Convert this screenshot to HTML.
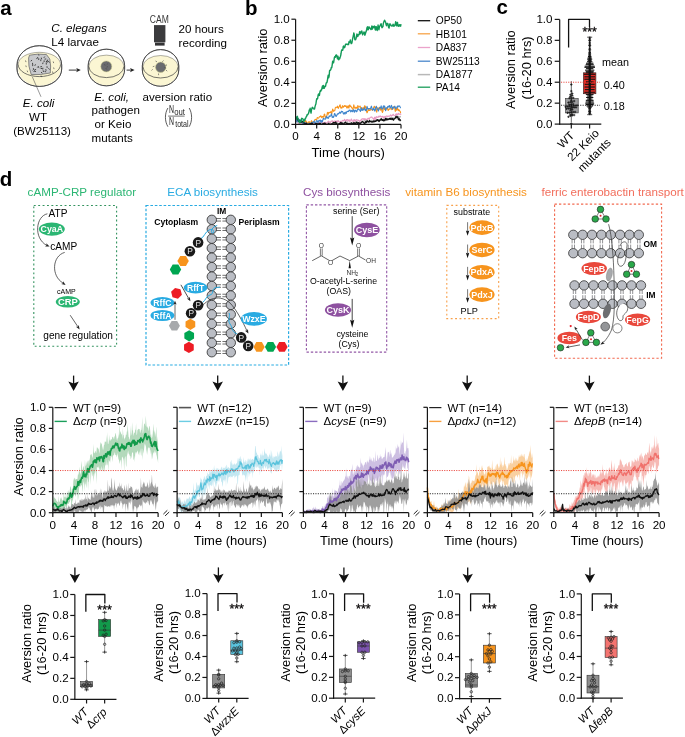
<!DOCTYPE html>
<html><head><meta charset="utf-8"><style>
html,body{margin:0;padding:0;background:#fff;}
svg{display:block;font-family:"Liberation Sans",sans-serif;will-change:transform;}
</style></head><body>
<svg width="685" height="737" viewBox="0 0 685 737">
<rect width="685" height="737" fill="#fff"/>
<text x="0.3" y="14.6" font-size="20.5" font-weight="bold" fill="#000">a</text>
<text x="245" y="14.6" font-size="20.5" font-weight="bold" fill="#000">b</text>
<text x="496.6" y="14.2" font-size="20.5" font-weight="bold" fill="#000">c</text>
<text x="-0.2" y="185.6" font-size="20.5" font-weight="bold" fill="#000">d</text>
<path d="M17,65.2 A22.35,19.5 0 0 1 61.7,65.2 L61.7,68.9 A22.35,17.5 0 0 1 17,68.9 Z" fill="#fff" stroke="#3c3c3c" stroke-width="0.7"/>
<path d="M18.15,64.45 A21.2,12.15 0 0 1 60.55,64.45 L60.55,68.9 A21.2,16.9 0 0 1 18.15,68.9 Z" fill="#fbf6d3" stroke="none" stroke-width="0"/>
<path d="M18.15,64.45 A21.2,12.15 0 0 0 60.55,64.45" fill="none" stroke="#3c3c3c" stroke-width="0.7"/>
<path d="M18.15,64.45 A21.2,12.15 0 0 1 60.55,64.45" fill="none" stroke="#3c3c3c" stroke-width="0.5" opacity="0.8"/>
<path d="M17,65.2 A22.35,19.5 0 0 1 61.7,65.2 L61.7,68.9 A22.35,17.5 0 0 1 17,68.9 Z" fill="none" stroke="#3c3c3c" stroke-width="0.75"/>
<path d="M88.2,65.5 A18.2,16.3 0 0 1 124.6,65.5 L124.6,69.5 A18.2,16.3 0 0 1 88.2,69.5 Z" fill="#fff" stroke="#3c3c3c" stroke-width="0.7"/>
<path d="M88.8,66.35 A17.6,11.25 0 0 1 124,66.35 L124,69.5 A17.6,15.7 0 0 1 88.8,69.5 Z" fill="#fbf6d3" stroke="none" stroke-width="0"/>
<path d="M88.8,66.35 A17.6,11.25 0 0 0 124,66.35" fill="none" stroke="#3c3c3c" stroke-width="0.7"/>
<path d="M88.8,66.35 A17.6,11.25 0 0 1 124,66.35" fill="none" stroke="#3c3c3c" stroke-width="0.5" opacity="0.8"/>
<path d="M88.2,65.5 A18.2,16.3 0 0 1 124.6,65.5 L124.6,69.5 A18.2,16.3 0 0 1 88.2,69.5 Z" fill="none" stroke="#3c3c3c" stroke-width="0.75"/>
<path d="M142.35,65.9 A18.2,16.3 0 0 1 178.75,65.9 L178.75,69.9 A18.2,16.3 0 0 1 142.35,69.9 Z" fill="#fff" stroke="#3c3c3c" stroke-width="0.7"/>
<path d="M142.95,66.75 A17.6,11.25 0 0 1 178.15,66.75 L178.15,69.9 A17.6,15.7 0 0 1 142.95,69.9 Z" fill="#fbf6d3" stroke="none" stroke-width="0"/>
<path d="M142.95,66.75 A17.6,11.25 0 0 0 178.15,66.75" fill="none" stroke="#3c3c3c" stroke-width="0.7"/>
<path d="M142.95,66.75 A17.6,11.25 0 0 1 178.15,66.75" fill="none" stroke="#3c3c3c" stroke-width="0.5" opacity="0.8"/>
<path d="M142.35,65.9 A18.2,16.3 0 0 1 178.75,65.9 L178.75,69.9 A18.2,16.3 0 0 1 142.35,69.9 Z" fill="none" stroke="#3c3c3c" stroke-width="0.75"/>
<path d="M29.5,55.2 Q38,53.2 46.5,54.6 L49.8,59 Q51.2,66 50.3,73 Q40,75.2 31.2,74.6 Q28,66 28.6,58 Z" fill="#c8c9cc" stroke="#4a4a4a" stroke-width="0.6"/>
<line x1="32.08" y1="60.14" x2="30.71" y2="61.14" stroke="#1a1a1a" stroke-width="0.75"/>
<line x1="41.27" y1="57.65" x2="41.62" y2="59.31" stroke="#1a1a1a" stroke-width="0.75"/>
<line x1="39.36" y1="58.8" x2="38.22" y2="60.05" stroke="#1a1a1a" stroke-width="0.75"/>
<line x1="32.6" y1="62.85" x2="32.51" y2="64.54" stroke="#1a1a1a" stroke-width="0.75"/>
<line x1="38.47" y1="66.27" x2="37.31" y2="67.52" stroke="#1a1a1a" stroke-width="0.75"/>
<line x1="48.19" y1="60.97" x2="47.43" y2="62.49" stroke="#1a1a1a" stroke-width="0.75"/>
<line x1="43.38" y1="61.12" x2="45.08" y2="61.13" stroke="#1a1a1a" stroke-width="0.75"/>
<line x1="48.51" y1="61.22" x2="49.45" y2="62.64" stroke="#1a1a1a" stroke-width="0.75"/>
<line x1="47" y1="66.24" x2="47.15" y2="67.93" stroke="#1a1a1a" stroke-width="0.75"/>
<line x1="44.81" y1="56.53" x2="43.78" y2="57.88" stroke="#1a1a1a" stroke-width="0.75"/>
<line x1="37.42" y1="57.59" x2="36.6" y2="59.08" stroke="#1a1a1a" stroke-width="0.75"/>
<line x1="47.73" y1="59.63" x2="47.06" y2="61.19" stroke="#1a1a1a" stroke-width="0.75"/>
<line x1="36.02" y1="68.98" x2="34.92" y2="70.28" stroke="#1a1a1a" stroke-width="0.75"/>
<line x1="34.55" y1="70.52" x2="33.74" y2="72.02" stroke="#1a1a1a" stroke-width="0.75"/>
<line x1="43.13" y1="70.35" x2="43.51" y2="72.01" stroke="#1a1a1a" stroke-width="0.75"/>
<line x1="44.54" y1="71.37" x2="46.15" y2="71.91" stroke="#1a1a1a" stroke-width="0.75"/>
<line x1="46.22" y1="62.89" x2="46.33" y2="64.59" stroke="#1a1a1a" stroke-width="0.75"/>
<line x1="33.21" y1="68.22" x2="34.24" y2="69.57" stroke="#1a1a1a" stroke-width="0.75"/>
<line x1="46.62" y1="60.82" x2="46.29" y2="62.49" stroke="#1a1a1a" stroke-width="0.75"/>
<line x1="37.89" y1="66.73" x2="39.28" y2="67.71" stroke="#1a1a1a" stroke-width="0.75"/>
<line x1="33.84" y1="69.07" x2="32.62" y2="70.26" stroke="#1a1a1a" stroke-width="0.75"/>
<line x1="40.99" y1="72.12" x2="42.35" y2="73.14" stroke="#1a1a1a" stroke-width="0.75"/>
<line x1="46.24" y1="58.96" x2="44.55" y2="59.15" stroke="#1a1a1a" stroke-width="0.75"/>
<line x1="42.04" y1="66.62" x2="40.35" y2="66.78" stroke="#1a1a1a" stroke-width="0.75"/>
<line x1="45.06" y1="69.82" x2="46.74" y2="70.11" stroke="#1a1a1a" stroke-width="0.75"/>
<line x1="37.33" y1="57.49" x2="38.73" y2="58.46" stroke="#1a1a1a" stroke-width="0.75"/>
<line x1="34.46" y1="71.03" x2="36.02" y2="71.69" stroke="#1a1a1a" stroke-width="0.75"/>
<line x1="35.99" y1="64.62" x2="34.48" y2="65.4" stroke="#1a1a1a" stroke-width="0.75"/>
<line x1="48.36" y1="68.39" x2="49.69" y2="69.45" stroke="#1a1a1a" stroke-width="0.75"/>
<line x1="40.58" y1="68.35" x2="42.26" y2="68.63" stroke="#1a1a1a" stroke-width="0.75"/>
<line x1="43.08" y1="62.44" x2="42.61" y2="64.08" stroke="#1a1a1a" stroke-width="0.75"/>
<line x1="42.89" y1="67.71" x2="42.76" y2="69.41" stroke="#1a1a1a" stroke-width="0.75"/>
<line x1="40.76" y1="59.47" x2="40.79" y2="61.17" stroke="#1a1a1a" stroke-width="0.75"/>
<line x1="32.82" y1="64.41" x2="32.63" y2="66.1" stroke="#1a1a1a" stroke-width="0.75"/>
<line x1="25.5" y1="60.5" x2="26" y2="62.1" stroke="#333" stroke-width="0.6"/>
<line x1="25.8" y1="65.5" x2="26.3" y2="67.1" stroke="#333" stroke-width="0.6"/>
<line x1="53.2" y1="61.5" x2="53.7" y2="63.1" stroke="#333" stroke-width="0.6"/>
<line x1="53.6" y1="67.5" x2="54.1" y2="69.1" stroke="#333" stroke-width="0.6"/>
<line x1="27.2" y1="70.6" x2="27.7" y2="72.2" stroke="#333" stroke-width="0.6"/>
<line x1="52.5" y1="71.5" x2="53" y2="73.1" stroke="#333" stroke-width="0.6"/>
<line x1="38.5" y1="54.2" x2="39" y2="55.8" stroke="#333" stroke-width="0.6"/>
<line x1="41" y1="75.5" x2="41.5" y2="77.1" stroke="#333" stroke-width="0.6"/>
<line x1="32.3" y1="76.8" x2="41" y2="96.8" stroke="#444" stroke-width="0.55"/>
<circle cx="106.3" cy="66.4" r="5.5" fill="#6a6b6e" stroke="#c9c98a" stroke-width="0.5"/>
<line x1="104.5" y1="64" x2="105.15" y2="65.68" stroke="#4a4a4c" stroke-width="0.6"/>
<line x1="107.5" y1="66" x2="106.92" y2="67.7" stroke="#4a4a4c" stroke-width="0.6"/>
<line x1="105.5" y1="68.5" x2="107.16" y2="69.2" stroke="#4a4a4c" stroke-width="0.6"/>
<line x1="108" y1="63.5" x2="106.67" y2="64.72" stroke="#4a4a4c" stroke-width="0.6"/>
<circle cx="160.7" cy="67.2" r="5.2" fill="#6a6b6e" stroke="#c9c98a" stroke-width="0.5"/>
<line x1="155.5" y1="61" x2="156.99" y2="61.82" stroke="#333" stroke-width="0.55"/>
<line x1="163.5" y1="60.5" x2="162.37" y2="61.77" stroke="#333" stroke-width="0.55"/>
<line x1="166.5" y1="64.5" x2="165.95" y2="66.11" stroke="#333" stroke-width="0.55"/>
<line x1="151.5" y1="70.5" x2="152.68" y2="69.28" stroke="#333" stroke-width="0.55"/>
<line x1="158.5" y1="73.5" x2="158.62" y2="75.2" stroke="#333" stroke-width="0.55"/>
<line x1="166" y1="70" x2="167.18" y2="71.22" stroke="#333" stroke-width="0.55"/>
<line x1="152.8" y1="66.7" x2="154.42" y2="66.2" stroke="#333" stroke-width="0.55"/>
<line x1="164.8" y1="67.2" x2="165.72" y2="68.63" stroke="#333" stroke-width="0.55"/>
<line x1="68.8" y1="70.1" x2="77.5" y2="70.1" stroke="#222" stroke-width="0.9"/>
<polygon points="80.8,70.1 76.2,72.2 77.35,70.1 76.2,68" fill="#222" stroke="none" stroke-width="0"/>
<line x1="126.6" y1="70.1" x2="131.5" y2="70.1" stroke="#222" stroke-width="0.9"/>
<polygon points="134.6,70.1 130,72.2 131.15,70.1 130,68" fill="#222" stroke="none" stroke-width="0"/>
<rect x="154" y="25.1" width="11.4" height="17.2" fill="#3b3b3d" stroke="none" stroke-width="1"/>
<rect x="155" y="42.6" width="9.6" height="3" fill="#333335" stroke="none" stroke-width="1"/>
<text x="159.3" y="22.6" font-size="10" text-anchor="middle" fill="#3a3a3a" textLength="19" lengthAdjust="spacingAndGlyphs">CAM</text>
<text x="51.3" y="32.2" font-size="11.6" font-style="italic">C. elegans</text>
<text x="51.3" y="46" font-size="11.6">L4 larvae</text>
<text x="178.6" y="32.8" font-size="11.6">20 hours</text>
<text x="178.6" y="46.6" font-size="11.6">recording</text>
<text x="22.8" y="107" font-size="11.6" font-style="italic">E. coli</text>
<text x="29" y="121" font-size="11.6">WT</text>
<text x="13.2" y="134.8" font-size="11.6">(BW25113)</text>
<text x="94.2" y="101" font-size="11.6" font-style="italic">E. coli,</text>
<text x="91.6" y="114.4" font-size="11.6">pathogen</text>
<text x="94.6" y="128" font-size="11.6">or Keio</text>
<text x="91.6" y="141.8" font-size="11.6">mutants</text>
<text x="142.5" y="100.6" font-size="11.6">aversion ratio</text>
<path d="M167.9,108.0 C164.6,113.5 164.6,121.2 167.9,126.7" fill="none" stroke="#262626" stroke-width="0.75"/>
<text x="169" y="113.4" font-size="10.2" fill="#262626" textLength="5.0" lengthAdjust="spacingAndGlyphs">N</text>
<text x="174.2" y="114.6" font-size="9.6" fill="#262626" textLength="10.8" lengthAdjust="spacingAndGlyphs">out</text>
<line x1="168.1" y1="116.1" x2="184.6" y2="116.1" stroke="#262626" stroke-width="0.65"/>
<text x="169" y="125.1" font-size="10.2" fill="#262626" textLength="5.0" lengthAdjust="spacingAndGlyphs">N</text>
<text x="175.2" y="127.2" font-size="9.6" fill="#262626" textLength="13.4" lengthAdjust="spacingAndGlyphs">total</text>
<path d="M189.2,108.0 C192.4,113.5 192.4,121.2 189.2,126.7" fill="none" stroke="#262626" stroke-width="0.75"/>
<polyline points="295.6,118.07 296.04,117.77 296.48,117.55 296.92,118.8 297.36,119.88 297.81,120.24 298.25,120.18 298.69,120.31 299.13,120.57 299.57,121.78 300.01,121.74 300.45,121.26 300.89,122.02 301.33,122.17 301.77,122.81 302.22,122.66 302.66,122.21 303.1,122.66 303.54,123.27 303.98,122.97 304.42,123.45 304.86,124.4 305.3,124.16 305.74,123.89 306.18,124.4 306.63,124.4 307.07,124.4 307.51,124.4 307.95,124.4 308.39,124.4 308.83,123.43 309.27,123.56 309.71,124.34 310.15,124.05 310.59,123.35 311.04,123.67 311.48,123.76 311.92,123.11 312.36,123.47 312.8,124.36 313.24,124.1 313.68,123.59 314.12,123.23 314.56,123.96 315,124.4 315.45,124.4 315.89,124.4 316.33,124.4 316.77,123.56 317.21,123.98 317.65,123.56 318.09,122.82 318.53,123.18 318.97,123.38 319.41,123.22 319.86,124.05 320.3,124.22 320.74,123.29 321.18,124.4 321.62,124.4 322.06,123.83 322.5,123.62 322.94,123.71 323.38,124.09 323.82,123.72 324.27,124.13 324.71,124.01 325.15,123.64 325.59,123.69 326.03,123.89 326.47,123.6 326.91,123.06 327.35,123.67 327.79,123.64 328.23,122.94 328.68,122.38 329.12,123.72 329.56,124.15 330,123.16 330.44,123.62 330.88,124.31 331.32,123.65 331.76,123.76 332.2,124.08 332.64,122.84 333.09,123.87 333.53,124.4 333.97,124.4 334.41,124.2 334.85,122.84 335.29,121.98 335.73,123.54 336.17,124.4 336.61,123.58 337.05,122.53 337.5,122.66 337.94,123.76 338.38,123.81 338.82,123.45 339.26,123.68 339.7,124.01 340.14,123.72 340.58,123.21 341.02,123.43 341.46,123.67 341.91,124.23 342.35,124.35 342.79,123.14 343.23,122.99 343.67,124.24 344.11,123.5 344.55,122.55 344.99,122.17 345.43,122.38 345.87,123.6 346.32,124.31 346.76,123.45 347.2,121.51 347.64,122.53 348.08,124.06 348.52,123.35 348.96,123.39 349.4,123.77 349.84,123.49 350.28,123.23 350.73,122.49 351.17,122.53 351.61,122.57 352.05,122.73 352.49,122.97 352.93,123.75 353.37,124.4 353.81,123.11 354.25,122.66 354.69,122.71 355.14,122.13 355.58,121.73 356.02,121.56 356.46,121.66 356.9,122.06 357.34,122.83 357.78,123.09 358.22,122.94 358.66,123.09 359.1,123.07 359.55,122.53 359.99,122.11 360.43,122.18 360.87,123.18 361.31,123.01 361.75,121.93 362.19,121.33 362.63,121.12 363.07,121.9 363.51,122.48 363.96,121.17 364.4,120.42 364.84,120.46 365.28,119.76 365.72,120.98 366.16,121.77 366.6,121.12 367.04,120.99 367.48,120.91 367.92,121.03 368.37,121.16 368.81,121.94 369.25,122.06 369.69,121.64 370.13,121.45 370.57,121.26 371.01,120.97 371.45,120.3 371.89,120.39 372.33,120.58 372.78,120.62 373.22,120.94 373.66,121 374.1,120.97 374.54,120.65 374.98,120.35 375.42,120.2 375.86,120.79 376.3,120.59 376.74,120.27 377.19,120.99 377.63,120.66 378.07,120.52 378.51,120.24 378.95,120.19 379.39,120.78 379.83,120.86 380.27,119.66 380.71,119.18 381.15,120.31 381.6,120.28 382.04,120.41 382.48,119.5 382.92,119.43 383.36,120 383.8,118.95 384.24,119.82 384.68,119.89 385.12,118.66 385.56,118.52 386.01,118.82 386.45,118.53 386.89,118.53 387.33,118.77 387.77,118.85 388.21,118.65 388.65,118.99 389.09,118.86 389.53,118.59 389.97,119.44 390.42,118.97 390.86,117.55 391.3,117.17 391.74,118.14 392.18,118.18 392.62,118.07 393.06,118.37 393.5,118.02 393.94,118.99 394.38,118.85 394.83,118.14 395.27,118.48 395.71,118.61 396.15,118.91 396.59,118.57 397.03,117.36 397.47,116.02 397.91,116.34 398.35,116.53 398.79,116.55 399.24,117.9 399.68,117.62 400.12,116.4 400.56,116.59 401,116.57" fill="none" stroke="#b9b9b9" stroke-width="1.3" stroke-linejoin="round"/>
<polyline points="295.6,121.25 296.04,120.86 296.48,120.63 296.92,120.98 297.36,120.68 297.81,121.9 298.25,123.29 298.69,123.53 299.13,123.42 299.57,122.35 300.01,122.48 300.45,122.92 300.89,124.12 301.33,124.39 301.77,123.94 302.22,123.15 302.66,122.27 303.1,122.8 303.54,123.4 303.98,123.67 304.42,123.37 304.86,123.98 305.3,124.4 305.74,124.4 306.18,124.4 306.63,124.4 307.07,124.4 307.51,124.4 307.95,124.27 308.39,124.4 308.83,124.4 309.27,124.11 309.71,124.4 310.15,124.4 310.59,124.4 311.04,124.32 311.48,124.11 311.92,124.24 312.36,124.27 312.8,122.97 313.24,122.77 313.68,124.04 314.12,123.72 314.56,123.45 315,123.62 315.45,123.19 315.89,123.7 316.33,124.4 316.77,124.4 317.21,123.58 317.65,123.54 318.09,123.54 318.53,122.74 318.97,123.21 319.41,123.02 319.86,121.78 320.3,121.8 320.74,121.99 321.18,121.92 321.62,121.27 322.06,121.7 322.5,122.85 322.94,122.57 323.38,123 323.82,124.1 324.27,124.02 324.71,122.92 325.15,122.13 325.59,123.1 326.03,124.31 326.47,123.59 326.91,122.61 327.35,122.41 327.79,121.9 328.23,121.17 328.68,121.36 329.12,121.65 329.56,122.32 330,123.25 330.44,122.48 330.88,121.44 331.32,121.14 331.76,121.13 332.2,121.05 332.64,120.89 333.09,122.22 333.53,123.01 333.97,121.77 334.41,121.01 334.85,122.03 335.29,121.67 335.73,121.05 336.17,121.77 336.61,121.34 337.05,120.76 337.5,121.64 337.94,121.47 338.38,120.62 338.82,121.54 339.26,121.7 339.7,122.44 340.14,122.61 340.58,121.3 341.02,121.3 341.46,121.55 341.91,121.21 342.35,120.98 342.79,120.32 343.23,120.32 343.67,120.99 344.11,120.65 344.55,119.36 344.99,119.8 345.43,120.62 345.87,121.25 346.32,120.77 346.76,119.53 347.2,119.51 347.64,119.87 348.08,121.12 348.52,120.59 348.96,119.6 349.4,120.54 349.84,121.73 350.28,121 350.73,120.28 351.17,119.1 351.61,119.33 352.05,121.01 352.49,120.73 352.93,121.33 353.37,121.74 353.81,119.93 354.25,119.51 354.69,120.72 355.14,121.32 355.58,120.66 356.02,119.61 356.46,119.77 356.9,120.32 357.34,120.28 357.78,119.85 358.22,120.37 358.66,120.23 359.1,120.95 359.55,121.9 359.99,120.85 360.43,120.13 360.87,120.52 361.31,120.2 361.75,118.92 362.19,118.78 362.63,119.15 363.07,118.86 363.51,118.69 363.96,119.67 364.4,119.92 364.84,118.53 365.28,118.95 365.72,119.54 366.16,119.05 366.6,119.49 367.04,119.75 367.48,119.13 367.92,118.33 368.37,118.14 368.81,119.02 369.25,119.26 369.69,118.23 370.13,117.51 370.57,117.28 371.01,117.29 371.45,117.01 371.89,116.96 372.33,117.94 372.78,118.3 373.22,118.19 373.66,119.46 374.1,119.93 374.54,117.46 374.98,117.1 375.42,119.39 375.86,119.05 376.3,116.96 376.74,116.62 377.19,117.17 377.63,117.24 378.07,117.45 378.51,116.57 378.95,116.04 379.39,116.72 379.83,116.61 380.27,115.94 380.71,116.49 381.15,116.89 381.6,116.59 382.04,117.05 382.48,116.52 382.92,116.21 383.36,117.12 383.8,117.89 384.24,118.19 384.68,116.42 385.12,116.31 385.56,116.86 386.01,116.39 386.45,116.31 386.89,115.74 387.33,116.39 387.77,116.83 388.21,116.31 388.65,116.05 389.09,116.07 389.53,116.26 389.97,115.86 390.42,114.94 390.86,114.9 391.3,115.92 391.74,115.91 392.18,115.39 392.62,115.27 393.06,114.22 393.5,114.5 393.94,115.41 394.38,115.69 394.83,115.75 395.27,115.49 395.71,114.38 396.15,113.82 396.59,114.91 397.03,113.94 397.47,114.26 397.91,114.75 398.35,113.39 398.79,113.46 399.24,114.06 399.68,114.36 400.12,114.31 400.56,113.73 401,114.71" fill="none" stroke="#e899c2" stroke-width="1.1" stroke-linejoin="round"/>
<polyline points="295.6,117.63 296.04,120.44 296.48,121.42 296.92,119.08 297.36,119.05 297.81,119.05 298.25,118.9 298.69,119.45 299.13,121.65 299.57,121.46 300.01,120.94 300.45,121.98 300.89,122.8 301.33,122 301.77,121.3 302.22,122.39 302.66,123.36 303.1,124.4 303.54,122.93 303.98,121.72 304.42,122.09 304.86,121.64 305.3,121.23 305.74,120.39 306.18,121.81 306.63,121.77 307.07,122.72 307.51,122.82 307.95,123.17 308.39,123.84 308.83,121.65 309.27,121.66 309.71,122.75 310.15,123.52 310.59,123.41 311.04,121.79 311.48,120.66 311.92,121.5 312.36,123.03 312.8,122.01 313.24,121.94 313.68,122.7 314.12,121.86 314.56,120.57 315,119.53 315.45,119.52 315.89,119.25 316.33,119.95 316.77,119.5 317.21,117.53 317.65,117.79 318.09,118.22 318.53,118.09 318.97,117.55 319.41,116.68 319.86,116.6 320.3,116.65 320.74,115.81 321.18,116.18 321.62,117.6 322.06,117.58 322.5,116.59 322.94,116.4 323.38,117.23 323.82,115.9 324.27,114.2 324.71,114.11 325.15,117.07 325.59,118.06 326.03,116.45 326.47,116.38 326.91,115.56 327.35,112.78 327.79,112.42 328.23,114.26 328.68,113.15 329.12,112.21 329.56,112.41 330,112.75 330.44,112.58 330.88,111.38 331.32,112.68 331.76,114.09 332.2,111.34 332.64,109.03 333.09,110.07 333.53,111.33 333.97,110.79 334.41,110.65 334.85,110.5 335.29,107.87 335.73,107.2 336.17,107.32 336.61,107.34 337.05,107.72 337.5,106.11 337.94,107.24 338.38,108.39 338.82,107.14 339.26,106.61 339.7,105.19 340.14,104.84 340.58,107.35 341.02,108.13 341.46,107.62 341.91,108.15 342.35,105.73 342.79,105.83 343.23,107.3 343.67,107 344.11,106.47 344.55,105.58 344.99,106.17 345.43,106.52 345.87,105.67 346.32,106.37 346.76,107.9 347.2,108.04 347.64,106.4 348.08,105.8 348.52,107.83 348.96,108.01 349.4,105.17 349.84,104.99 350.28,106.42 350.73,106.03 351.17,106.81 351.61,107.84 352.05,108.19 352.49,107.98 352.93,109.61 353.37,107.25 353.81,104.74 354.25,106.86 354.69,107.85 355.14,108.57 355.58,107.6 356.02,107.08 356.46,107.45 356.9,108.41 357.34,108.48 357.78,105.66 358.22,106.19 358.66,107.16 359.1,106.93 359.55,106.77 359.99,106 360.43,106.95 360.87,108.38 361.31,108.29 361.75,107.88 362.19,108.71 362.63,108.46 363.07,107.68 363.51,108.88 363.96,109.42 364.4,106.36 364.84,105.68 365.28,108.1 365.72,106.79 366.16,107.33 366.6,111.54 367.04,112.83 367.48,112.12 367.92,110.42 368.37,108.45 368.81,110.54 369.25,110.52 369.69,109.75 370.13,110.44 370.57,109.02 371.01,108.85 371.45,109.21 371.89,109.4 372.33,110.32 372.78,110.21 373.22,108.44 373.66,107.88 374.1,106.51 374.54,106.36 374.98,107.9 375.42,107.4 375.86,107.78 376.3,110.19 376.74,112.22 377.19,110.08 377.63,107.74 378.07,108.07 378.51,108.79 378.95,109.18 379.39,107.33 379.83,107.32 380.27,109.68 380.71,110.19 381.15,107.99 381.6,108.4 382.04,111.54 382.48,112.41 382.92,111.25 383.36,108.56 383.8,107.25 384.24,108.4 384.68,109.41 385.12,108.74 385.56,107.93 386.01,108.46 386.45,108.69 386.89,109.01 387.33,107.48 387.77,108.96 388.21,110.51 388.65,109.55 389.09,109.22 389.53,108.74 389.97,109.18 390.42,108.7 390.86,108.79 391.3,108.34 391.74,109.59 392.18,109.55 392.62,108.51 393.06,108.91 393.5,107.38 393.94,106.69 394.38,106.27 394.83,108.98 395.27,111.34 395.71,108.62 396.15,109.01 396.59,110.22 397.03,108.14 397.47,107.53 397.91,110 398.35,110.61 398.79,109.55 399.24,110.13 399.68,111.01 400.12,111.21 400.56,112.63 401,112.91" fill="none" stroke="#f7941d" stroke-width="1.1" stroke-linejoin="round"/>
<polyline points="295.6,116.44 296.04,117.72 296.48,120.09 296.92,122.18 297.36,121.58 297.81,118.48 298.25,118.59 298.69,119.65 299.13,119.25 299.57,120.88 300.01,119.93 300.45,120.37 300.89,122.73 301.33,119.83 301.77,120.42 302.22,122.83 302.66,123.35 303.1,123.34 303.54,124.4 303.98,124.4 304.42,122.82 304.86,122.27 305.3,124.09 305.74,124.13 306.18,123.72 306.63,123.82 307.07,123.59 307.51,124.4 307.95,124.4 308.39,124.02 308.83,123.77 309.27,123.12 309.71,124.4 310.15,124.4 310.59,124.4 311.04,123.42 311.48,122.5 311.92,122.55 312.36,123.4 312.8,122.67 313.24,121.89 313.68,122.03 314.12,120.97 314.56,122.99 315,123.36 315.45,122.8 315.89,122.65 316.33,120.89 316.77,120.57 317.21,120.8 317.65,122.17 318.09,122.68 318.53,121.16 318.97,120.2 319.41,120.81 319.86,121.04 320.3,119.93 320.74,121.49 321.18,122.52 321.62,120.63 322.06,120.53 322.5,121.73 322.94,119.75 323.38,118.25 323.82,118.99 324.27,118.93 324.71,118.86 325.15,119.19 325.59,119.05 326.03,118.09 326.47,116.39 326.91,116.94 327.35,117.94 327.79,117.54 328.23,118.37 328.68,117.79 329.12,115.8 329.56,116.55 330,116.39 330.44,115.98 330.88,115.53 331.32,113.82 331.76,114.95 332.2,117.5 332.64,117.3 333.09,116.65 333.53,117.34 333.97,116.24 334.41,113.84 334.85,113.57 335.29,114.78 335.73,116.14 336.17,116.34 336.61,115.82 337.05,114.73 337.5,113.86 337.94,114.21 338.38,113.64 338.82,113.63 339.26,112.68 339.7,111.97 340.14,112.96 340.58,113.18 341.02,112.38 341.46,111.28 341.91,111.58 342.35,111.45 342.79,112 343.23,113.37 343.67,114.07 344.11,113.1 344.55,112.65 344.99,114.17 345.43,112.51 345.87,112.02 346.32,113.32 346.76,111.99 347.2,111.44 347.64,111.39 348.08,111.5 348.52,111.58 348.96,110.24 349.4,110.71 349.84,110.02 350.28,110.34 350.73,111.97 351.17,111.49 351.61,110.37 352.05,110.6 352.49,111.75 352.93,111.21 353.37,109.69 353.81,110.17 354.25,112.21 354.69,111.86 355.14,110.14 355.58,110.38 356.02,110.7 356.46,111.73 356.9,111.71 357.34,109.93 357.78,109.31 358.22,109.03 358.66,108.79 359.1,109.83 359.55,109.89 359.99,110.4 360.43,111.43 360.87,109.04 361.31,107.76 361.75,110.23 362.19,110.41 362.63,109.16 363.07,110.28 363.51,109.69 363.96,108.88 364.4,107.82 364.84,109.11 365.28,110.62 365.72,109.47 366.16,110.63 366.6,109.46 367.04,106.36 367.48,107.85 367.92,108.97 368.37,108.63 368.81,108.68 369.25,108.98 369.69,108.48 370.13,108.88 370.57,108.42 371.01,107.11 371.45,106.19 371.89,107.89 372.33,110.02 372.78,109.69 373.22,109.72 373.66,108.24 374.1,108.89 374.54,110.47 374.98,111.15 375.42,109.73 375.86,107.15 376.3,106.33 376.74,107.37 377.19,109.18 377.63,109.5 378.07,109.95 378.51,110.97 378.95,108.77 379.39,107.65 379.83,108.28 380.27,108.24 380.71,107.35 381.15,105.87 381.6,107.62 382.04,109.13 382.48,109.01 382.92,107.55 383.36,105.88 383.8,107.22 384.24,106.29 384.68,105.99 385.12,108.95 385.56,110.67 386.01,109.73 386.45,107.7 386.89,108.04 387.33,107.98 387.77,106.43 388.21,106.76 388.65,107.03 389.09,105.53 389.53,105.79 389.97,107.67 390.42,107.7 390.86,106.74 391.3,105.29 391.74,106.12 392.18,109.26 392.62,108.63 393.06,107.04 393.5,107.64 393.94,107.44 394.38,106.82 394.83,106.27 395.27,107.25 395.71,108.88 396.15,108.18 396.59,108.02 397.03,106.92 397.47,105.99 397.91,107.09 398.35,106.29 398.79,105.84 399.24,106.29 399.68,106.03 400.12,107.01 400.56,107.81 401,107.68" fill="none" stroke="#3f86cc" stroke-width="1.1" stroke-linejoin="round"/>
<polyline points="295.6,116.67 296.04,117.85 296.48,117.71 296.92,118.25 297.36,118.92 297.81,119.02 298.25,120.69 298.69,121.32 299.13,121.17 299.57,120.82 300.01,120.34 300.45,121.76 300.89,122.16 301.33,121.96 301.77,122.06 302.22,121.65 302.66,121.71 303.1,121.74 303.54,121.85 303.98,122.89 304.42,124.07 304.86,124.4 305.3,124.22 305.74,123.31 306.18,122.86 306.63,123.5 307.07,124.18 307.51,124.29 307.95,124.4 308.39,124.4 308.83,124.4 309.27,124.02 309.71,124.4 310.15,123.9 310.59,123.72 311.04,124.4 311.48,124.04 311.92,123.08 312.36,123.58 312.8,124.28 313.24,124.4 313.68,124.4 314.12,124.4 314.56,124.32 315,124.4 315.45,123.8 315.89,123.34 316.33,123.76 316.77,123.49 317.21,124.4 317.65,124.4 318.09,123.68 318.53,124.4 318.97,124.4 319.41,123.49 319.86,123.36 320.3,123.36 320.74,124.4 321.18,124.4 321.62,124.4 322.06,124.4 322.5,124.21 322.94,123.69 323.38,123.37 323.82,124.29 324.27,124.21 324.71,123.03 325.15,123.31 325.59,124.4 326.03,124.4 326.47,124.4 326.91,124.4 327.35,124.4 327.79,124.4 328.23,124.4 328.68,123.46 329.12,123.86 329.56,124.4 330,124.4 330.44,124.29 330.88,124.4 331.32,123.91 331.76,123.93 332.2,124.4 332.64,124.36 333.09,122.85 333.53,122.45 333.97,122.91 334.41,122.68 334.85,123.21 335.29,123.16 335.73,121.98 336.17,123.17 336.61,123.97 337.05,124.4 337.5,124.4 337.94,124.2 338.38,124.25 338.82,124.4 339.26,123.63 339.7,123.65 340.14,123.4 340.58,122.52 341.02,122.89 341.46,123.32 341.91,122.69 342.35,123.37 342.79,124.4 343.23,124.4 343.67,124.4 344.11,123.12 344.55,123.11 344.99,122.6 345.43,122.07 345.87,122.67 346.32,123.41 346.76,124.21 347.2,124.13 347.64,123.46 348.08,123.54 348.52,123.9 348.96,124.03 349.4,123.52 349.84,124.13 350.28,124.4 350.73,123.71 351.17,123.2 351.61,122.87 352.05,123.29 352.49,123.88 352.93,124.3 353.37,123.44 353.81,122.57 354.25,123 354.69,123.6 355.14,124.21 355.58,123.28 356.02,122.72 356.46,123.03 356.9,122.14 357.34,123.07 357.78,124.27 358.22,123.34 358.66,122.64 359.1,123.26 359.55,123.53 359.99,123.25 360.43,123.42 360.87,122.88 361.31,122.44 361.75,121.99 362.19,121.72 362.63,121.5 363.07,122.11 363.51,122.56 363.96,122.78 364.4,123.7 364.84,123.62 365.28,122.42 365.72,121.59 366.16,122.65 366.6,122.05 367.04,120.73 367.48,121.38 367.92,121.89 368.37,121.74 368.81,122.14 369.25,120.94 369.69,120.52 370.13,121.68 370.57,121.56 371.01,121.74 371.45,121.96 371.89,121.43 372.33,121.54 372.78,122.14 373.22,121.89 373.66,120.95 374.1,120.99 374.54,121.8 374.98,121.11 375.42,121.12 375.86,121.38 376.3,120.36 376.74,119.96 377.19,120.32 377.63,119.73 378.07,119.89 378.51,120.86 378.95,121.45 379.39,121.09 379.83,119.9 380.27,120.19 380.71,119.54 381.15,118.69 381.6,119.11 382.04,120.13 382.48,120.39 382.92,119.59 383.36,120.66 383.8,120.81 384.24,119.9 384.68,120.68 385.12,120.28 385.56,118.43 386.01,118.26 386.45,119.6 386.89,120.04 387.33,119.05 387.77,119.28 388.21,119.6 388.65,119.15 389.09,119.18 389.53,118.36 389.97,119.13 390.42,119.32 390.86,118.32 391.3,118.76 391.74,119.53 392.18,119.18 392.62,118.42 393.06,119.81 393.5,120.12 393.94,119.13 394.38,118.8 394.83,118.36 395.27,118.11 395.71,116.92 396.15,116.27 396.59,117.35 397.03,117.48 397.47,116.71 397.91,117.43 398.35,119.38 398.79,119.72 399.24,118.7 399.68,119.64 400.12,120.62 400.56,119.99 401,119.71" fill="none" stroke="#111111" stroke-width="1.3" stroke-linejoin="round"/>
<polyline points="295.6,119.83 296.04,119.22 296.48,117.44 296.92,117.1 297.36,116.31 297.81,118.09 298.25,119.69 298.69,119.8 299.13,122.21 299.57,122.73 300.01,121.03 300.45,121.4 300.89,121.89 301.33,119.32 301.77,118.22 302.22,118.66 302.66,118.71 303.1,119.38 303.54,121.75 303.98,120.19 304.42,119.56 304.86,120.26 305.3,118.42 305.74,118.1 306.18,116.76 306.63,116.39 307.07,114.72 307.51,114.91 307.95,114.12 308.39,113.67 308.83,112.3 309.27,110 309.71,110.77 310.15,108.31 310.59,111.15 311.04,113.16 311.48,109.86 311.92,108.33 312.36,107.3 312.8,107.53 313.24,108.4 313.68,108.86 314.12,109.04 314.56,108.97 315,106.67 315.45,105.1 315.89,104 316.33,100.83 316.77,98.67 317.21,98.97 317.65,98.47 318.09,95.23 318.53,93.88 318.97,95.5 319.41,95.42 319.86,92.15 320.3,90.7 320.74,91.23 321.18,89.6 321.62,89.9 322.06,87.62 322.5,85.85 322.94,88.35 323.38,85.49 323.82,85.87 324.27,88.31 324.71,86.63 325.15,86.64 325.59,86.23 326.03,83.73 326.47,82.43 326.91,82.46 327.35,80.8 327.79,77.72 328.23,75.14 328.68,77.87 329.12,76.19 329.56,70.94 330,70.15 330.44,70.29 330.88,69.39 331.32,67.44 331.76,67.54 332.2,64.87 332.64,61.22 333.09,61.68 333.53,62.83 333.97,60.26 334.41,57.42 334.85,56.76 335.29,57.28 335.73,55.48 336.17,54.91 336.61,55.18 337.05,57.11 337.5,58.79 337.94,56.11 338.38,59.16 338.82,59.76 339.26,58.01 339.7,58.65 340.14,57.36 340.58,56.05 341.02,53.75 341.46,50.8 341.91,49.83 342.35,50.29 342.79,50.12 343.23,46.49 343.67,46.02 344.11,47.7 344.55,47.67 344.99,46.72 345.43,44.7 345.87,44.08 346.32,44.31 346.76,44.1 347.2,44.53 347.64,44.12 348.08,44.47 348.52,44.53 348.96,41.82 349.4,42.58 349.84,42.13 350.28,40.03 350.73,41.81 351.17,43.62 351.61,43.57 352.05,42.26 352.49,39.44 352.93,37.4 353.37,35.81 353.81,32.93 354.25,34.39 354.69,38.93 355.14,39.89 355.58,39.66 356.02,38.51 356.46,36.55 356.9,34.04 357.34,34.95 357.78,36.5 358.22,34.82 358.66,34.47 359.1,34.7 359.55,32 359.99,31.46 360.43,33.79 360.87,32.66 361.31,32.36 361.75,31.03 362.19,32.6 362.63,34.81 363.07,33.91 363.51,33.69 363.96,31.97 364.4,32.29 364.84,35.23 365.28,34.04 365.72,32.58 366.16,31.55 366.6,29.67 367.04,27.55 367.48,26.78 367.92,29.79 368.37,29.6 368.81,27 369.25,26.93 369.69,28.06 370.13,28.42 370.57,28.82 371.01,29.53 371.45,27.6 371.89,26.02 372.33,29.05 372.78,28.22 373.22,26.48 373.66,27.43 374.1,27.23 374.54,26.06 374.98,28.76 375.42,30.08 375.86,26.75 376.3,26.79 376.74,29.27 377.19,30.5 377.63,28.24 378.07,25.02 378.51,27.43 378.95,29.69 379.39,26.97 379.83,25.91 380.27,25.48 380.71,24.22 381.15,23.77 381.6,26.65 382.04,27.72 382.48,27.1 382.92,26.59 383.36,23.37 383.8,21.98 384.24,20.86 384.68,20.26 385.12,21.51 385.56,22 386.01,24.19 386.45,25.67 386.89,24.31 387.33,23.39 387.77,23.51 388.21,25.62 388.65,27.69 389.09,28.05 389.53,24.79 389.97,23.73 390.42,25.05 390.86,24.88 391.3,25.91 391.74,25.99 392.18,26.11 392.62,25.62 393.06,24.11 393.5,25.56 393.94,26.32 394.38,25.03 394.83,25.46 395.27,24.22 395.71,21.73 396.15,24.14 396.59,25.91 397.03,23.18 397.47,22.46 397.91,25.68 398.35,26.18 398.79,24.85 399.24,26.03 399.68,24.78 400.12,25.55 400.56,26.24 401,24.14" fill="none" stroke="#129a58" stroke-width="1.4" stroke-linejoin="round"/>
<line x1="295.6" y1="19.2" x2="295.6" y2="125" stroke="#161616" stroke-width="1.2"/>
<line x1="291.4" y1="124.4" x2="295.6" y2="124.4" stroke="#161616" stroke-width="1.2"/>
<text x="289.8" y="128.23" font-size="11.6" text-anchor="end">0.0</text>
<line x1="291.4" y1="103.36" x2="295.6" y2="103.36" stroke="#161616" stroke-width="1.2"/>
<text x="289.8" y="107.19" font-size="11.6" text-anchor="end">0.2</text>
<line x1="291.4" y1="82.32" x2="295.6" y2="82.32" stroke="#161616" stroke-width="1.2"/>
<text x="289.8" y="86.15" font-size="11.6" text-anchor="end">0.4</text>
<line x1="291.4" y1="61.28" x2="295.6" y2="61.28" stroke="#161616" stroke-width="1.2"/>
<text x="289.8" y="65.11" font-size="11.6" text-anchor="end">0.6</text>
<line x1="291.4" y1="40.24" x2="295.6" y2="40.24" stroke="#161616" stroke-width="1.2"/>
<text x="289.8" y="44.07" font-size="11.6" text-anchor="end">0.8</text>
<line x1="291.4" y1="19.2" x2="295.6" y2="19.2" stroke="#161616" stroke-width="1.2"/>
<text x="289.8" y="23.03" font-size="11.6" text-anchor="end">1.0</text>
<line x1="295" y1="124.4" x2="401" y2="124.4" stroke="#161616" stroke-width="1.2"/>
<line x1="295.6" y1="124.4" x2="295.6" y2="128.6" stroke="#161616" stroke-width="1.2"/>
<text x="295.6" y="140.4" font-size="11.6" text-anchor="middle">0</text>
<line x1="316.68" y1="124.4" x2="316.68" y2="128.6" stroke="#161616" stroke-width="1.2"/>
<text x="316.68" y="140.4" font-size="11.6" text-anchor="middle">4</text>
<line x1="337.76" y1="124.4" x2="337.76" y2="128.6" stroke="#161616" stroke-width="1.2"/>
<text x="337.76" y="140.4" font-size="11.6" text-anchor="middle">8</text>
<line x1="358.84" y1="124.4" x2="358.84" y2="128.6" stroke="#161616" stroke-width="1.2"/>
<text x="358.84" y="140.4" font-size="11.6" text-anchor="middle">12</text>
<line x1="379.92" y1="124.4" x2="379.92" y2="128.6" stroke="#161616" stroke-width="1.2"/>
<text x="379.92" y="140.4" font-size="11.6" text-anchor="middle">16</text>
<line x1="401" y1="124.4" x2="401" y2="128.6" stroke="#161616" stroke-width="1.2"/>
<text x="401" y="140.4" font-size="11.6" text-anchor="middle">20</text>
<text x="348.2" y="157.2" font-size="13" text-anchor="middle">Time (hours)</text>
<text x="267.4" y="67.8" font-size="12.9" text-anchor="middle" transform="rotate(-90 267.4 67.8)">Aversion ratio</text>
<line x1="417.8" y1="20.7" x2="430.2" y2="20.7" stroke="#111" stroke-width="1.3"/>
<text x="435.8" y="24.4" font-size="10.2">OP50</text>
<line x1="417.8" y1="33.8" x2="430.2" y2="33.8" stroke="#f7a348" stroke-width="1.3"/>
<text x="435.8" y="37.5" font-size="10.2">HB101</text>
<line x1="417.8" y1="47.5" x2="430.2" y2="47.5" stroke="#eba3cb" stroke-width="1.3"/>
<text x="435.8" y="51.2" font-size="10.2">DA837</text>
<line x1="417.8" y1="61.2" x2="430.2" y2="61.2" stroke="#4a87cc" stroke-width="1.3"/>
<text x="435.8" y="64.9" font-size="10.2">BW25113</text>
<line x1="417.8" y1="74.6" x2="430.2" y2="74.6" stroke="#b8b8b8" stroke-width="1.5"/>
<text x="435.8" y="78.3" font-size="10.2">DA1877</text>
<line x1="417.8" y1="87.2" x2="430.2" y2="87.2" stroke="#1a9e5a" stroke-width="1.3"/>
<text x="435.8" y="90.9" font-size="10.2">PA14</text>
<rect x="565.5" y="98.45" width="12.7" height="14.45" fill="#9d9d9f" stroke="#333" stroke-width="0.6"/>
<line x1="571.3" y1="81.17" x2="571.3" y2="122.01" stroke="#222" stroke-width="0.7"/>
<path d="M570.1,123.49 h2.4 M571.3,122.29 v2.4" fill="none" stroke="#111" stroke-width="0.75"/>
<path d="M567.25,116.81 h2.4 M568.45,115.61 v2.4" fill="none" stroke="#111" stroke-width="0.75"/>
<path d="M569.15,115.83 h2.4 M570.35,114.63 v2.4" fill="none" stroke="#111" stroke-width="0.75"/>
<path d="M571.05,115.39 h2.4 M572.25,114.19 v2.4" fill="none" stroke="#111" stroke-width="0.75"/>
<path d="M572.95,115.05 h2.4 M574.15,113.85 v2.4" fill="none" stroke="#111" stroke-width="0.75"/>
<path d="M569.15,114.77 h2.4 M570.35,113.57 v2.4" fill="none" stroke="#111" stroke-width="0.75"/>
<path d="M571.05,114.38 h2.4 M572.25,113.18 v2.4" fill="none" stroke="#111" stroke-width="0.75"/>
<path d="M566.3,112.84 h2.4 M567.5,111.64 v2.4" fill="none" stroke="#111" stroke-width="0.75"/>
<path d="M568.2,112.66 h2.4 M569.4,111.46 v2.4" fill="none" stroke="#111" stroke-width="0.75"/>
<path d="M570.1,112.25 h2.4 M571.3,111.05 v2.4" fill="none" stroke="#111" stroke-width="0.75"/>
<path d="M572,111.96 h2.4 M573.2,110.76 v2.4" fill="none" stroke="#111" stroke-width="0.75"/>
<path d="M573.9,111.95 h2.4 M575.1,110.75 v2.4" fill="none" stroke="#111" stroke-width="0.75"/>
<path d="M569.15,110.14 h2.4 M570.35,108.94 v2.4" fill="none" stroke="#111" stroke-width="0.75"/>
<path d="M571.05,109.59 h2.4 M572.25,108.39 v2.4" fill="none" stroke="#111" stroke-width="0.75"/>
<path d="M565.35,108.77 h2.4 M566.55,107.57 v2.4" fill="none" stroke="#111" stroke-width="0.75"/>
<path d="M567.25,108.49 h2.4 M568.45,107.29 v2.4" fill="none" stroke="#111" stroke-width="0.75"/>
<path d="M569.15,108.32 h2.4 M570.35,107.12 v2.4" fill="none" stroke="#111" stroke-width="0.75"/>
<path d="M571.05,107.61 h2.4 M572.25,106.41 v2.4" fill="none" stroke="#111" stroke-width="0.75"/>
<path d="M572.95,107.47 h2.4 M574.15,106.27 v2.4" fill="none" stroke="#111" stroke-width="0.75"/>
<path d="M574.85,107.44 h2.4 M576.05,106.24 v2.4" fill="none" stroke="#111" stroke-width="0.75"/>
<path d="M564.4,106.82 h2.4 M565.6,105.62 v2.4" fill="none" stroke="#111" stroke-width="0.75"/>
<path d="M566.3,106.5 h2.4 M567.5,105.3 v2.4" fill="none" stroke="#111" stroke-width="0.75"/>
<path d="M568.2,106.4 h2.4 M569.4,105.2 v2.4" fill="none" stroke="#111" stroke-width="0.75"/>
<path d="M570.1,106.22 h2.4 M571.3,105.02 v2.4" fill="none" stroke="#111" stroke-width="0.75"/>
<path d="M572,105.93 h2.4 M573.2,104.73 v2.4" fill="none" stroke="#111" stroke-width="0.75"/>
<path d="M573.9,105.64 h2.4 M575.1,104.44 v2.4" fill="none" stroke="#111" stroke-width="0.75"/>
<path d="M575.8,105.4 h2.4 M577,104.2 v2.4" fill="none" stroke="#111" stroke-width="0.75"/>
<path d="M568.2,104.7 h2.4 M569.4,103.5 v2.4" fill="none" stroke="#111" stroke-width="0.75"/>
<path d="M570.1,104.56 h2.4 M571.3,103.36 v2.4" fill="none" stroke="#111" stroke-width="0.75"/>
<path d="M572,104.14 h2.4 M573.2,102.94 v2.4" fill="none" stroke="#111" stroke-width="0.75"/>
<path d="M567.25,102.58 h2.4 M568.45,101.38 v2.4" fill="none" stroke="#111" stroke-width="0.75"/>
<path d="M569.15,102.09 h2.4 M570.35,100.89 v2.4" fill="none" stroke="#111" stroke-width="0.75"/>
<path d="M571.05,101.99 h2.4 M572.25,100.79 v2.4" fill="none" stroke="#111" stroke-width="0.75"/>
<path d="M572.95,101.05 h2.4 M574.15,99.85 v2.4" fill="none" stroke="#111" stroke-width="0.75"/>
<path d="M570.1,100.28 h2.4 M571.3,99.08 v2.4" fill="none" stroke="#111" stroke-width="0.75"/>
<path d="M568.2,98.11 h2.4 M569.4,96.91 v2.4" fill="none" stroke="#111" stroke-width="0.75"/>
<path d="M570.1,97.93 h2.4 M571.3,96.73 v2.4" fill="none" stroke="#111" stroke-width="0.75"/>
<path d="M572,97.82 h2.4 M573.2,96.62 v2.4" fill="none" stroke="#111" stroke-width="0.75"/>
<path d="M569.15,96.56 h2.4 M570.35,95.36 v2.4" fill="none" stroke="#111" stroke-width="0.75"/>
<path d="M571.05,95.46 h2.4 M572.25,94.26 v2.4" fill="none" stroke="#111" stroke-width="0.75"/>
<path d="M569.15,94.7 h2.4 M570.35,93.5 v2.4" fill="none" stroke="#111" stroke-width="0.75"/>
<path d="M571.05,93.55 h2.4 M572.25,92.35 v2.4" fill="none" stroke="#111" stroke-width="0.75"/>
<path d="M570.1,91.11 h2.4 M571.3,89.91 v2.4" fill="none" stroke="#111" stroke-width="0.75"/>
<path d="M570.1,84.56 h2.4 M571.3,83.36 v2.4" fill="none" stroke="#111" stroke-width="0.75"/>
<rect x="583.4" y="72.8" width="12.5" height="20.94" fill="#e52b26" stroke="#222" stroke-width="0.6"/>
<line x1="589.7" y1="37.2" x2="589.7" y2="114.68" stroke="#222" stroke-width="0.8"/>
<line x1="587.2" y1="37.2" x2="592.2" y2="37.2" stroke="#222" stroke-width="0.8"/>
<line x1="587.2" y1="114.68" x2="592.2" y2="114.68" stroke="#222" stroke-width="0.8"/>
<line x1="588.87" y1="37.2" x2="590.53" y2="37.2" stroke="#111" stroke-width="1.1"/>
<line x1="588.75" y1="38.5" x2="590.65" y2="38.5" stroke="#111" stroke-width="1.1"/>
<line x1="588.81" y1="39.73" x2="590.59" y2="39.73" stroke="#111" stroke-width="1.1"/>
<line x1="588.78" y1="40.84" x2="590.62" y2="40.84" stroke="#111" stroke-width="1.1"/>
<line x1="588.73" y1="42.42" x2="590.67" y2="42.42" stroke="#111" stroke-width="1.1"/>
<line x1="588.77" y1="43.56" x2="590.63" y2="43.56" stroke="#111" stroke-width="1.1"/>
<line x1="588.6" y1="44.82" x2="590.8" y2="44.82" stroke="#111" stroke-width="1.1"/>
<line x1="589" y1="45.93" x2="590.4" y2="45.93" stroke="#111" stroke-width="1.1"/>
<line x1="588.83" y1="47.08" x2="590.57" y2="47.08" stroke="#111" stroke-width="1.1"/>
<line x1="588.7" y1="48.62" x2="590.7" y2="48.62" stroke="#111" stroke-width="1.1"/>
<line x1="588.94" y1="50.05" x2="590.46" y2="50.05" stroke="#111" stroke-width="1.1"/>
<line x1="588.72" y1="51.24" x2="590.68" y2="51.24" stroke="#111" stroke-width="1.1"/>
<line x1="588.38" y1="52.65" x2="591.02" y2="52.65" stroke="#111" stroke-width="1.1"/>
<line x1="588.54" y1="54.04" x2="590.86" y2="54.04" stroke="#111" stroke-width="1.1"/>
<line x1="588.33" y1="55.23" x2="591.07" y2="55.23" stroke="#111" stroke-width="1.1"/>
<line x1="587.96" y1="56.46" x2="591.44" y2="56.46" stroke="#111" stroke-width="1.1"/>
<line x1="587.56" y1="58" x2="591.84" y2="58" stroke="#111" stroke-width="1.1"/>
<line x1="587.19" y1="59.16" x2="592.21" y2="59.16" stroke="#111" stroke-width="1.1"/>
<line x1="587.65" y1="60.27" x2="591.75" y2="60.27" stroke="#111" stroke-width="1.1"/>
<line x1="587.03" y1="61.72" x2="592.37" y2="61.72" stroke="#111" stroke-width="1.1"/>
<line x1="585.98" y1="63.23" x2="593.42" y2="63.23" stroke="#111" stroke-width="1.1"/>
<line x1="585.68" y1="64.66" x2="593.72" y2="64.66" stroke="#111" stroke-width="1.1"/>
<line x1="584.68" y1="66.21" x2="594.72" y2="66.21" stroke="#111" stroke-width="1.1"/>
<line x1="584.39" y1="67.33" x2="595.01" y2="67.33" stroke="#111" stroke-width="1.1"/>
<line x1="586.04" y1="68.64" x2="593.36" y2="68.64" stroke="#111" stroke-width="1.1"/>
<line x1="585.05" y1="70.18" x2="594.35" y2="70.18" stroke="#111" stroke-width="1.1"/>
<line x1="585.69" y1="71.66" x2="593.71" y2="71.66" stroke="#111" stroke-width="1.1"/>
<line x1="586.07" y1="72.77" x2="593.33" y2="72.77" stroke="#111" stroke-width="1.1"/>
<line x1="583.94" y1="74.27" x2="595.46" y2="74.27" stroke="#111" stroke-width="1.1"/>
<line x1="584.42" y1="76.83" x2="594.98" y2="76.83" stroke="#111" stroke-width="1.1"/>
<line x1="584.39" y1="79.23" x2="595.01" y2="79.23" stroke="#111" stroke-width="1.1"/>
<line x1="585.92" y1="81.85" x2="593.48" y2="81.85" stroke="#111" stroke-width="1.1"/>
<line x1="584.78" y1="84.31" x2="594.62" y2="84.31" stroke="#111" stroke-width="1.1"/>
<line x1="584.55" y1="87.03" x2="594.85" y2="87.03" stroke="#111" stroke-width="1.1"/>
<line x1="584.82" y1="89.65" x2="594.58" y2="89.65" stroke="#111" stroke-width="1.1"/>
<line x1="584.47" y1="92.28" x2="594.93" y2="92.28" stroke="#111" stroke-width="1.1"/>
<line x1="585.84" y1="94.59" x2="593.56" y2="94.59" stroke="#111" stroke-width="1.1"/>
<line x1="586.97" y1="95.98" x2="592.43" y2="95.98" stroke="#111" stroke-width="1.1"/>
<line x1="586.08" y1="97.47" x2="593.32" y2="97.47" stroke="#111" stroke-width="1.1"/>
<line x1="586.94" y1="99.04" x2="592.46" y2="99.04" stroke="#111" stroke-width="1.1"/>
<line x1="585.82" y1="100.35" x2="593.58" y2="100.35" stroke="#111" stroke-width="1.1"/>
<line x1="585.71" y1="101.93" x2="593.69" y2="101.93" stroke="#111" stroke-width="1.1"/>
<line x1="585.26" y1="103.2" x2="594.14" y2="103.2" stroke="#111" stroke-width="1.1"/>
<line x1="585.71" y1="104.53" x2="593.69" y2="104.53" stroke="#111" stroke-width="1.1"/>
<line x1="586.44" y1="105.97" x2="592.96" y2="105.97" stroke="#111" stroke-width="1.1"/>
<line x1="587.38" y1="107.07" x2="592.02" y2="107.07" stroke="#111" stroke-width="1.1"/>
<line x1="588.28" y1="108.63" x2="591.12" y2="108.63" stroke="#111" stroke-width="1.1"/>
<line x1="588.47" y1="109.85" x2="590.93" y2="109.85" stroke="#111" stroke-width="1.1"/>
<line x1="588.38" y1="110.96" x2="591.02" y2="110.96" stroke="#111" stroke-width="1.1"/>
<line x1="588.52" y1="112.31" x2="590.88" y2="112.31" stroke="#111" stroke-width="1.1"/>
<line x1="588.91" y1="113.8" x2="590.49" y2="113.8" stroke="#111" stroke-width="1.1"/>
<rect x="588.6" y="57.09" width="2.2" height="51.3" fill="#111" stroke="none" stroke-width="1"/>
<path d="M588.2,40.34 h3 M589.7,38.84 v3" fill="none" stroke="#111" stroke-width="0.8"/>
<path d="M588.2,45.58 h3 M589.7,44.08 v3" fill="none" stroke="#111" stroke-width="0.8"/>
<path d="M588.2,49.76 h3 M589.7,48.26 v3" fill="none" stroke="#111" stroke-width="0.8"/>
<path d="M588.2,53.95 h3 M589.7,52.45 v3" fill="none" stroke="#111" stroke-width="0.8"/>
<path d="M588.2,111.54 h3 M589.7,110.04 v3" fill="none" stroke="#111" stroke-width="0.8"/>
<path d="M588.2,113.63 h3 M589.7,112.13 v3" fill="none" stroke="#111" stroke-width="0.8"/>
<line x1="561" y1="82.22" x2="600" y2="82.22" stroke="#e8332a" stroke-width="0.9" stroke-dasharray="1.1 1.3"/>
<line x1="561" y1="105.25" x2="600" y2="105.25" stroke="#111" stroke-width="0.9" stroke-dasharray="1.1 1.3"/>
<line x1="559.7" y1="19.4" x2="559.7" y2="124.7" stroke="#161616" stroke-width="1.2"/>
<line x1="554.7" y1="124.1" x2="559.7" y2="124.1" stroke="#161616" stroke-width="1.2"/>
<text x="552.5" y="127.93" font-size="11.6" text-anchor="end">0.0</text>
<line x1="554.7" y1="103.16" x2="559.7" y2="103.16" stroke="#161616" stroke-width="1.2"/>
<text x="552.5" y="106.99" font-size="11.6" text-anchor="end">0.2</text>
<line x1="554.7" y1="82.22" x2="559.7" y2="82.22" stroke="#161616" stroke-width="1.2"/>
<text x="552.5" y="86.05" font-size="11.6" text-anchor="end">0.4</text>
<line x1="554.7" y1="61.28" x2="559.7" y2="61.28" stroke="#161616" stroke-width="1.2"/>
<text x="552.5" y="65.11" font-size="11.6" text-anchor="end">0.6</text>
<line x1="554.7" y1="40.34" x2="559.7" y2="40.34" stroke="#161616" stroke-width="1.2"/>
<text x="552.5" y="44.17" font-size="11.6" text-anchor="end">0.8</text>
<line x1="554.7" y1="19.4" x2="559.7" y2="19.4" stroke="#161616" stroke-width="1.2"/>
<text x="552.5" y="23.23" font-size="11.6" text-anchor="end">1.0</text>
<line x1="559.1" y1="124.1" x2="601.3" y2="124.1" stroke="#161616" stroke-width="1.2"/>
<line x1="571.3" y1="124.1" x2="571.3" y2="128.5" stroke="#161616" stroke-width="1.2"/>
<line x1="589.6" y1="124.1" x2="589.6" y2="128.5" stroke="#161616" stroke-width="1.2"/>
<polyline points="568.6,47.6 568.6,19.4 589.5,19.4 589.5,26.9" fill="none" stroke="#111" stroke-width="1.3" stroke-linejoin="round"/>
<text x="589.7" y="36.4" font-size="12.2" text-anchor="middle" stroke="#231f20" stroke-width="0.35">***</text>
<text x="602" y="66.4" font-size="10.8">mean</text>
<text x="603.8" y="89.2" font-size="10.8">0.40</text>
<text x="603.8" y="109.6" font-size="10.8">0.18</text>
<text x="514.9" y="69.6" font-size="12.9" text-anchor="middle" transform="rotate(-90 514.9 69.6)">Aversion ratio</text>
<text x="531.4" y="67.9" font-size="12.9" text-anchor="middle" transform="rotate(-90 531.4 67.9)">(16-20 hrs)</text>
<text x="575" y="136.3" font-size="11.6" text-anchor="end" transform="rotate(-45 575 136.3)">WT</text>
<text x="599.8" y="134" font-size="11.6" text-anchor="end" transform="rotate(-45 599.8 134)">22 Keio</text>
<text x="611.6" y="143.4" font-size="11.6" text-anchor="end" transform="rotate(-45 611.6 143.4)">mutants</text>
<text x="27.6" y="196.1" font-size="11.65" fill="#2bb673">cAMP-CRP regulator</text>
<text x="167.3" y="196.1" font-size="11.65" fill="#29abe2">ECA biosynthesis</text>
<text x="303" y="196.1" font-size="11.65" fill="#8e51a0">Cys biosynthesis</text>
<text x="405.3" y="196.1" font-size="11.65" fill="#f7941d">vitamin B6 biosynthesis</text>
<text x="541.5" y="196.1" font-size="11.65" fill="#f26d5b">ferric enterobactin transport</text>
<rect x="33.8" y="205.5" width="82.8" height="140.8" fill="none" stroke="#33935f" stroke-width="1.1" stroke-dasharray="1.9 2.5"/>
<rect x="146" y="205.5" width="142.6" height="159.5" fill="none" stroke="#29abe2" stroke-width="1.2" stroke-dasharray="2.6 1.8"/>
<rect x="306.4" y="204.9" width="80.3" height="147.2" fill="none" stroke="#9358a6" stroke-width="1.1" stroke-dasharray="2.4 1.9"/>
<rect x="446.8" y="205.4" width="51.9" height="113.2" fill="none" stroke="#f8a04a" stroke-width="1.1" stroke-dasharray="1.9 2.5"/>
<rect x="554.6" y="204.1" width="107" height="154.1" fill="none" stroke="#f26a50" stroke-width="1.1" stroke-dasharray="2.3 2.1"/>
<text x="48.6" y="217" font-size="10.1">ATP</text>
<ellipse cx="51.8" cy="229.1" rx="13" ry="6.6" fill="#2bb673" stroke="none" stroke-width="1"/>
<text x="51.8" y="232.1" font-size="8.8" font-weight="bold" text-anchor="middle" fill="#fff">CyaA</text>
<text x="50.3" y="249.6" font-size="10.1">cAMP</text>
<path d="M47.4,213.8 C36,216 33,238 47,245.6" fill="none" stroke="#222" stroke-width="0.7"/>
<polygon points="49.6,246.4 45.07,246.56 46.64,245.32 46.23,243.37" fill="#222" stroke="none" stroke-width="0"/>
<path d="M64.7,252.4 C52,256 51,276 63,283" fill="none" stroke="#222" stroke-width="0.7"/>
<polygon points="65.6,285 61.18,283.98 63.02,283.19 63.13,281.2" fill="#222" stroke="none" stroke-width="0"/>
<text x="57" y="294.4" font-size="7">cAMP</text>
<ellipse cx="67.8" cy="301.8" rx="12" ry="5.8" fill="#2bb673" stroke="none" stroke-width="1"/>
<text x="67.8" y="305.1" font-size="9.4" font-weight="bold" text-anchor="middle" fill="#fff">CRP</text>
<line x1="70.2" y1="315.2" x2="77.8" y2="326.6" stroke="#222" stroke-width="0.7"/>
<polygon points="79.6,329.4 75.89,326.8 77.88,326.76 78.74,324.95" fill="#222" stroke="none" stroke-width="0"/>
<text x="43.3" y="338.8" font-size="10.1">gene regulation</text>
<line x1="215.5" y1="218.55" x2="221" y2="218.55" stroke="#555" stroke-width="0.85"/>
<line x1="222.4" y1="218.55" x2="228" y2="218.55" stroke="#555" stroke-width="0.85"/>
<line x1="215.5" y1="221.05" x2="221" y2="221.05" stroke="#555" stroke-width="0.85"/>
<line x1="222.4" y1="221.05" x2="228" y2="221.05" stroke="#555" stroke-width="0.85"/>
<line x1="215.5" y1="228.01" x2="221" y2="228.01" stroke="#555" stroke-width="0.85"/>
<line x1="222.4" y1="228.01" x2="228" y2="228.01" stroke="#555" stroke-width="0.85"/>
<line x1="215.5" y1="230.51" x2="221" y2="230.51" stroke="#555" stroke-width="0.85"/>
<line x1="222.4" y1="230.51" x2="228" y2="230.51" stroke="#555" stroke-width="0.85"/>
<line x1="215.5" y1="237.47" x2="221" y2="237.47" stroke="#555" stroke-width="0.85"/>
<line x1="222.4" y1="237.47" x2="228" y2="237.47" stroke="#555" stroke-width="0.85"/>
<line x1="215.5" y1="239.97" x2="221" y2="239.97" stroke="#555" stroke-width="0.85"/>
<line x1="222.4" y1="239.97" x2="228" y2="239.97" stroke="#555" stroke-width="0.85"/>
<line x1="215.5" y1="246.93" x2="221" y2="246.93" stroke="#555" stroke-width="0.85"/>
<line x1="222.4" y1="246.93" x2="228" y2="246.93" stroke="#555" stroke-width="0.85"/>
<line x1="215.5" y1="249.43" x2="221" y2="249.43" stroke="#555" stroke-width="0.85"/>
<line x1="222.4" y1="249.43" x2="228" y2="249.43" stroke="#555" stroke-width="0.85"/>
<line x1="215.5" y1="256.39" x2="221" y2="256.39" stroke="#555" stroke-width="0.85"/>
<line x1="222.4" y1="256.39" x2="228" y2="256.39" stroke="#555" stroke-width="0.85"/>
<line x1="215.5" y1="258.89" x2="221" y2="258.89" stroke="#555" stroke-width="0.85"/>
<line x1="222.4" y1="258.89" x2="228" y2="258.89" stroke="#555" stroke-width="0.85"/>
<line x1="215.5" y1="265.85" x2="221" y2="265.85" stroke="#555" stroke-width="0.85"/>
<line x1="222.4" y1="265.85" x2="228" y2="265.85" stroke="#555" stroke-width="0.85"/>
<line x1="215.5" y1="268.35" x2="221" y2="268.35" stroke="#555" stroke-width="0.85"/>
<line x1="222.4" y1="268.35" x2="228" y2="268.35" stroke="#555" stroke-width="0.85"/>
<line x1="215.5" y1="275.31" x2="221" y2="275.31" stroke="#555" stroke-width="0.85"/>
<line x1="222.4" y1="275.31" x2="228" y2="275.31" stroke="#555" stroke-width="0.85"/>
<line x1="215.5" y1="277.81" x2="221" y2="277.81" stroke="#555" stroke-width="0.85"/>
<line x1="222.4" y1="277.81" x2="228" y2="277.81" stroke="#555" stroke-width="0.85"/>
<line x1="215.5" y1="284.77" x2="221" y2="284.77" stroke="#555" stroke-width="0.85"/>
<line x1="222.4" y1="284.77" x2="228" y2="284.77" stroke="#555" stroke-width="0.85"/>
<line x1="215.5" y1="287.27" x2="221" y2="287.27" stroke="#555" stroke-width="0.85"/>
<line x1="222.4" y1="287.27" x2="228" y2="287.27" stroke="#555" stroke-width="0.85"/>
<line x1="215.5" y1="294.23" x2="221" y2="294.23" stroke="#555" stroke-width="0.85"/>
<line x1="222.4" y1="294.23" x2="228" y2="294.23" stroke="#555" stroke-width="0.85"/>
<line x1="215.5" y1="296.73" x2="221" y2="296.73" stroke="#555" stroke-width="0.85"/>
<line x1="222.4" y1="296.73" x2="228" y2="296.73" stroke="#555" stroke-width="0.85"/>
<line x1="215.5" y1="303.69" x2="221" y2="303.69" stroke="#555" stroke-width="0.85"/>
<line x1="222.4" y1="303.69" x2="228" y2="303.69" stroke="#555" stroke-width="0.85"/>
<line x1="215.5" y1="306.19" x2="221" y2="306.19" stroke="#555" stroke-width="0.85"/>
<line x1="222.4" y1="306.19" x2="228" y2="306.19" stroke="#555" stroke-width="0.85"/>
<line x1="215.5" y1="313.15" x2="221" y2="313.15" stroke="#555" stroke-width="0.85"/>
<line x1="222.4" y1="313.15" x2="228" y2="313.15" stroke="#555" stroke-width="0.85"/>
<line x1="215.5" y1="315.65" x2="221" y2="315.65" stroke="#555" stroke-width="0.85"/>
<line x1="222.4" y1="315.65" x2="228" y2="315.65" stroke="#555" stroke-width="0.85"/>
<line x1="215.5" y1="322.61" x2="221" y2="322.61" stroke="#555" stroke-width="0.85"/>
<line x1="222.4" y1="322.61" x2="228" y2="322.61" stroke="#555" stroke-width="0.85"/>
<line x1="215.5" y1="325.11" x2="221" y2="325.11" stroke="#555" stroke-width="0.85"/>
<line x1="222.4" y1="325.11" x2="228" y2="325.11" stroke="#555" stroke-width="0.85"/>
<line x1="215.5" y1="332.07" x2="221" y2="332.07" stroke="#555" stroke-width="0.85"/>
<line x1="222.4" y1="332.07" x2="228" y2="332.07" stroke="#555" stroke-width="0.85"/>
<line x1="215.5" y1="334.57" x2="221" y2="334.57" stroke="#555" stroke-width="0.85"/>
<line x1="222.4" y1="334.57" x2="228" y2="334.57" stroke="#555" stroke-width="0.85"/>
<line x1="215.5" y1="341.53" x2="221" y2="341.53" stroke="#555" stroke-width="0.85"/>
<line x1="222.4" y1="341.53" x2="228" y2="341.53" stroke="#555" stroke-width="0.85"/>
<line x1="215.5" y1="344.03" x2="221" y2="344.03" stroke="#555" stroke-width="0.85"/>
<line x1="222.4" y1="344.03" x2="228" y2="344.03" stroke="#555" stroke-width="0.85"/>
<line x1="215.5" y1="350.99" x2="221" y2="350.99" stroke="#555" stroke-width="0.85"/>
<line x1="222.4" y1="350.99" x2="228" y2="350.99" stroke="#555" stroke-width="0.85"/>
<line x1="215.5" y1="353.49" x2="221" y2="353.49" stroke="#555" stroke-width="0.85"/>
<line x1="222.4" y1="353.49" x2="228" y2="353.49" stroke="#555" stroke-width="0.85"/>
<circle cx="211.8" cy="219.8" r="4.7" fill="#babdc4" stroke="#2a2a2a" stroke-width="0.8"/>
<circle cx="230.8" cy="219.8" r="4.7" fill="#babdc4" stroke="#2a2a2a" stroke-width="0.8"/>
<circle cx="211.8" cy="229.26" r="4.7" fill="#babdc4" stroke="#2a2a2a" stroke-width="0.8"/>
<circle cx="230.8" cy="229.26" r="4.7" fill="#babdc4" stroke="#2a2a2a" stroke-width="0.8"/>
<circle cx="211.8" cy="238.72" r="4.7" fill="#babdc4" stroke="#2a2a2a" stroke-width="0.8"/>
<circle cx="230.8" cy="238.72" r="4.7" fill="#babdc4" stroke="#2a2a2a" stroke-width="0.8"/>
<circle cx="211.8" cy="248.18" r="4.7" fill="#babdc4" stroke="#2a2a2a" stroke-width="0.8"/>
<circle cx="230.8" cy="248.18" r="4.7" fill="#babdc4" stroke="#2a2a2a" stroke-width="0.8"/>
<circle cx="211.8" cy="257.64" r="4.7" fill="#babdc4" stroke="#2a2a2a" stroke-width="0.8"/>
<circle cx="230.8" cy="257.64" r="4.7" fill="#babdc4" stroke="#2a2a2a" stroke-width="0.8"/>
<circle cx="211.8" cy="267.1" r="4.7" fill="#babdc4" stroke="#2a2a2a" stroke-width="0.8"/>
<circle cx="230.8" cy="267.1" r="4.7" fill="#babdc4" stroke="#2a2a2a" stroke-width="0.8"/>
<circle cx="211.8" cy="276.56" r="4.7" fill="#babdc4" stroke="#2a2a2a" stroke-width="0.8"/>
<circle cx="230.8" cy="276.56" r="4.7" fill="#babdc4" stroke="#2a2a2a" stroke-width="0.8"/>
<circle cx="211.8" cy="286.02" r="4.7" fill="#babdc4" stroke="#2a2a2a" stroke-width="0.8"/>
<circle cx="230.8" cy="286.02" r="4.7" fill="#babdc4" stroke="#2a2a2a" stroke-width="0.8"/>
<circle cx="211.8" cy="295.48" r="4.7" fill="#babdc4" stroke="#2a2a2a" stroke-width="0.8"/>
<circle cx="230.8" cy="295.48" r="4.7" fill="#babdc4" stroke="#2a2a2a" stroke-width="0.8"/>
<circle cx="211.8" cy="304.94" r="4.7" fill="#babdc4" stroke="#2a2a2a" stroke-width="0.8"/>
<circle cx="230.8" cy="304.94" r="4.7" fill="#babdc4" stroke="#2a2a2a" stroke-width="0.8"/>
<circle cx="211.8" cy="314.4" r="4.7" fill="#babdc4" stroke="#2a2a2a" stroke-width="0.8"/>
<circle cx="230.8" cy="314.4" r="4.7" fill="#babdc4" stroke="#2a2a2a" stroke-width="0.8"/>
<circle cx="211.8" cy="323.86" r="4.7" fill="#babdc4" stroke="#2a2a2a" stroke-width="0.8"/>
<circle cx="230.8" cy="323.86" r="4.7" fill="#babdc4" stroke="#2a2a2a" stroke-width="0.8"/>
<circle cx="211.8" cy="333.32" r="4.7" fill="#babdc4" stroke="#2a2a2a" stroke-width="0.8"/>
<circle cx="230.8" cy="333.32" r="4.7" fill="#babdc4" stroke="#2a2a2a" stroke-width="0.8"/>
<circle cx="211.8" cy="342.78" r="4.7" fill="#babdc4" stroke="#2a2a2a" stroke-width="0.8"/>
<circle cx="230.8" cy="342.78" r="4.7" fill="#babdc4" stroke="#2a2a2a" stroke-width="0.8"/>
<circle cx="211.8" cy="352.24" r="4.7" fill="#babdc4" stroke="#2a2a2a" stroke-width="0.8"/>
<circle cx="230.8" cy="352.24" r="4.7" fill="#babdc4" stroke="#2a2a2a" stroke-width="0.8"/>
<text x="221.6" y="214.3" font-size="8.4" font-weight="bold" text-anchor="middle">IM</text>
<text x="154.2" y="224.6" font-size="8.6" font-weight="bold">Cytoplasm</text>
<text x="238.6" y="224.9" font-size="8.6" font-weight="bold">Periplasm</text>
<path d="M200.6,238.8 C204,237.5 205,232 209,230 C213,228 215,232 213,233 C210,233.5 211,227 217.2,225.5" fill="none" stroke="#29abe2" stroke-width="1"/>
<circle cx="198.1" cy="242.4" r="5.3" fill="#1a1a1a" stroke="none" stroke-width="1"/>
<text x="198.3" y="245.5" font-size="8.4" text-anchor="middle" fill="#e6e6e6">P</text>
<circle cx="189.9" cy="251.2" r="5.3" fill="#1a1a1a" stroke="none" stroke-width="1"/>
<text x="190.1" y="254.3" font-size="8.4" text-anchor="middle" fill="#e6e6e6">P</text>
<polygon points="188.8,261 185.95,265.94 180.25,265.94 177.4,261 180.25,256.06 185.95,256.06" fill="#f7941d" stroke="none" stroke-width="0"/>
<polygon points="181.2,269.5 178.35,274.44 172.65,274.44 169.8,269.5 172.65,264.56 178.35,264.56" fill="#00a651" stroke="none" stroke-width="0"/>
<ellipse cx="195.6" cy="287.6" rx="11.8" ry="5.8" fill="#29abe2" stroke="none" stroke-width="1"/>
<text x="195.6" y="290.6" font-size="8.6" font-weight="bold" text-anchor="middle" fill="#fff">RffT</text>
<ellipse cx="162.4" cy="302.7" rx="11.9" ry="5.6" fill="#29abe2" stroke="none" stroke-width="1"/>
<text x="162.4" y="305.7" font-size="8.6" font-weight="bold" text-anchor="middle" fill="#fff">RffC</text>
<ellipse cx="162.4" cy="315.5" rx="11.9" ry="5.6" fill="#29abe2" stroke="none" stroke-width="1"/>
<text x="162.4" y="318.5" font-size="8.6" font-weight="bold" text-anchor="middle" fill="#fff">RffA</text>
<polygon points="181.91,294.75 177.95,298.71 172.54,297.26 171.09,291.85 175.05,287.89 180.46,289.34" fill="#ed1c24" stroke="none" stroke-width="0"/>
<polygon points="179.9,325.7 177.15,330.46 171.65,330.46 168.9,325.7 171.65,320.94 177.15,320.94" fill="#a7a9ac" stroke="none" stroke-width="0"/>
<line x1="175" y1="319.8" x2="175" y2="303.5" stroke="#444" stroke-width="0.8"/>
<polygon points="175,300.8 176.6,304.6 175,303.65 173.4,304.6" fill="#222" stroke="none" stroke-width="0"/>
<line x1="180.9" y1="284.8" x2="188.6" y2="298.3" stroke="#222" stroke-width="0.8"/>
<polygon points="190.4,301.2 186.83,298.41 188.83,298.47 189.77,296.71" fill="#222" stroke="none" stroke-width="0"/>
<path d="M202.6,302.5 C206,300 206,296 210,295 C214,294 212,290 214,288.5 C216,286.5 217,288 220,287" fill="none" stroke="#29abe2" stroke-width="1"/>
<circle cx="198.1" cy="305.3" r="5.3" fill="#1a1a1a" stroke="none" stroke-width="1"/>
<text x="198.3" y="308.4" font-size="8.4" text-anchor="middle" fill="#e6e6e6">P</text>
<circle cx="191.1" cy="313.3" r="5.3" fill="#1a1a1a" stroke="none" stroke-width="1"/>
<text x="191.3" y="316.4" font-size="8.4" text-anchor="middle" fill="#e6e6e6">P</text>
<polygon points="195.25,327.1 190.4,329.9 185.55,327.1 185.55,321.5 190.4,318.7 195.25,321.5" fill="#f7941d" stroke="none" stroke-width="0"/>
<polygon points="194.05,338.6 189.2,341.4 184.35,338.6 184.35,333 189.2,330.2 194.05,333" fill="#00a651" stroke="none" stroke-width="0"/>
<polygon points="193.75,350.2 188.9,353 184.05,350.2 184.05,344.6 188.9,341.8 193.75,344.6" fill="#ed1c24" stroke="none" stroke-width="0"/>
<path d="M203,305 C212,296 222,296 230,303 C236,309 243,322 247,331" fill="none" stroke="#222" stroke-width="0.7"/>
<polygon points="248.4,333.6 244.93,330.69 246.92,330.82 247.93,329.09" fill="#222" stroke="none" stroke-width="0"/>
<path d="M200.5,309 L203,303" fill="none" stroke="#222" stroke-width="0.6"/>
<path d="M229,313 C231,316 227,320 230,324 C233,328 231,331 237,334" fill="none" stroke="#29abe2" stroke-width="1"/>
<ellipse cx="253.9" cy="318.9" rx="13" ry="6.9" fill="#29abe2" stroke="none" stroke-width="1"/>
<text x="253.9" y="321.9" font-size="8.8" font-weight="bold" text-anchor="middle" fill="#fff">WzxE</text>
<circle cx="241.2" cy="337.4" r="5.3" fill="#1a1a1a" stroke="none" stroke-width="1"/>
<text x="241.4" y="340.5" font-size="8.4" text-anchor="middle" fill="#e6e6e6">P</text>
<circle cx="248.2" cy="345.9" r="5.3" fill="#1a1a1a" stroke="none" stroke-width="1"/>
<text x="248.4" y="349" font-size="8.4" text-anchor="middle" fill="#e6e6e6">P</text>
<polygon points="264.7,346.9 261.9,351.75 256.3,351.75 253.5,346.9 256.3,342.05 261.9,342.05" fill="#f7941d" stroke="none" stroke-width="0"/>
<polygon points="276.1,346.9 273.3,351.75 267.7,351.75 264.9,346.9 267.7,342.05 273.3,342.05" fill="#00a651" stroke="none" stroke-width="0"/>
<polygon points="287.6,346.9 284.8,351.75 279.2,351.75 276.4,346.9 279.2,342.05 284.8,342.05" fill="#ed1c24" stroke="none" stroke-width="0"/>
<text x="333" y="214" font-size="8.9">serine (Ser)</text>
<line x1="352.2" y1="216.2" x2="352.2" y2="239" stroke="#222" stroke-width="0.85"/>
<polygon points="352.2,245.6 350.1,237.6 352.2,238.8 354.3,237.6" fill="#111" stroke="none" stroke-width="0"/>
<ellipse cx="366.9" cy="230" rx="12.8" ry="7.3" fill="#8e51a0" stroke="none" stroke-width="1"/>
<text x="366.9" y="233" font-size="9" font-weight="bold" text-anchor="middle" fill="#fff">CysE</text>
<polyline points="312.2,260.7 321.3,255.8 329.6,260.6" fill="none" stroke="#222" stroke-width="0.7" stroke-linejoin="round"/>
<line x1="320.4" y1="255.8" x2="320.4" y2="248.4" stroke="#222" stroke-width="0.6"/>
<line x1="322.2" y1="255.8" x2="322.2" y2="248.4" stroke="#222" stroke-width="0.6"/>
<text x="321.3" y="247.6" font-size="6.6" text-anchor="middle" fill="#333">O</text>
<text x="330.6" y="264.6" font-size="6.6" text-anchor="middle" fill="#333">O</text>
<polyline points="332,260.6 340,256 349.7,260.6 358.5,256 365.5,260" fill="none" stroke="#222" stroke-width="0.7" stroke-linejoin="round"/>
<line x1="357.6" y1="256" x2="357.6" y2="248.4" stroke="#222" stroke-width="0.6"/>
<line x1="359.4" y1="256" x2="359.4" y2="248.4" stroke="#222" stroke-width="0.6"/>
<text x="358.5" y="247.6" font-size="6.6" text-anchor="middle" fill="#333">O</text>
<text x="371" y="263" font-size="6.6" text-anchor="middle" fill="#333">OH</text>
<polygon points="349.7,260.6 348.6,268.3 350.9,268.3" fill="#111" stroke="none" stroke-width="0"/>
<text x="346.6" y="274.9" font-size="6.6" fill="#333">NH</text>
<text x="355.6" y="276.2" font-size="5" fill="#333">2</text>
<text x="310" y="284.4" font-size="8.75">O-acetyl-L-serine</text>
<text x="326.6" y="294.3" font-size="8.75">(OAS)</text>
<line x1="352.2" y1="298.9" x2="352.2" y2="321" stroke="#222" stroke-width="0.85"/>
<polygon points="352.2,327.8 350.1,319.8 352.2,321 354.3,319.8" fill="#111" stroke="none" stroke-width="0"/>
<ellipse cx="338" cy="310" rx="13.1" ry="6.8" fill="#8e51a0" stroke="none" stroke-width="1"/>
<text x="338" y="313" font-size="9" font-weight="bold" text-anchor="middle" fill="#fff">CysK</text>
<text x="336.4" y="336.5" font-size="8.75">cysteine</text>
<text x="338.6" y="347.4" font-size="8.75">(Cys)</text>
<text x="453.6" y="214.6" font-size="8.9">substrate</text>
<line x1="467.6" y1="222.2" x2="467.6" y2="231.2" stroke="#555" stroke-width="0.8"/>
<polygon points="467.6,235.8 465.9,230.4 467.6,231.21 469.3,230.4" fill="#111" stroke="none" stroke-width="0"/>
<ellipse cx="482" cy="227.6" rx="12.6" ry="7.3" fill="#f7941d" stroke="none" stroke-width="1"/>
<text x="482" y="230.6" font-size="9" font-weight="bold" text-anchor="middle" fill="#fff">PdxB</text>
<line x1="467.6" y1="244.53" x2="467.6" y2="253.53" stroke="#555" stroke-width="0.8"/>
<polygon points="467.6,258.13 465.9,252.73 467.6,253.54 469.3,252.73" fill="#111" stroke="none" stroke-width="0"/>
<ellipse cx="482" cy="249.93" rx="12.6" ry="7.3" fill="#f7941d" stroke="none" stroke-width="1"/>
<text x="482" y="252.93" font-size="9" font-weight="bold" text-anchor="middle" fill="#fff">SerC</text>
<line x1="467.6" y1="266.86" x2="467.6" y2="275.86" stroke="#555" stroke-width="0.8"/>
<polygon points="467.6,280.46 465.9,275.06 467.6,275.87 469.3,275.06" fill="#111" stroke="none" stroke-width="0"/>
<ellipse cx="482" cy="272.26" rx="12.6" ry="7.3" fill="#f7941d" stroke="none" stroke-width="1"/>
<text x="482" y="275.26" font-size="9" font-weight="bold" text-anchor="middle" fill="#fff">PdxA</text>
<line x1="467.6" y1="289.19" x2="467.6" y2="298.19" stroke="#555" stroke-width="0.8"/>
<polygon points="467.6,302.79 465.9,297.39 467.6,298.2 469.3,297.39" fill="#111" stroke="none" stroke-width="0"/>
<ellipse cx="482" cy="294.59" rx="12.6" ry="7.3" fill="#f7941d" stroke="none" stroke-width="1"/>
<text x="482" y="297.59" font-size="9" font-weight="bold" text-anchor="middle" fill="#fff">PdxJ</text>
<text x="460.6" y="313.8" font-size="9.2">PLP</text>
<polygon points="600.5,209.4 595.2,219 606,219" fill="#fff" stroke="#333" stroke-width="0.6"/>
<circle cx="600.5" cy="209.4" r="3.3" fill="#2aa84a" stroke="#222" stroke-width="0.6"/>
<circle cx="595.2" cy="219" r="3.3" fill="#2aa84a" stroke="#222" stroke-width="0.6"/>
<circle cx="606" cy="219" r="3.3" fill="#2aa84a" stroke="#222" stroke-width="0.6"/>
<circle cx="600.57" cy="215.8" r="1" fill="#e8202a" stroke="none" stroke-width="1"/>
<line x1="572.1" y1="239.5" x2="572.1" y2="243.4" stroke="#6d6e71" stroke-width="0.75"/>
<line x1="572.1" y1="244.6" x2="572.1" y2="248.5" stroke="#6d6e71" stroke-width="0.75"/>
<line x1="574.5" y1="239.5" x2="574.5" y2="243.4" stroke="#6d6e71" stroke-width="0.75"/>
<line x1="574.5" y1="244.6" x2="574.5" y2="248.5" stroke="#6d6e71" stroke-width="0.75"/>
<line x1="581.46" y1="239.5" x2="581.46" y2="243.4" stroke="#6d6e71" stroke-width="0.75"/>
<line x1="581.46" y1="244.6" x2="581.46" y2="248.5" stroke="#6d6e71" stroke-width="0.75"/>
<line x1="583.86" y1="239.5" x2="583.86" y2="243.4" stroke="#6d6e71" stroke-width="0.75"/>
<line x1="583.86" y1="244.6" x2="583.86" y2="248.5" stroke="#6d6e71" stroke-width="0.75"/>
<line x1="590.82" y1="239.5" x2="590.82" y2="243.4" stroke="#6d6e71" stroke-width="0.75"/>
<line x1="590.82" y1="244.6" x2="590.82" y2="248.5" stroke="#6d6e71" stroke-width="0.75"/>
<line x1="593.22" y1="239.5" x2="593.22" y2="243.4" stroke="#6d6e71" stroke-width="0.75"/>
<line x1="593.22" y1="244.6" x2="593.22" y2="248.5" stroke="#6d6e71" stroke-width="0.75"/>
<line x1="600.18" y1="239.5" x2="600.18" y2="243.4" stroke="#6d6e71" stroke-width="0.75"/>
<line x1="600.18" y1="244.6" x2="600.18" y2="248.5" stroke="#6d6e71" stroke-width="0.75"/>
<line x1="602.58" y1="239.5" x2="602.58" y2="243.4" stroke="#6d6e71" stroke-width="0.75"/>
<line x1="602.58" y1="244.6" x2="602.58" y2="248.5" stroke="#6d6e71" stroke-width="0.75"/>
<line x1="609.54" y1="239.5" x2="609.54" y2="243.4" stroke="#6d6e71" stroke-width="0.75"/>
<line x1="609.54" y1="244.6" x2="609.54" y2="248.5" stroke="#6d6e71" stroke-width="0.75"/>
<line x1="611.94" y1="239.5" x2="611.94" y2="243.4" stroke="#6d6e71" stroke-width="0.75"/>
<line x1="611.94" y1="244.6" x2="611.94" y2="248.5" stroke="#6d6e71" stroke-width="0.75"/>
<line x1="618.9" y1="239.5" x2="618.9" y2="243.4" stroke="#6d6e71" stroke-width="0.75"/>
<line x1="618.9" y1="244.6" x2="618.9" y2="248.5" stroke="#6d6e71" stroke-width="0.75"/>
<line x1="621.3" y1="239.5" x2="621.3" y2="243.4" stroke="#6d6e71" stroke-width="0.75"/>
<line x1="621.3" y1="244.6" x2="621.3" y2="248.5" stroke="#6d6e71" stroke-width="0.75"/>
<line x1="628.26" y1="239.5" x2="628.26" y2="243.4" stroke="#6d6e71" stroke-width="0.75"/>
<line x1="628.26" y1="244.6" x2="628.26" y2="248.5" stroke="#6d6e71" stroke-width="0.75"/>
<line x1="630.66" y1="239.5" x2="630.66" y2="243.4" stroke="#6d6e71" stroke-width="0.75"/>
<line x1="630.66" y1="244.6" x2="630.66" y2="248.5" stroke="#6d6e71" stroke-width="0.75"/>
<line x1="637.62" y1="239.5" x2="637.62" y2="243.4" stroke="#6d6e71" stroke-width="0.75"/>
<line x1="637.62" y1="244.6" x2="637.62" y2="248.5" stroke="#6d6e71" stroke-width="0.75"/>
<line x1="640.02" y1="239.5" x2="640.02" y2="243.4" stroke="#6d6e71" stroke-width="0.75"/>
<line x1="640.02" y1="244.6" x2="640.02" y2="248.5" stroke="#6d6e71" stroke-width="0.75"/>
<circle cx="573.3" cy="234.8" r="4.7" fill="#babdc4" stroke="#2a2a2a" stroke-width="0.75"/>
<circle cx="573.3" cy="253.2" r="4.7" fill="#babdc4" stroke="#2a2a2a" stroke-width="0.75"/>
<circle cx="582.66" cy="234.8" r="4.7" fill="#babdc4" stroke="#2a2a2a" stroke-width="0.75"/>
<circle cx="582.66" cy="253.2" r="4.7" fill="#babdc4" stroke="#2a2a2a" stroke-width="0.75"/>
<circle cx="592.02" cy="234.8" r="4.7" fill="#babdc4" stroke="#2a2a2a" stroke-width="0.75"/>
<circle cx="592.02" cy="253.2" r="4.7" fill="#babdc4" stroke="#2a2a2a" stroke-width="0.75"/>
<circle cx="601.38" cy="234.8" r="4.7" fill="#babdc4" stroke="#2a2a2a" stroke-width="0.75"/>
<circle cx="601.38" cy="253.2" r="4.7" fill="#babdc4" stroke="#2a2a2a" stroke-width="0.75"/>
<circle cx="610.74" cy="234.8" r="4.7" fill="#babdc4" stroke="#2a2a2a" stroke-width="0.75"/>
<circle cx="610.74" cy="253.2" r="4.7" fill="#babdc4" stroke="#2a2a2a" stroke-width="0.75"/>
<circle cx="620.1" cy="234.8" r="4.7" fill="#babdc4" stroke="#2a2a2a" stroke-width="0.75"/>
<circle cx="620.1" cy="253.2" r="4.7" fill="#babdc4" stroke="#2a2a2a" stroke-width="0.75"/>
<circle cx="629.46" cy="234.8" r="4.7" fill="#babdc4" stroke="#2a2a2a" stroke-width="0.75"/>
<circle cx="629.46" cy="253.2" r="4.7" fill="#babdc4" stroke="#2a2a2a" stroke-width="0.75"/>
<circle cx="638.82" cy="234.8" r="4.7" fill="#babdc4" stroke="#2a2a2a" stroke-width="0.75"/>
<circle cx="638.82" cy="253.2" r="4.7" fill="#babdc4" stroke="#2a2a2a" stroke-width="0.75"/>
<text x="643.6" y="247.4" font-size="8.4" font-weight="bold">OM</text>
<ellipse cx="609.4" cy="274.5" rx="2.8" ry="6.6" fill="#a7a9ac" stroke="#777" stroke-width="0.4" transform="rotate(12 609.4 274.5)"/>
<line x1="573.3" y1="290.1" x2="573.3" y2="294" stroke="#6d6e71" stroke-width="0.75"/>
<line x1="573.3" y1="295.2" x2="573.3" y2="299.1" stroke="#6d6e71" stroke-width="0.75"/>
<line x1="575.7" y1="290.1" x2="575.7" y2="294" stroke="#6d6e71" stroke-width="0.75"/>
<line x1="575.7" y1="295.2" x2="575.7" y2="299.1" stroke="#6d6e71" stroke-width="0.75"/>
<line x1="582.8" y1="290.1" x2="582.8" y2="294" stroke="#6d6e71" stroke-width="0.75"/>
<line x1="582.8" y1="295.2" x2="582.8" y2="299.1" stroke="#6d6e71" stroke-width="0.75"/>
<line x1="585.2" y1="290.1" x2="585.2" y2="294" stroke="#6d6e71" stroke-width="0.75"/>
<line x1="585.2" y1="295.2" x2="585.2" y2="299.1" stroke="#6d6e71" stroke-width="0.75"/>
<line x1="592.3" y1="290.1" x2="592.3" y2="294" stroke="#6d6e71" stroke-width="0.75"/>
<line x1="592.3" y1="295.2" x2="592.3" y2="299.1" stroke="#6d6e71" stroke-width="0.75"/>
<line x1="594.7" y1="290.1" x2="594.7" y2="294" stroke="#6d6e71" stroke-width="0.75"/>
<line x1="594.7" y1="295.2" x2="594.7" y2="299.1" stroke="#6d6e71" stroke-width="0.75"/>
<line x1="601.8" y1="290.1" x2="601.8" y2="294" stroke="#6d6e71" stroke-width="0.75"/>
<line x1="601.8" y1="295.2" x2="601.8" y2="299.1" stroke="#6d6e71" stroke-width="0.75"/>
<line x1="604.2" y1="290.1" x2="604.2" y2="294" stroke="#6d6e71" stroke-width="0.75"/>
<line x1="604.2" y1="295.2" x2="604.2" y2="299.1" stroke="#6d6e71" stroke-width="0.75"/>
<line x1="611.3" y1="290.1" x2="611.3" y2="294" stroke="#6d6e71" stroke-width="0.75"/>
<line x1="611.3" y1="295.2" x2="611.3" y2="299.1" stroke="#6d6e71" stroke-width="0.75"/>
<line x1="613.7" y1="290.1" x2="613.7" y2="294" stroke="#6d6e71" stroke-width="0.75"/>
<line x1="613.7" y1="295.2" x2="613.7" y2="299.1" stroke="#6d6e71" stroke-width="0.75"/>
<line x1="620.8" y1="290.1" x2="620.8" y2="294" stroke="#6d6e71" stroke-width="0.75"/>
<line x1="620.8" y1="295.2" x2="620.8" y2="299.1" stroke="#6d6e71" stroke-width="0.75"/>
<line x1="623.2" y1="290.1" x2="623.2" y2="294" stroke="#6d6e71" stroke-width="0.75"/>
<line x1="623.2" y1="295.2" x2="623.2" y2="299.1" stroke="#6d6e71" stroke-width="0.75"/>
<line x1="630.3" y1="290.1" x2="630.3" y2="294" stroke="#6d6e71" stroke-width="0.75"/>
<line x1="630.3" y1="295.2" x2="630.3" y2="299.1" stroke="#6d6e71" stroke-width="0.75"/>
<line x1="632.7" y1="290.1" x2="632.7" y2="294" stroke="#6d6e71" stroke-width="0.75"/>
<line x1="632.7" y1="295.2" x2="632.7" y2="299.1" stroke="#6d6e71" stroke-width="0.75"/>
<line x1="639.8" y1="290.1" x2="639.8" y2="294" stroke="#6d6e71" stroke-width="0.75"/>
<line x1="639.8" y1="295.2" x2="639.8" y2="299.1" stroke="#6d6e71" stroke-width="0.75"/>
<line x1="642.2" y1="290.1" x2="642.2" y2="294" stroke="#6d6e71" stroke-width="0.75"/>
<line x1="642.2" y1="295.2" x2="642.2" y2="299.1" stroke="#6d6e71" stroke-width="0.75"/>
<circle cx="574.5" cy="285.4" r="4.7" fill="#babdc4" stroke="#2a2a2a" stroke-width="0.75"/>
<circle cx="574.5" cy="303.8" r="4.7" fill="#babdc4" stroke="#2a2a2a" stroke-width="0.75"/>
<circle cx="584" cy="285.4" r="4.7" fill="#babdc4" stroke="#2a2a2a" stroke-width="0.75"/>
<circle cx="584" cy="303.8" r="4.7" fill="#babdc4" stroke="#2a2a2a" stroke-width="0.75"/>
<circle cx="593.5" cy="285.4" r="4.7" fill="#babdc4" stroke="#2a2a2a" stroke-width="0.75"/>
<circle cx="593.5" cy="303.8" r="4.7" fill="#babdc4" stroke="#2a2a2a" stroke-width="0.75"/>
<circle cx="603" cy="285.4" r="4.7" fill="#babdc4" stroke="#2a2a2a" stroke-width="0.75"/>
<circle cx="603" cy="303.8" r="4.7" fill="#babdc4" stroke="#2a2a2a" stroke-width="0.75"/>
<circle cx="612.5" cy="285.4" r="4.7" fill="#babdc4" stroke="#2a2a2a" stroke-width="0.75"/>
<circle cx="612.5" cy="303.8" r="4.7" fill="#babdc4" stroke="#2a2a2a" stroke-width="0.75"/>
<circle cx="622" cy="285.4" r="4.7" fill="#babdc4" stroke="#2a2a2a" stroke-width="0.75"/>
<circle cx="622" cy="303.8" r="4.7" fill="#babdc4" stroke="#2a2a2a" stroke-width="0.75"/>
<circle cx="631.5" cy="285.4" r="4.7" fill="#babdc4" stroke="#2a2a2a" stroke-width="0.75"/>
<circle cx="631.5" cy="303.8" r="4.7" fill="#babdc4" stroke="#2a2a2a" stroke-width="0.75"/>
<circle cx="641" cy="285.4" r="4.7" fill="#babdc4" stroke="#2a2a2a" stroke-width="0.75"/>
<circle cx="641" cy="303.8" r="4.7" fill="#babdc4" stroke="#2a2a2a" stroke-width="0.75"/>
<text x="646.2" y="297.7" font-size="8.4" font-weight="bold">IM</text>
<path d="M620.5,252 C616,258 617,268 622,266 C627,263 626,252 627,246 C628,241 622,240 620,246" fill="none" stroke="#333" stroke-width="0.7"/>
<path d="M608.6,224.2 C612,236 613.5,258 614.0,278 C614.5,300 615,318 611.5,330 C608,338 604,342 601.5,344" fill="none" stroke="#333" stroke-width="0.7"/>
<polygon points="600.3,344.6 603.26,340.93 603.16,342.95 604.96,343.87" fill="#222" stroke="none" stroke-width="0"/>
<ellipse cx="594.2" cy="268.5" rx="12.7" ry="6.6" fill="#e9483c" stroke="none" stroke-width="1"/>
<text x="594.2" y="271.5" font-size="8.8" font-weight="bold" text-anchor="middle" fill="#fff">FepB</text>
<polygon points="631.5,264.6 626.7,274.2 636.4,274.2" fill="#fff" stroke="#333" stroke-width="0.6"/>
<circle cx="631.5" cy="264.6" r="3.3" fill="#2aa84a" stroke="#222" stroke-width="0.6"/>
<circle cx="626.7" cy="274.2" r="3.3" fill="#2aa84a" stroke="#222" stroke-width="0.6"/>
<circle cx="636.4" cy="274.2" r="3.3" fill="#2aa84a" stroke="#222" stroke-width="0.6"/>
<circle cx="631.53" cy="271" r="1" fill="#e8202a" stroke="none" stroke-width="1"/>
<ellipse cx="607" cy="311" rx="3.6" ry="7.6" fill="#6d6e71" stroke="none" stroke-width="1" transform="rotate(18 607 311)"/>
<path d="M619.5,305.5 C616.5,309 615.5,315 618.5,319.5 C620.5,322 623.5,320 623,317 C622.5,314.5 626.5,313.5 627.5,310 C628.5,306.5 626,303.5 623.5,303.5" fill="#fff" stroke="#333" stroke-width="0.7"/>
<ellipse cx="588.4" cy="317" rx="12.5" ry="6.2" fill="#e9483c" stroke="none" stroke-width="1"/>
<text x="588.4" y="320" font-size="8.8" font-weight="bold" text-anchor="middle" fill="#fff">FepD</text>
<ellipse cx="637.6" cy="319.8" rx="12.6" ry="6.4" fill="#e9483c" stroke="none" stroke-width="1"/>
<text x="637.6" y="322.8" font-size="8.8" font-weight="bold" text-anchor="middle" fill="#fff">FepG</text>
<circle cx="605.2" cy="326.6" r="4.4" fill="#939598" stroke="#333" stroke-width="0.6"/>
<circle cx="617.4" cy="328.3" r="4.6" fill="#fff" stroke="#333" stroke-width="0.6"/>
<ellipse cx="569.3" cy="338" rx="11.9" ry="6.2" fill="#e9483c" stroke="none" stroke-width="1"/>
<text x="569.3" y="341" font-size="8.8" font-weight="bold" text-anchor="middle" fill="#fff">Fes</text>
<polygon points="590.8,332.8 585.9,342.4 596.4,342.4" fill="#fff" stroke="#333" stroke-width="0.6"/>
<circle cx="590.8" cy="332.8" r="3.3" fill="#2aa84a" stroke="#222" stroke-width="0.6"/>
<circle cx="585.9" cy="342.4" r="3.3" fill="#2aa84a" stroke="#222" stroke-width="0.6"/>
<circle cx="596.4" cy="342.4" r="3.3" fill="#2aa84a" stroke="#222" stroke-width="0.6"/>
<circle cx="591.03" cy="339.2" r="1" fill="#e8202a" stroke="none" stroke-width="1"/>
<circle cx="560.5" cy="347.7" r="3.3" fill="#2aa84a" stroke="#222" stroke-width="0.6"/>
<line x1="580" y1="344.9" x2="568.5" y2="347" stroke="#222" stroke-width="0.7"/>
<polygon points="565.6,347.4 569.08,345.26 568.41,346.91 569.6,348.22" fill="#222" stroke="none" stroke-width="0"/>
<line x1="582.4" y1="339.8" x2="576" y2="329.2" stroke="#222" stroke-width="0.7"/>
<polygon points="574.4,326.6 577.69,329.03 575.91,329.02 575.14,330.62" fill="#222" stroke="none" stroke-width="0"/>
<circle cx="570.7" cy="326.1" r="1.1" fill="#e8202a" stroke="none" stroke-width="1"/>
<polygon points="52.8,501.73 53.24,500.2 53.68,495.8 54.12,496.95 54.56,498.26 55,497.92 55.44,499.23 55.88,498.72 56.32,500.67 56.77,500.91 57.21,502.01 57.65,501.39 58.09,502.81 58.53,495.57 58.97,501.54 59.41,502.16 59.85,500.81 60.29,498.95 60.73,497.98 61.17,497.32 61.61,498.75 62.05,499.86 62.49,500.02 62.93,501.1 63.37,499.07 63.81,492.04 64.26,496.55 64.7,497.46 65.14,496.81 65.58,497.63 66.02,492.01 66.46,498.35 66.9,496.94 67.34,495.68 67.78,490.48 68.22,493.64 68.66,489.47 69.1,492.89 69.54,492.19 69.98,488.99 70.42,486.15 70.86,486.81 71.3,490.43 71.75,492.92 72.19,491.8 72.63,488.7 73.07,485.95 73.51,478.29 73.95,480.79 74.39,477.42 74.83,478.57 75.27,478.81 75.71,480.42 76.15,478.91 76.59,478.93 77.03,479.21 77.47,478.8 77.91,474.61 78.35,474.86 78.79,472.77 79.24,466.41 79.68,472.09 80.12,472.76 80.56,475 81,471.7 81.44,460.84 81.88,464.8 82.32,471.02 82.76,470.29 83.2,466.38 83.64,466.21 84.08,470.05 84.52,471.38 84.96,459.3 85.4,466.66 85.84,465.45 86.28,461.35 86.73,465.75 87.17,463.43 87.61,461.41 88.05,460.33 88.49,460.93 88.93,465 89.37,460.61 89.81,459.27 90.25,454.99 90.69,454.71 91.13,453.67 91.57,454.39 92.01,456.05 92.45,458.32 92.89,455.48 93.33,443.67 93.77,452.59 94.22,452.94 94.66,453.5 95.1,450.78 95.54,451.27 95.98,453.12 96.42,452.54 96.86,447.13 97.3,447.4 97.74,448.1 98.18,449.6 98.62,447.91 99.06,451.43 99.5,453.75 99.94,446.49 100.38,443.47 100.82,442 101.26,443.9 101.71,443.29 102.15,446.16 102.59,447.99 103.03,450.61 103.47,448.52 103.91,445.24 104.35,444.77 104.79,441.48 105.23,441.22 105.67,442.02 106.11,442.21 106.55,434.68 106.99,445.86 107.43,431.85 107.87,443.45 108.31,444.27 108.75,441.63 109.19,434.79 109.64,441.19 110.08,438.95 110.52,440.79 110.96,440.58 111.4,438.88 111.84,439.36 112.28,437.11 112.72,436.72 113.16,436.89 113.6,438.41 114.04,439.57 114.48,436.25 114.92,436.45 115.36,432.82 115.8,433.67 116.24,436.28 116.68,438.96 117.13,440.89 117.57,438.32 118.01,438.57 118.45,436.47 118.89,434.05 119.33,422.21 119.77,435.75 120.21,430.99 120.65,431.93 121.09,433.4 121.53,434.28 121.97,434.82 122.41,439.18 122.85,427.98 123.29,434.9 123.73,435.31 124.17,440 124.62,438.27 125.06,437.98 125.5,436.92 125.94,434.17 126.38,435.15 126.82,431.61 127.26,431.51 127.7,423.52 128.14,430.88 128.58,436.72 129.02,437.42 129.46,439.84 129.9,439.07 130.34,425.57 130.78,435.97 131.22,435.08 131.66,432.38 132.11,421.89 132.55,430.37 132.99,430.42 133.43,436.25 133.87,433.99 134.31,432.17 134.75,433.2 135.19,429.27 135.63,430.19 136.07,423 136.51,434.34 136.95,435.18 137.39,430.29 137.83,429.66 138.27,428.41 138.71,429.49 139.15,428.96 139.6,428.88 140.04,433.33 140.48,432.22 140.92,429.77 141.36,430.17 141.8,427.07 142.24,416.73 142.68,433.35 143.12,433.17 143.56,429.5 144,424.65 144.44,423.3 144.88,423.88 145.32,426.57 145.76,415.44 146.2,421.86 146.64,426.96 147.09,426.25 147.53,427.37 147.97,428.29 148.41,431.4 148.85,428.13 149.29,426.33 149.73,425.89 150.17,430.22 150.61,435.92 151.05,433.67 151.49,437.8 151.93,438.2 152.37,436.44 152.81,432.96 153.25,423.58 153.69,429.86 154.13,432.84 154.58,429.64 155.02,437.13 155.46,434.86 155.9,432.19 156.34,426.25 156.78,438.75 157.22,442.86 157.66,436.3 158.1,443.77 158.1,463.07 157.66,459.99 157.22,459.07 156.78,455.97 156.34,454.46 155.9,450.3 155.46,452.64 155.02,452.48 154.58,449.72 154.13,453.76 153.69,452.02 153.25,453.27 152.81,454.74 152.37,457.8 151.93,459.45 151.49,454.59 151.05,451.36 150.61,449.19 150.17,454.7 149.73,447.34 149.29,447.93 148.85,448.44 148.41,446.98 147.97,447.96 147.53,451.52 147.09,454.93 146.64,451.57 146.2,449.26 145.76,443.61 145.32,446.9 144.88,443.28 144.44,445.18 144,449.56 143.56,451.75 143.12,453.49 142.68,460.09 142.24,448.77 141.8,448.38 141.36,455.67 140.92,454.94 140.48,447.95 140.04,453.3 139.6,450.88 139.15,455.47 138.71,454.2 138.27,453.35 137.83,450.57 137.39,450.92 136.95,452.55 136.51,452.06 136.07,453.95 135.63,451.39 135.19,454.74 134.75,462.22 134.31,455.59 133.87,459.98 133.43,459.39 132.99,451.92 132.55,453.16 132.11,451.99 131.66,456.14 131.22,458.04 130.78,459.61 130.34,455.88 129.9,456.15 129.46,454.65 129.02,454.09 128.58,453.59 128.14,450.6 127.7,452.64 127.26,454.77 126.82,456.6 126.38,467.2 125.94,465.24 125.5,456.24 125.06,456.64 124.62,459.28 124.17,471.78 123.73,461.27 123.29,458.64 122.85,457.64 122.41,457.07 121.97,456.39 121.53,469.67 121.09,459.42 120.65,459.98 120.21,461.07 119.77,464.03 119.33,461.77 118.89,460.1 118.45,459.05 118.01,456.18 117.57,452.86 117.13,455.56 116.68,457.47 116.24,454.89 115.8,454.91 115.36,455.21 114.92,452.09 114.48,453.34 114.04,455 113.6,455.81 113.16,454.63 112.72,457.31 112.28,462.2 111.84,457.13 111.4,456.52 110.96,455.37 110.52,458.83 110.08,462.7 109.64,460.36 109.19,461.63 108.75,459.6 108.31,471.9 107.87,461.53 107.43,465.07 106.99,465.4 106.55,464.2 106.11,459.06 105.67,466.02 105.23,464.5 104.79,468.65 104.35,472.6 103.91,464.39 103.47,470.19 103.03,471.48 102.59,470.67 102.15,468.21 101.71,466 101.26,469.92 100.82,470.22 100.38,469.96 99.94,467.18 99.5,471.74 99.06,468.51 98.62,466.09 98.18,468.09 97.74,466.72 97.3,467.64 96.86,467.05 96.42,484.57 95.98,473.88 95.54,471.28 95.1,468.82 94.66,477.01 94.22,472.74 93.77,474.76 93.33,481.97 92.89,475.97 92.45,475.57 92.01,471.49 91.57,471.6 91.13,475.52 90.69,485.22 90.25,471.22 89.81,470.61 89.37,474.57 88.93,481.91 88.49,481.49 88.05,490.71 87.61,477.73 87.17,479 86.73,482.47 86.28,488.13 85.84,484.68 85.4,483.72 84.96,481.12 84.52,491.32 84.08,483.44 83.64,481.06 83.2,483.72 82.76,488 82.32,492.74 81.88,485.68 81.44,485.37 81,484.65 80.56,487.43 80.12,485.37 79.68,486.42 79.24,487.07 78.79,492.1 78.35,497.53 77.91,501.37 77.47,492.63 77.03,493.06 76.59,491.69 76.15,494.66 75.71,496.72 75.27,495.57 74.83,493.88 74.39,492.99 73.95,495.7 73.51,496.62 73.07,499.05 72.63,500.61 72.19,501.73 71.75,509.72 71.3,507.87 70.86,498.67 70.42,498.99 69.98,501.49 69.54,502.24 69.1,502.58 68.66,503.76 68.22,503.94 67.78,504.04 67.34,503.69 66.9,508.42 66.46,505.82 66.02,507.47 65.58,505.6 65.14,507.65 64.7,508.63 64.26,510.21 63.81,507.53 63.37,509.61 62.93,510.41 62.49,509.12 62.05,510.72 61.61,510.17 61.17,512.7 60.73,510.98 60.29,510.7 59.85,511.49 59.41,511.55 58.97,512.09 58.53,510.29 58.09,512.48 57.65,511.98 57.21,512.61 56.77,512.29 56.32,509.82 55.88,508.04 55.44,507.8 55,508.41 54.56,508.15 54.12,508.78 53.68,510.57 53.24,512.7 52.8,511.82" fill="#b3d9bb" stroke="none" stroke-width="0"/>
<polygon points="52.8,506.9 53.24,506.87 53.68,507.25 54.12,507.5 54.56,507.37 55,508.94 55.44,508.1 55.88,508.83 56.32,508 56.77,508.19 57.21,507.62 57.65,507.99 58.09,506.7 58.53,507.59 58.97,508.29 59.41,508.36 59.85,507.72 60.29,507.72 60.73,508.1 61.17,508.05 61.61,509 62.05,508.91 62.49,508.26 62.93,508.39 63.37,507.43 63.81,506.79 64.26,507.16 64.7,507.31 65.14,507.8 65.58,508.16 66.02,509.26 66.46,505.57 66.9,508.42 67.34,508.68 67.78,507.35 68.22,507.05 68.66,505.02 69.1,506.59 69.54,506.45 69.98,507.4 70.42,507.89 70.86,506.27 71.3,505.68 71.75,503.67 72.19,504.26 72.63,504.09 73.07,504.67 73.51,505.19 73.95,503.43 74.39,503.14 74.83,502.72 75.27,504.24 75.71,499.04 76.15,504 76.59,503.93 77.03,503.42 77.47,503.41 77.91,502.3 78.35,503.35 78.79,502 79.24,503.68 79.68,499.9 80.12,499.59 80.56,500.1 81,501.36 81.44,500.47 81.88,498.49 82.32,499.28 82.76,501.31 83.2,499.01 83.64,500.45 84.08,499.07 84.52,498.28 84.96,500.59 85.4,493.75 85.84,499.88 86.28,498.67 86.73,499.31 87.17,493.95 87.61,501.59 88.05,499.33 88.49,497.23 88.93,498.73 89.37,498.95 89.81,499.46 90.25,499.98 90.69,499.02 91.13,495.06 91.57,491.01 92.01,497.63 92.45,496.3 92.89,493.21 93.33,496.85 93.77,498.11 94.22,497.54 94.66,490.34 95.1,488.73 95.54,494.44 95.98,495.56 96.42,495.62 96.86,489.11 97.3,495.93 97.74,494.09 98.18,494.6 98.62,493.82 99.06,493.27 99.5,495.17 99.94,490.88 100.38,495.19 100.82,488.09 101.26,494.63 101.71,488.58 102.15,498.1 102.59,496.6 103.03,491.49 103.47,491.71 103.91,492.97 104.35,492.34 104.79,489.82 105.23,493.34 105.67,490.58 106.11,491.18 106.55,491.66 106.99,491.95 107.43,489.38 107.87,479.29 108.31,490.71 108.75,490.88 109.19,488.53 109.64,485.37 110.08,486.98 110.52,487.72 110.96,489.62 111.4,477.55 111.84,479.59 112.28,487.81 112.72,490.32 113.16,490.9 113.6,489.66 114.04,486.81 114.48,478.94 114.92,486.58 115.36,488.73 115.8,489.85 116.24,490.09 116.68,491.09 117.13,488.59 117.57,488.16 118.01,485.54 118.45,486.82 118.89,486.44 119.33,488.35 119.77,482.06 120.21,486.58 120.65,485.72 121.09,488.84 121.53,482.98 121.97,488.58 122.41,488.24 122.85,488.29 123.29,490.3 123.73,490.28 124.17,489.03 124.62,484.78 125.06,487.99 125.5,492.04 125.94,490.48 126.38,483.68 126.82,489.97 127.26,491.03 127.7,490.59 128.14,482.51 128.58,491.29 129.02,489.04 129.46,487.95 129.9,487.89 130.34,487.79 130.78,485.79 131.22,487.35 131.66,486.43 132.11,487.57 132.55,489.66 132.99,491.89 133.43,493.95 133.87,493.54 134.31,492.46 134.75,490.94 135.19,491.09 135.63,489.03 136.07,490.19 136.51,487.95 136.95,492.96 137.39,489.36 137.83,490.33 138.27,488.43 138.71,491.87 139.15,494.59 139.6,493.34 140.04,490.94 140.48,487.6 140.92,477.58 141.36,487.83 141.8,486.57 142.24,488.29 142.68,484.63 143.12,483.67 143.56,481.18 144,483.98 144.44,481.98 144.88,485.89 145.32,486.97 145.76,486.08 146.2,487.18 146.64,485.78 147.09,485.48 147.53,482 147.97,484.1 148.41,487.45 148.85,488.01 149.29,478.92 149.73,487.61 150.17,486.17 150.61,483.87 151.05,482.85 151.49,481.71 151.93,474.29 152.37,483.45 152.81,484.72 153.25,486.93 153.69,486.3 154.13,484.93 154.58,487.52 155.02,488.24 155.46,482.45 155.9,486.14 156.34,488.67 156.78,486.47 157.22,487.21 157.66,486.48 158.1,486.43 158.1,500.89 157.66,501.28 157.22,502.38 156.78,502.13 156.34,504.99 155.9,510.47 155.46,508.28 155.02,503.7 154.58,500.56 154.13,497.81 153.69,506.93 153.25,503.88 152.81,504.6 152.37,503.73 151.93,502.24 151.49,501.22 151.05,499.83 150.61,500.56 150.17,501.69 149.73,505.2 149.29,505.27 148.85,503.68 148.41,501.13 147.97,500.78 147.53,500.3 147.09,503.35 146.64,502.46 146.2,501.63 145.76,502.65 145.32,503.89 144.88,503.28 144.44,502.25 144,502.5 143.56,502 143.12,500.51 142.68,499.93 142.24,511.23 141.8,504.03 141.36,506.17 140.92,504.38 140.48,506.62 140.04,505.96 139.6,504.47 139.15,504.65 138.71,507.27 138.27,506.92 137.83,508.74 137.39,506.79 136.95,512.7 136.51,508.66 136.07,507.59 135.63,505.78 135.19,507.46 134.75,505.71 134.31,506.01 133.87,512.7 133.43,510.02 132.99,508.03 132.55,512.7 132.11,499.98 131.66,498.57 131.22,502.69 130.78,500.47 130.34,504.88 129.9,502.39 129.46,502.96 129.02,500.98 128.58,503.39 128.14,510.91 127.7,505.97 127.26,511.52 126.82,504.6 126.38,504.35 125.94,503.46 125.5,512.7 125.06,503.45 124.62,504.53 124.17,503.04 123.73,504.61 123.29,504.75 122.85,509.41 122.41,504.14 121.97,503.33 121.53,502.65 121.09,500.62 120.65,501.02 120.21,503.06 119.77,505.01 119.33,506.34 118.89,503.8 118.45,503.23 118.01,502.15 117.57,504.15 117.13,503.84 116.68,508.34 116.24,503.11 115.8,502.78 115.36,504.03 114.92,505.41 114.48,505.16 114.04,510 113.6,505.02 113.16,506.03 112.72,504.43 112.28,505.82 111.84,506.39 111.4,504.64 110.96,505.15 110.52,505.42 110.08,507.23 109.64,506.97 109.19,505.72 108.75,506.27 108.31,506.22 107.87,506.48 107.43,506.46 106.99,507.19 106.55,506.27 106.11,505.61 105.67,506.55 105.23,505.83 104.79,505.41 104.35,504.81 103.91,512.7 103.47,512.7 103.03,512.7 102.59,507.37 102.15,507.15 101.71,506.62 101.26,507.51 100.82,509.39 100.38,505.89 99.94,504.92 99.5,507.45 99.06,506.99 98.62,509.01 98.18,509.12 97.74,509.26 97.3,509.45 96.86,509.51 96.42,508.13 95.98,508.73 95.54,509.32 95.1,508.22 94.66,509.65 94.22,511.14 93.77,508.46 93.33,507.37 92.89,506.91 92.45,507.95 92.01,509.92 91.57,512.38 91.13,512.28 90.69,510.57 90.25,509.87 89.81,509.38 89.37,507.59 88.93,508.33 88.49,506.56 88.05,508.74 87.61,509.48 87.17,509.21 86.73,509.47 86.28,510.03 85.84,509.7 85.4,510.8 84.96,512.7 84.52,510.32 84.08,510.25 83.64,511.53 83.2,512.7 82.76,512.7 82.32,511.62 81.88,511.96 81.44,510.66 81,512.7 80.56,510.43 80.12,510.81 79.68,509.66 79.24,510.98 78.79,512.7 78.35,511.49 77.91,512.07 77.47,512.28 77.03,511.64 76.59,512.7 76.15,511.94 75.71,512.45 75.27,511.27 74.83,512.7 74.39,509.7 73.95,511.19 73.51,512.7 73.07,512.7 72.63,512.7 72.19,512.7 71.75,512.7 71.3,512.7 70.86,512.7 70.42,512.7 69.98,512.7 69.54,512.7 69.1,512.7 68.66,512.7 68.22,512.7 67.78,512.7 67.34,512.7 66.9,512.7 66.46,512.7 66.02,512.7 65.58,512.7 65.14,512.7 64.7,512.7 64.26,511.81 63.81,511.17 63.37,511.45 62.93,512.56 62.49,512.7 62.05,512.7 61.61,512.7 61.17,512.7 60.73,512.7 60.29,512.7 59.85,512.7 59.41,512.7 58.97,512.7 58.53,512.49 58.09,512.07 57.65,511.7 57.21,510.37 56.77,511.51 56.32,512.01 55.88,512.7 55.44,512.54 55,512.7 54.56,512.38 54.12,512.43 53.68,511.95 53.24,511.68 52.8,511.84" fill="#8e8e8e" stroke="none" stroke-width="0" opacity="0.85"/>
<polyline points="52.8,506.53 53.24,504.83 53.68,503.91 54.12,503.25 54.56,503.51 55,503.58 55.44,504.09 55.88,504.42 56.32,505.88 56.77,506.66 57.21,506.86 57.65,506.77 58.09,508.54 58.53,506.45 58.97,506.88 59.41,506.65 59.85,506.38 60.29,505.33 60.73,505.78 61.17,504.51 61.61,505.42 62.05,504.96 62.49,504.71 62.93,505.33 63.37,504.11 63.81,501.24 64.26,502.15 64.7,502.68 65.14,502.43 65.58,503.35 66.02,503.55 66.46,502.03 66.9,502.07 67.34,498.95 67.78,499.19 68.22,498.2 68.66,499.06 69.1,497.74 69.54,498.01 69.98,494.95 70.42,492.99 70.86,493.59 71.3,496 71.75,497.22 72.19,496.07 72.63,494.32 73.07,492.5 73.51,489 73.95,489.29 74.39,486.63 74.83,487.46 75.27,488.43 75.71,489.27 76.15,487.8 76.59,486.57 77.03,486.63 77.47,485.55 77.91,481.64 78.35,485.19 78.79,485.04 79.24,481.43 79.68,481.79 80.12,480.22 80.56,482.53 81,479.98 81.44,478.4 81.88,477.34 82.32,478.28 82.76,477.01 83.2,473.85 83.64,471.9 84.08,475.03 84.52,476.53 84.96,474.6 85.4,476.24 85.84,476.95 86.28,473.27 86.73,474.64 87.17,471.33 87.61,468.49 88.05,469.12 88.49,469.34 88.93,472.15 89.37,468.72 89.81,468.04 90.25,466.07 90.69,466.07 91.13,465.36 91.57,464.69 92.01,465.03 92.45,467.22 92.89,465.36 93.33,461.35 93.77,462.59 94.22,460.28 94.66,461.12 95.1,459.87 95.54,462.46 95.98,462.53 96.42,462.63 96.86,457.74 97.3,458.74 97.74,459.28 98.18,458.88 98.62,457.4 99.06,457.91 99.5,460.99 99.94,456.76 100.38,456.97 100.82,457.92 101.26,457.63 101.71,456.51 102.15,457.63 102.59,458.32 103.03,461.57 103.47,461.63 103.91,455.65 104.35,458.27 104.79,456.51 105.23,455.65 105.67,453.8 106.11,453.92 106.55,456.9 106.99,455.19 107.43,452.6 107.87,451.84 108.31,454.08 108.75,452.11 109.19,452.19 109.64,451.36 110.08,455.21 110.52,451.27 110.96,450.42 111.4,448.48 111.84,448.35 112.28,448.35 112.72,446.22 113.16,446.08 113.6,446.83 114.04,447.81 114.48,445.5 114.92,445.62 115.36,443.99 115.8,442.97 116.24,444.23 116.68,445.01 117.13,445.5 117.57,443.68 118.01,445.85 118.45,448.23 118.89,448.23 119.33,450.56 119.77,450.93 120.21,447.41 120.65,446.98 121.09,448.03 121.53,447.08 121.97,444.17 122.41,447.57 122.85,447.81 123.29,446.25 123.73,445.82 124.17,449.52 124.62,446.67 125.06,447.93 125.5,448.38 125.94,448.13 126.38,446.61 126.82,443.91 127.26,444.34 127.7,443.77 128.14,442.83 128.58,444.26 129.02,442.57 129.46,443.14 129.9,444.4 130.34,443.33 130.78,446.27 131.22,446.15 131.66,443.61 132.11,441.64 132.55,441.88 132.99,440.36 133.43,443.02 133.87,441.73 134.31,440.42 134.75,445.26 135.19,441.7 135.63,444.07 136.07,444.11 136.51,442.91 136.95,444.02 137.39,442.24 137.83,440.44 138.27,440.8 138.71,441.16 139.15,441.72 139.6,439.55 140.04,442.62 140.48,440.63 140.92,437.83 141.36,440.14 141.8,440.33 142.24,439.44 142.68,441.87 143.12,440.04 143.56,439.92 144,438.02 144.44,436.41 144.88,434.03 145.32,435.76 145.76,433.57 146.2,436.58 146.64,438.84 147.09,439.57 147.53,438.81 147.97,436.74 148.41,437.07 148.85,436.11 149.29,437.42 149.73,437.59 150.17,440.22 150.61,443.17 151.05,442.09 151.49,445.79 151.93,446.29 152.37,446.36 152.81,445.23 153.25,444.71 153.69,443.13 154.13,444.1 154.58,441.47 155.02,446.2 155.46,443.73 155.9,441.72 156.34,445.68 156.78,448.35 157.22,449.6 157.66,450.11 158.1,450.98" fill="none" stroke="#139a4a" stroke-width="1.6" stroke-linejoin="round"/>
<polyline points="52.8,509.3 53.24,509.32 53.68,509.81 54.12,510.18 54.56,509.86 55,510.77 55.44,509.76 55.88,510.68 56.32,509.97 56.77,509.93 57.21,508.97 57.65,509.62 58.09,509.92 58.53,509.68 58.97,510.38 59.41,511.04 59.85,510.82 60.29,510.98 60.73,510.86 61.17,510.51 61.61,511.41 62.05,511.36 62.49,511.07 62.93,510.03 63.37,509.41 63.81,509.71 64.26,509.89 64.7,510.36 65.14,510.53 65.58,510.86 66.02,511.95 66.46,511.17 66.9,511.23 67.34,511.35 67.78,510.46 68.22,510.41 68.66,510.35 69.1,510.42 69.54,509.93 69.98,510.45 70.42,510.28 70.86,509.78 71.3,509.96 71.75,509.57 72.19,509.8 72.63,508.65 73.07,508.95 73.51,508.93 73.95,507.55 74.39,507.12 74.83,507.49 75.27,508.33 75.71,508.48 76.15,507.84 76.59,507.94 77.03,506.9 77.47,507.2 77.91,506.89 78.35,506.55 78.79,506.96 79.24,507.18 79.68,506.52 80.12,506.97 80.56,506.51 81,506.25 81.44,506.32 81.88,507.03 82.32,506.37 82.76,506.28 83.2,507.36 83.64,505.66 84.08,505.94 84.52,505.89 84.96,505.96 85.4,504.85 85.84,505.33 86.28,506.17 86.73,505.54 87.17,504.49 87.61,505.81 88.05,504.56 88.49,503.1 88.93,504.15 89.37,503.63 89.81,504.38 90.25,504.46 90.69,503.98 91.13,504.33 91.57,504.45 92.01,503.51 92.45,503.41 92.89,503.03 93.33,503.51 93.77,503.24 94.22,504.8 94.66,503.39 95.1,502.95 95.54,503.47 95.98,503.4 96.42,501.95 96.86,503.36 97.3,502.33 97.74,501.97 98.18,502.23 98.62,501.61 99.06,500.85 99.5,501.72 99.94,500.21 100.38,501.08 100.82,500.2 101.26,500.95 101.71,500.49 102.15,501.37 102.59,500.29 103.03,501.09 103.47,499.15 103.91,499.63 104.35,498.9 104.79,499.39 105.23,500.68 105.67,499.56 106.11,498.6 106.55,498.2 106.99,498.81 107.43,497.67 107.87,496.68 108.31,496.9 108.75,498.48 109.19,497.47 109.64,497.48 110.08,497.12 110.52,497.67 110.96,497.72 111.4,495.65 111.84,497.24 112.28,496.48 112.72,497.43 113.16,497.69 113.6,497.03 114.04,495.84 114.48,495.29 114.92,495.53 115.36,496.03 115.8,495.95 116.24,496.7 116.68,496.56 117.13,495.52 117.57,495.3 118.01,493.63 118.45,494.06 118.89,493.47 119.33,495.97 119.77,494.67 120.21,495.34 120.65,495.09 121.09,496.18 121.53,496.59 121.97,496.61 122.41,497.62 122.85,497.79 123.29,497.25 123.73,496.26 124.17,495.82 124.62,496.72 125.06,495.34 125.5,497.96 125.94,496.22 126.38,498.36 126.82,497.29 127.26,498.52 127.7,497.62 128.14,496.69 128.58,497.44 129.02,495.69 129.46,496.93 129.9,496.96 130.34,497.6 130.78,494.66 131.22,496.75 131.66,495.29 132.11,495.51 132.55,497.32 132.99,497.62 133.43,499.11 133.87,497.98 134.31,497.29 134.75,497.2 135.19,498.53 135.63,497.13 136.07,497.71 136.51,497.93 136.95,499.3 137.39,496.35 137.83,498.29 138.27,497.22 138.71,498.62 139.15,497.7 139.6,497.43 140.04,497.8 140.48,496.88 140.92,495.25 141.36,497.1 141.8,496.46 142.24,496.22 142.68,493.34 143.12,493.72 143.56,493.7 144,495.54 144.44,494.41 144.88,495.59 145.32,496.19 145.76,495.89 146.2,495.09 146.64,495.44 147.09,495.51 147.53,494.27 147.97,495.5 148.41,496.42 148.85,495.81 149.29,495.97 149.73,496.16 150.17,494.37 150.61,493.9 151.05,493.47 151.49,493.49 151.93,493.05 152.37,492.74 152.81,493.31 153.25,494.68 153.69,495.59 154.13,493.05 154.58,494.72 155.02,494.48 155.46,494.3 155.9,494.08 156.34,496.18 156.78,493.88 157.22,495.06 157.66,494.45 158.1,495.15" fill="none" stroke="#111" stroke-width="1.25" stroke-linejoin="round"/>
<line x1="52.8" y1="470.54" x2="158.1" y2="470.54" stroke="#e8332a" stroke-width="0.9" stroke-dasharray="1.1 1.3"/>
<line x1="52.8" y1="493.73" x2="158.1" y2="493.73" stroke="#111" stroke-width="0.9" stroke-dasharray="1.1 1.3"/>
<line x1="52.8" y1="407.3" x2="52.8" y2="513.3" stroke="#161616" stroke-width="1.2"/>
<line x1="48.8" y1="512.7" x2="52.8" y2="512.7" stroke="#161616" stroke-width="1.2"/>
<text x="46" y="516.53" font-size="11.6" text-anchor="end">0.0</text>
<line x1="48.8" y1="491.62" x2="52.8" y2="491.62" stroke="#161616" stroke-width="1.2"/>
<text x="46" y="495.45" font-size="11.6" text-anchor="end">0.2</text>
<line x1="48.8" y1="470.54" x2="52.8" y2="470.54" stroke="#161616" stroke-width="1.2"/>
<text x="46" y="474.37" font-size="11.6" text-anchor="end">0.4</text>
<line x1="48.8" y1="449.46" x2="52.8" y2="449.46" stroke="#161616" stroke-width="1.2"/>
<text x="46" y="453.29" font-size="11.6" text-anchor="end">0.6</text>
<line x1="48.8" y1="428.38" x2="52.8" y2="428.38" stroke="#161616" stroke-width="1.2"/>
<text x="46" y="432.21" font-size="11.6" text-anchor="end">0.8</text>
<line x1="48.8" y1="407.3" x2="52.8" y2="407.3" stroke="#161616" stroke-width="1.2"/>
<text x="46" y="411.13" font-size="11.6" text-anchor="end">1.0</text>
<line x1="52.2" y1="512.7" x2="158.1" y2="512.7" stroke="#161616" stroke-width="1.2"/>
<line x1="52.8" y1="512.7" x2="52.8" y2="516.9" stroke="#161616" stroke-width="1.2"/>
<text x="52.8" y="528.5" font-size="11.6" text-anchor="middle">0</text>
<line x1="73.86" y1="512.7" x2="73.86" y2="516.9" stroke="#161616" stroke-width="1.2"/>
<text x="73.86" y="528.5" font-size="11.6" text-anchor="middle">4</text>
<line x1="94.92" y1="512.7" x2="94.92" y2="516.9" stroke="#161616" stroke-width="1.2"/>
<text x="94.92" y="528.5" font-size="11.6" text-anchor="middle">8</text>
<line x1="115.98" y1="512.7" x2="115.98" y2="516.9" stroke="#161616" stroke-width="1.2"/>
<text x="115.98" y="528.5" font-size="11.6" text-anchor="middle">12</text>
<line x1="137.04" y1="512.7" x2="137.04" y2="516.9" stroke="#161616" stroke-width="1.2"/>
<text x="137.04" y="528.5" font-size="11.6" text-anchor="middle">16</text>
<line x1="158.1" y1="512.7" x2="158.1" y2="516.9" stroke="#161616" stroke-width="1.2"/>
<text x="158.1" y="528.5" font-size="11.6" text-anchor="middle">20</text>
<text x="106.05" y="545.4" font-size="13" text-anchor="middle">Time (hours)</text>
<line x1="54.6" y1="407.6" x2="66.8" y2="407.6" stroke="#222" stroke-width="1.2"/>
<line x1="54.6" y1="421.4" x2="66.8" y2="421.4" stroke="#1a9e5a" stroke-width="1.4"/>
<text x="73" y="411.6" font-size="11.5">WT (n=9)</text>
<text x="73" y="425.4" font-size="11.5">&#916;<tspan font-style="italic">crp</tspan> (n=9)</text>
<line x1="163.4" y1="514.1" x2="167.3" y2="510.3" stroke="#222" stroke-width="1"/>
<line x1="165.1" y1="515.9" x2="169.2" y2="512" stroke="#222" stroke-width="1"/>
<polygon points="177.1,493.22 177.54,497.74 177.98,499.47 178.42,499.2 178.86,496.37 179.3,498.37 179.74,497.3 180.18,497.38 180.62,502.58 181.07,502.82 181.51,502.83 181.95,500.78 182.39,501.66 182.83,502.54 183.27,503.52 183.71,502.93 184.15,498.88 184.59,502.09 185.03,500.21 185.47,503.07 185.91,501.11 186.35,499.71 186.79,498.3 187.23,499.08 187.67,498.85 188.11,497.89 188.56,499.57 189,498.01 189.44,496.55 189.88,496.55 190.32,498.99 190.76,499.03 191.2,497.24 191.64,497.8 192.08,495.86 192.52,492.55 192.96,491.91 193.4,482.56 193.84,488.65 194.28,490.76 194.72,493.45 195.16,488.9 195.6,491.09 196.05,487.99 196.49,481.75 196.93,483.46 197.37,487.27 197.81,484.48 198.25,485.69 198.69,484.53 199.13,487.88 199.57,484.77 200.01,482.92 200.45,478.93 200.89,477.16 201.33,480.25 201.77,478.49 202.21,482.34 202.65,482.9 203.09,478.77 203.54,479.79 203.98,476.8 204.42,476.05 204.86,478.18 205.3,480.28 205.74,478.19 206.18,475.52 206.62,475.84 207.06,476.71 207.5,472.34 207.94,473.2 208.38,474.91 208.82,473.9 209.26,474.28 209.7,469.48 210.14,470.04 210.58,473.59 211.03,470.41 211.47,472.52 211.91,470.89 212.35,470.7 212.79,468.13 213.23,472.44 213.67,469.16 214.11,464.98 214.55,470.79 214.99,467.68 215.43,472.83 215.87,471.26 216.31,469.46 216.75,467.4 217.19,470.18 217.63,468.07 218.07,468.09 218.52,471.01 218.96,468.46 219.4,471.62 219.84,468.58 220.28,470.47 220.72,468.49 221.16,468.14 221.6,466.75 222.04,466.81 222.48,468.88 222.92,469.44 223.36,467.71 223.8,467.73 224.24,467.44 224.68,468.44 225.12,467.46 225.56,465.64 226.01,469.55 226.45,465.53 226.89,464.57 227.33,468.34 227.77,467.74 228.21,467.41 228.65,466.99 229.09,468.02 229.53,468.7 229.97,467.95 230.41,462.08 230.85,461.41 231.29,459.44 231.73,463.86 232.17,462.99 232.61,465.64 233.05,463.81 233.49,464.38 233.94,464.92 234.38,462.84 234.82,464.41 235.26,464.31 235.7,465.01 236.14,463.32 236.58,463.54 237.02,463.29 237.46,457.52 237.9,462.19 238.34,460.15 238.78,458.04 239.22,459.1 239.66,458.59 240.1,455.87 240.54,457.28 240.98,460.08 241.43,458.16 241.87,461.47 242.31,464.1 242.75,463.78 243.19,461.77 243.63,456.85 244.07,461.72 244.51,462.74 244.95,460.16 245.39,460.09 245.83,462.53 246.27,460.36 246.71,464.08 247.15,462.23 247.59,460.02 248.03,458.25 248.47,458.99 248.92,461.11 249.36,459.71 249.8,458.49 250.24,461.21 250.68,457.7 251.12,459.79 251.56,460.25 252,458.44 252.44,459.14 252.88,458.92 253.32,459.71 253.76,460.56 254.2,456.23 254.64,456.76 255.08,445.95 255.52,446 255.96,449.81 256.41,452.92 256.85,452.59 257.29,454.81 257.73,455.04 258.17,455.06 258.61,457.17 259.05,457.79 259.49,458.01 259.93,458.99 260.37,452.78 260.81,455.21 261.25,454.27 261.69,457.35 262.13,449.9 262.57,455.91 263.01,454.84 263.45,455.95 263.9,454.02 264.34,448.06 264.78,451.52 265.22,452.67 265.66,453.84 266.1,454.04 266.54,453.35 266.98,454.98 267.42,455.27 267.86,457.2 268.3,456.31 268.74,457.88 269.18,453.01 269.62,455.22 270.06,455.13 270.5,457.19 270.94,449.15 271.39,457.04 271.83,449.95 272.27,455.8 272.71,458.06 273.15,458.97 273.59,455.7 274.03,457.63 274.47,456.43 274.91,456.69 275.35,455.29 275.79,457.18 276.23,456.02 276.67,456.04 277.11,458.24 277.55,451.06 277.99,452.92 278.43,454.89 278.88,457.12 279.32,454.51 279.76,452.1 280.2,450.41 280.64,451.3 281.08,452.87 281.52,445.44 281.96,456.56 282.4,452.76 282.4,464.59 281.96,471.61 281.52,463.61 281.08,463.93 280.64,465.51 280.2,465.56 279.76,467.92 279.32,470.76 278.88,470.83 278.43,469.35 277.99,468.28 277.55,469.84 277.11,472.14 276.67,470.38 276.23,471.4 275.79,471.25 275.35,470.11 274.91,468.87 274.47,470.54 274.03,469.29 273.59,468.03 273.15,467.73 272.71,468.34 272.27,467.24 271.83,470.65 271.39,473.67 270.94,473.1 270.5,471.76 270.06,468.36 269.62,468.67 269.18,466.83 268.74,469.87 268.3,467.73 267.86,468.37 267.42,469.53 266.98,469.33 266.54,465.86 266.1,466.39 265.66,468.86 265.22,467.95 264.78,465.19 264.34,466.36 263.9,467.28 263.45,470.31 263.01,467.69 262.57,467.8 262.13,469.26 261.69,472.11 261.25,472.11 260.81,470.44 260.37,467.74 259.93,475.62 259.49,468.39 259.05,468.07 258.61,468.06 258.17,466.12 257.73,466.22 257.29,467.33 256.85,467.72 256.41,467.47 255.96,464.24 255.52,466.61 255.08,467.79 254.64,471.62 254.2,469.05 253.76,470.95 253.32,473.36 252.88,470.78 252.44,478.66 252,471.05 251.56,472.18 251.12,472.64 250.68,470.85 250.24,474.36 249.8,472.96 249.36,474.55 248.92,477.56 248.47,472.76 248.03,472.2 247.59,472.18 247.15,482.25 246.71,477.95 246.27,473.68 245.83,477.7 245.39,482.15 244.95,475.28 244.51,475.24 244.07,475.4 243.63,474.01 243.19,475.6 242.75,474.39 242.31,476.18 241.87,472.51 241.43,469.71 240.98,470.89 240.54,469.58 240.1,468.81 239.66,474.51 239.22,475.17 238.78,475.26 238.34,475.78 237.9,484.97 237.46,483.84 237.02,476.54 236.58,476.01 236.14,475.23 235.7,477.6 235.26,476.6 234.82,474.77 234.38,479 233.94,475.61 233.49,475.66 233.05,475.96 232.61,477.79 232.17,476.26 231.73,476.63 231.29,476.89 230.85,478.04 230.41,475.74 229.97,476.87 229.53,476.89 229.09,476.61 228.65,477.24 228.21,478.66 227.77,484.48 227.33,481.69 226.89,474.48 226.45,476.47 226.01,487.43 225.56,478.14 225.12,480.86 224.68,481.71 224.24,478.96 223.8,480.67 223.36,479.58 222.92,485.29 222.48,486.91 222.04,482.52 221.6,481.94 221.16,481.29 220.72,477.47 220.28,478.54 219.84,478.23 219.4,482.14 218.96,479.05 218.52,482.02 218.07,480.69 217.63,480.53 217.19,482.77 216.75,487.32 216.31,482.91 215.87,483.43 215.43,488.73 214.99,483.53 214.55,480.5 214.11,482.26 213.67,480.08 213.23,489.75 212.79,480.63 212.35,485.37 211.91,485.86 211.47,486.5 211.03,483.96 210.58,485.78 210.14,484.75 209.7,485.27 209.26,489.83 208.82,486.78 208.38,485.47 207.94,483.92 207.5,483.34 207.06,491.05 206.62,488.24 206.18,487.38 205.74,489.98 205.3,495.8 204.86,493.25 204.42,496.23 203.98,489.87 203.54,491.2 203.09,499.34 202.65,493.97 202.21,494.58 201.77,496.78 201.33,492.72 200.89,490.08 200.45,493.41 200.01,495.42 199.57,497.52 199.13,497.02 198.69,494.96 198.25,493.99 197.81,494.18 197.37,497.35 196.93,496.3 196.49,503.18 196.05,500.95 195.6,500.48 195.16,502.93 194.72,503.23 194.28,508.2 193.84,501.01 193.4,502.55 192.96,504.35 192.52,504.18 192.08,504.49 191.64,506.68 191.2,508.24 190.76,512.41 190.32,510.27 189.88,506.72 189.44,508.24 189,507.22 188.56,508.6 188.11,506.42 187.67,508.43 187.23,510.8 186.79,511.43 186.35,511.01 185.91,512.7 185.47,512.37 185.03,510.49 184.59,512.7 184.15,511.63 183.71,511.1 183.27,510.65 182.83,510.68 182.39,511.78 181.95,512.7 181.51,512.7 181.07,512.7 180.62,511.43 180.18,509.23 179.74,510.69 179.3,508.98 178.86,505.96 178.42,507.2 177.98,506.62 177.54,505.19 177.1,504.44" fill="#c3e7f1" stroke="none" stroke-width="0"/>
<polygon points="177.1,499.51 177.54,501.5 177.98,500.94 178.42,499.01 178.86,497.32 179.3,502.22 179.74,504.18 180.18,499 180.62,503.44 181.07,504.64 181.51,505.96 181.95,505.7 182.39,505.44 182.83,505.24 183.27,504.34 183.71,504.11 184.15,504.5 184.59,503.73 185.03,505.75 185.47,503.29 185.91,505.4 186.35,506.23 186.79,505.27 187.23,505.38 187.67,507.35 188.11,508.1 188.56,507.59 189,507.78 189.44,502.58 189.88,504.63 190.32,505.38 190.76,505.78 191.2,508.15 191.64,503.71 192.08,505.83 192.52,505.03 192.96,503.45 193.4,503.91 193.84,502.54 194.28,501.61 194.72,502.31 195.16,502.87 195.6,503.55 196.05,501.79 196.49,502.2 196.93,503.2 197.37,500.92 197.81,498.96 198.25,499.63 198.69,499.53 199.13,501.46 199.57,500.47 200.01,497.28 200.45,498.45 200.89,499.43 201.33,498.8 201.77,496.63 202.21,493.06 202.65,499.82 203.09,500.4 203.54,499.62 203.98,499.01 204.42,499.52 204.86,499.49 205.3,499.35 205.74,498.62 206.18,496.47 206.62,493.88 207.06,495.56 207.5,487.49 207.94,494.51 208.38,493.19 208.82,494.43 209.26,496.12 209.7,494.7 210.14,496.48 210.58,497.62 211.03,496.81 211.47,496.4 211.91,494.97 212.35,496.34 212.79,495.22 213.23,495.4 213.67,493.16 214.11,485.79 214.55,490.78 214.99,491.37 215.43,489.62 215.87,488.36 216.31,490.64 216.75,490.62 217.19,489.41 217.63,490.42 218.07,490.51 218.52,483.7 218.96,490.87 219.4,489.38 219.84,489.34 220.28,489.94 220.72,491.83 221.16,492.28 221.6,491.34 222.04,490.02 222.48,491.35 222.92,493.49 223.36,490.41 223.8,489.17 224.24,490.04 224.68,490.61 225.12,491.32 225.56,492.48 226.01,491.28 226.45,492.73 226.89,491.2 227.33,491.8 227.77,492.81 228.21,489.84 228.65,492.37 229.09,490.77 229.53,490.94 229.97,490.14 230.41,492.12 230.85,490.48 231.29,488.72 231.73,490.03 232.17,490.9 232.61,490.78 233.05,490.85 233.49,490.08 233.94,490.5 234.38,489.99 234.82,489.82 235.26,490.22 235.7,490.92 236.14,482.62 236.58,490.61 237.02,491.82 237.46,492.34 237.9,492.17 238.34,486.08 238.78,490.49 239.22,491.36 239.66,491.09 240.1,486.55 240.54,492.57 240.98,488.88 241.43,491.07 241.87,491.07 242.31,492.3 242.75,491.71 243.19,490.83 243.63,480.92 244.07,488.56 244.51,489.91 244.95,491.8 245.39,491.68 245.83,491.61 246.27,489 246.71,488.17 247.15,491.14 247.59,492.06 248.03,491.54 248.47,488.72 248.92,486.73 249.36,480.4 249.8,488.34 250.24,484.14 250.68,486.1 251.12,485.02 251.56,487.81 252,488.77 252.44,486.6 252.88,488.72 253.32,491.07 253.76,488.97 254.2,489.17 254.64,489.16 255.08,485.7 255.52,488.6 255.96,486.02 256.41,485.38 256.85,487.17 257.29,485.83 257.73,487.11 258.17,487.96 258.61,489.04 259.05,490.49 259.49,489.04 259.93,488.69 260.37,490.99 260.81,491.68 261.25,489.37 261.69,489.95 262.13,488.32 262.57,489.45 263.01,489.84 263.45,488.51 263.9,488.4 264.34,486.23 264.78,487.93 265.22,489.45 265.66,490.07 266.1,490.31 266.54,489.69 266.98,489.32 267.42,488.97 267.86,488.33 268.3,489.92 268.74,491.1 269.18,491.45 269.62,492.53 270.06,490.33 270.5,491.12 270.94,492.09 271.39,492.71 271.83,492.4 272.27,484.95 272.71,489.53 273.15,489.49 273.59,489.87 274.03,487.82 274.47,487.68 274.91,487.94 275.35,488.63 275.79,489.46 276.23,488.85 276.67,487.5 277.11,486.89 277.55,488.27 277.99,486.06 278.43,485.4 278.88,487.04 279.32,489.94 279.76,490.1 280.2,489.23 280.64,487.85 281.08,489.1 281.52,489.48 281.96,483.99 282.4,479.12 282.4,502.43 281.96,503.88 281.52,503.77 281.08,505.37 280.64,510.94 280.2,506.7 279.76,505.33 279.32,501.63 278.88,501.68 278.43,498.89 277.99,501.3 277.55,499.28 277.11,500.76 276.67,499.67 276.23,503.3 275.79,501.33 275.35,502.59 274.91,502.13 274.47,501.89 274.03,500.34 273.59,503.25 273.15,505.73 272.71,510.65 272.27,511.61 271.83,512.19 271.39,506.71 270.94,504.84 270.5,503.84 270.06,501.82 269.62,503.67 269.18,501.52 268.74,502.87 268.3,503.74 267.86,503.82 267.42,503.62 266.98,502.68 266.54,499.3 266.1,498.82 265.66,507.56 265.22,506.67 264.78,505.77 264.34,505.93 263.9,501.6 263.45,500.78 263.01,501.76 262.57,503.18 262.13,502.11 261.69,501.61 261.25,500.02 260.81,503.75 260.37,503.03 259.93,500.2 259.49,500.2 259.05,510.93 258.61,502.13 258.17,500.13 257.73,499.44 257.29,498.11 256.85,501.06 256.41,499.74 255.96,501.55 255.52,507.18 255.08,500.36 254.64,502.36 254.2,505.39 253.76,502 253.32,505.1 252.88,508.6 252.44,502.95 252,502.35 251.56,502.94 251.12,502.75 250.68,503.49 250.24,504.44 249.8,503.7 249.36,504.29 248.92,505.14 248.47,504.17 248.03,506.52 247.59,506.35 247.15,508.87 246.71,505.45 246.27,505.76 245.83,505.34 245.39,504.79 244.95,503.96 244.51,504.62 244.07,506.55 243.63,506.54 243.19,504.54 242.75,505.81 242.31,504.83 241.87,505.17 241.43,506.46 240.98,507.34 240.54,508.22 240.1,507.85 239.66,506.93 239.22,505.08 238.78,504.34 238.34,506.04 237.9,506.5 237.46,504.61 237.02,504.84 236.58,503.85 236.14,506.29 235.7,508.1 235.26,507.25 234.82,506.23 234.38,505.36 233.94,505.11 233.49,500.64 233.05,501.28 232.61,503.45 232.17,505.41 231.73,506.27 231.29,500.6 230.85,502.57 230.41,501.48 229.97,509.41 229.53,502.08 229.09,503.12 228.65,505.48 228.21,512.7 227.77,508.74 227.33,504.11 226.89,504.17 226.45,505.63 226.01,504.44 225.56,502.26 225.12,502.6 224.68,502.91 224.24,505.95 223.8,503.27 223.36,502.71 222.92,504.73 222.48,508.63 222.04,503.6 221.6,504.51 221.16,504.99 220.72,503.75 220.28,501.72 219.84,507.86 219.4,509.5 218.96,505.33 218.52,503.79 218.07,504.49 217.63,503.81 217.19,509.69 216.75,503.52 216.31,506.19 215.87,504.41 215.43,505.39 214.99,507.68 214.55,505.98 214.11,507.19 213.67,505.73 213.23,511.62 212.79,504.46 212.35,504.03 211.91,504.52 211.47,505.38 211.03,505.8 210.58,507.9 210.14,509.77 209.7,512.43 209.26,508.12 208.82,507.2 208.38,507.2 207.94,508.68 207.5,508.02 207.06,508.87 206.62,507.45 206.18,508.96 205.74,510.37 205.3,510.11 204.86,512.7 204.42,509.45 203.98,508.47 203.54,507.11 203.09,507.76 202.65,506.76 202.21,506.12 201.77,507.1 201.33,511.92 200.89,511.15 200.45,511 200.01,512.7 199.57,511.46 199.13,510.7 198.69,509.41 198.25,510.4 197.81,509.7 197.37,511.28 196.93,512.7 196.49,512.7 196.05,511.41 195.6,512.7 195.16,512.7 194.72,511.58 194.28,510.23 193.84,510.71 193.4,511.18 192.96,510.47 192.52,510.98 192.08,511.89 191.64,512.7 191.2,512.7 190.76,512.7 190.32,512.7 189.88,512.64 189.44,512.7 189,512.7 188.56,512.7 188.11,512.7 187.67,512.7 187.23,511.9 186.79,512.03 186.35,512.7 185.91,512.36 185.47,512.7 185.03,512.59 184.59,511.43 184.15,512.37 183.71,512.7 183.27,511.91 182.83,511.62 182.39,511 181.95,510.36 181.51,512.7 181.07,510.47 180.62,509.69 180.18,507.87 179.74,508.54 179.3,507.13 178.86,508.71 178.42,509.55 177.98,508.62 177.54,508.79 177.1,506.87" fill="#8e8e8e" stroke="none" stroke-width="0" opacity="0.85"/>
<polyline points="177.1,501.11 177.54,502.04 177.98,503.19 178.42,503 178.86,500.79 179.3,503.96 179.74,505.65 180.18,505.27 180.62,506.58 181.07,507.44 181.51,507.49 181.95,506.73 182.39,506.74 182.83,506.54 183.27,506.82 183.71,506.79 184.15,507.58 184.59,508.18 185.03,506.4 185.47,506.96 185.91,505.76 186.35,505.3 186.79,505.98 187.23,506.01 187.67,504.92 188.11,503.75 188.56,504.97 189,502.97 189.44,502.72 189.88,501.88 190.32,504.93 190.76,502.34 191.2,501.8 191.64,502.53 192.08,501.12 192.52,498.67 192.96,497.86 193.4,496.28 193.84,496 194.28,497.24 194.72,498.32 195.16,496.98 195.6,495.88 196.05,494.83 196.49,494.92 196.93,491.38 197.37,493.4 197.81,490.84 198.25,490.71 198.69,490.48 199.13,491.34 199.57,490.28 200.01,488.34 200.45,485.77 200.89,482.87 201.33,485.07 201.77,489.91 202.21,488.48 202.65,489.1 203.09,488.34 203.54,485.86 203.98,484.39 204.42,482.9 204.86,484.97 205.3,484.75 205.74,483.96 206.18,480.15 206.62,481.58 207.06,482.21 207.5,478.87 207.94,479.17 208.38,479.66 208.82,479.42 209.26,481.27 209.7,476.55 210.14,478.08 210.58,480.39 211.03,477.83 211.47,478.68 211.91,477.9 212.35,477.97 212.79,474.19 213.23,478.62 213.67,474.31 214.11,475.87 214.55,474.47 214.99,476.94 215.43,477.47 215.87,476.98 216.31,475.27 216.75,480.09 217.19,477.04 217.63,475.59 218.07,475 218.52,475.51 218.96,473.34 219.4,475.8 219.84,474.38 220.28,475.67 220.72,474.69 221.16,474.47 221.6,473.3 222.04,472.87 222.48,474.03 222.92,473.81 223.36,474.93 223.8,473.26 224.24,471.2 224.68,473.52 225.12,473.96 225.56,471.17 226.01,474.29 226.45,470.72 226.89,469.5 227.33,472.87 227.77,471.51 228.21,471.28 228.65,471.21 229.09,471.05 229.53,472.03 229.97,472.35 230.41,470.64 230.85,470.56 231.29,468.75 231.73,469.68 232.17,468.92 232.61,470.72 233.05,469.45 233.49,470.74 233.94,471.94 234.38,470.21 234.82,470.52 235.26,469.44 235.7,470.07 236.14,468.65 236.58,469.31 237.02,469.13 237.46,468.25 237.9,468.43 238.34,466.88 238.78,465.87 239.22,466.65 239.66,466.33 240.1,461.67 240.54,463.6 240.98,464.13 241.43,462.97 241.87,465.14 242.31,467.99 242.75,467.38 243.19,468.13 243.63,468 244.07,468.19 244.51,468.02 244.95,466.62 245.39,465.79 245.83,468.84 246.27,465.31 246.71,468.86 247.15,465.94 247.59,464.88 248.03,464.51 248.47,465.24 248.92,468.47 249.36,466.97 249.8,466.01 250.24,468 250.68,464.56 251.12,465.86 251.56,465 252,463.08 252.44,463.67 252.88,464.02 253.32,464.01 253.76,466.39 254.2,462.63 254.64,463.54 255.08,459.34 255.52,457.24 255.96,456.52 256.41,459.53 256.85,459.21 257.29,461.57 257.73,461.29 258.17,461.53 258.61,463.86 259.05,464.01 259.49,463.74 259.93,463.44 260.37,460.38 260.81,463.97 261.25,464.44 261.69,465.54 262.13,462.77 262.57,462.59 263.01,462.39 263.45,463.57 263.9,461.38 264.34,460.51 264.78,459.59 265.22,460.21 265.66,461.03 266.1,459.41 266.54,459.29 266.98,461.94 267.42,461.53 267.86,461.74 268.3,461.82 268.74,463.77 269.18,459.47 269.62,462.15 270.06,462.21 270.5,464.83 270.94,465.17 271.39,466.49 271.83,464.62 272.27,463.06 272.71,463.55 273.15,463.4 273.59,462.61 274.03,463.06 274.47,464.42 274.91,463.74 275.35,464.92 275.79,463.29 276.23,461.99 276.67,460.88 277.11,464.35 277.55,463.17 277.99,461.91 278.43,463.48 278.88,464.3 279.32,461.79 279.76,461.16 280.2,459.9 280.64,460.53 281.08,460.85 281.52,459.79 281.96,463.54 282.4,460.03" fill="none" stroke="#5bc3dc" stroke-width="1.2" stroke-linejoin="round"/>
<polyline points="177.1,504.18 177.54,505.72 177.98,505.02 178.42,505.52 178.86,505.53 179.3,504.77 179.74,506.29 180.18,505.39 180.62,506.81 181.07,507.25 181.51,507.85 181.95,507.49 182.39,508.18 182.83,508.05 183.27,507.71 183.71,507.53 184.15,508.36 184.59,507.69 185.03,509.3 185.47,508.68 185.91,508.15 186.35,509.44 186.79,508.57 187.23,509.13 187.67,510.6 188.11,510.45 188.56,509.46 189,510.31 189.44,510.43 189.88,508.92 190.32,509.49 190.76,509.27 191.2,510.32 191.64,509.55 192.08,509.17 192.52,509.34 192.96,508.28 193.4,508.76 193.84,507.61 194.28,506.91 194.72,506.85 195.16,506.62 195.6,507.47 196.05,506.39 196.49,507.12 196.93,508.17 197.37,506.05 197.81,505.93 198.25,506.43 198.69,505.53 199.13,506.05 199.57,505.94 200.01,505.45 200.45,504.68 200.89,504.85 201.33,504.77 201.77,503.19 202.21,502.83 202.65,504.4 203.09,503.97 203.54,503.94 203.98,503.64 204.42,503.86 204.86,504.16 205.3,504.13 205.74,504.58 206.18,503.57 206.62,501.55 207.06,501.58 207.5,501.44 207.94,501.08 208.38,500.1 208.82,499.68 209.26,500.45 209.7,500.31 210.14,501.4 210.58,502.47 211.03,501.38 211.47,501.19 211.91,499.98 212.35,500.43 212.79,499.62 213.23,499.79 213.67,499.11 214.11,499.75 214.55,498.36 214.99,499.15 215.43,497.43 215.87,495.93 216.31,497.04 216.75,496.65 217.19,496.81 217.63,498.01 218.07,498.36 218.52,498.5 218.96,499.58 219.4,497.78 219.84,496.13 220.28,495.87 220.72,497.47 221.16,497.61 221.6,497.44 222.04,496.55 222.48,496.79 222.92,498.37 223.36,496.03 223.8,497.11 224.24,497.65 224.68,496.09 225.12,496.6 225.56,497.42 226.01,499.69 226.45,500.37 226.89,499.91 227.33,497.81 227.77,498.88 228.21,498.1 228.65,497.42 229.09,496.27 229.53,495.63 229.97,494.92 230.41,496.17 230.85,496.93 231.29,496.09 231.73,497.71 232.17,497.65 232.61,496.71 233.05,496.02 233.49,495.45 233.94,498 234.38,497.73 234.82,497.64 235.26,497.44 235.7,499.07 236.14,497.54 236.58,497.11 237.02,498.52 237.46,497.84 237.9,497.98 238.34,498 238.78,497.09 239.22,498.1 239.66,499.09 240.1,500.08 240.54,499.74 240.98,499.92 241.43,498.28 241.87,497.8 242.31,497.47 242.75,496.62 243.19,497.08 243.63,496.66 244.07,497.48 244.51,497.26 244.95,497.05 245.39,497.11 245.83,497.95 246.27,497.41 246.71,497.03 247.15,498.66 247.59,496.9 248.03,497.12 248.47,496.54 248.92,498.18 249.36,496.61 249.8,496.71 250.24,496.7 250.68,496.37 251.12,495.06 251.56,496.55 252,496.54 252.44,495.94 252.88,495.25 253.32,497.44 253.76,495.56 254.2,497.11 254.64,496.3 255.08,493.39 255.52,494.79 255.96,493.76 256.41,493.55 256.85,495.17 257.29,492.23 257.73,493.4 258.17,493.78 258.61,495.48 259.05,496.87 259.49,494.08 259.93,493.87 260.37,496 260.81,496.36 261.25,494.6 261.69,495.2 262.13,495.86 262.57,495.19 263.01,495.48 263.45,495.34 263.9,496.51 264.34,495.05 264.78,496.04 265.22,496.35 265.66,494.91 266.1,494.64 266.54,494.66 266.98,496.71 267.42,496.05 267.86,495.94 268.3,495.98 268.74,495.99 269.18,496.28 269.62,498.59 270.06,497.47 270.5,497.08 270.94,496.88 271.39,497.01 271.83,497.7 272.27,497.91 272.71,497.07 273.15,497.15 273.59,497.36 274.03,496.42 274.47,497.09 274.91,497.43 275.35,496.43 275.79,496.63 276.23,498.05 276.67,496.05 277.11,496.36 277.55,495.45 277.99,496.03 278.43,494.81 278.88,496 279.32,495.85 279.76,496.22 280.2,496.36 280.64,496.22 281.08,496.72 281.52,497.73 281.96,496.85 282.4,495.89" fill="none" stroke="#111" stroke-width="1.25" stroke-linejoin="round"/>
<line x1="177.1" y1="470.54" x2="282.4" y2="470.54" stroke="#e8332a" stroke-width="0.9" stroke-dasharray="1.1 1.3"/>
<line x1="177.1" y1="493.73" x2="282.4" y2="493.73" stroke="#111" stroke-width="0.9" stroke-dasharray="1.1 1.3"/>
<line x1="177.1" y1="407.3" x2="177.1" y2="513.3" stroke="#161616" stroke-width="1.2"/>
<line x1="173.1" y1="512.7" x2="177.1" y2="512.7" stroke="#161616" stroke-width="1.2"/>
<line x1="173.1" y1="491.62" x2="177.1" y2="491.62" stroke="#161616" stroke-width="1.2"/>
<line x1="173.1" y1="470.54" x2="177.1" y2="470.54" stroke="#161616" stroke-width="1.2"/>
<line x1="173.1" y1="449.46" x2="177.1" y2="449.46" stroke="#161616" stroke-width="1.2"/>
<line x1="173.1" y1="428.38" x2="177.1" y2="428.38" stroke="#161616" stroke-width="1.2"/>
<line x1="173.1" y1="407.3" x2="177.1" y2="407.3" stroke="#161616" stroke-width="1.2"/>
<line x1="176.5" y1="512.7" x2="282.4" y2="512.7" stroke="#161616" stroke-width="1.2"/>
<line x1="177.1" y1="512.7" x2="177.1" y2="516.9" stroke="#161616" stroke-width="1.2"/>
<text x="177.1" y="528.5" font-size="11.6" text-anchor="middle">0</text>
<line x1="198.16" y1="512.7" x2="198.16" y2="516.9" stroke="#161616" stroke-width="1.2"/>
<text x="198.16" y="528.5" font-size="11.6" text-anchor="middle">4</text>
<line x1="219.22" y1="512.7" x2="219.22" y2="516.9" stroke="#161616" stroke-width="1.2"/>
<text x="219.22" y="528.5" font-size="11.6" text-anchor="middle">8</text>
<line x1="240.28" y1="512.7" x2="240.28" y2="516.9" stroke="#161616" stroke-width="1.2"/>
<text x="240.28" y="528.5" font-size="11.6" text-anchor="middle">12</text>
<line x1="261.34" y1="512.7" x2="261.34" y2="516.9" stroke="#161616" stroke-width="1.2"/>
<text x="261.34" y="528.5" font-size="11.6" text-anchor="middle">16</text>
<line x1="282.4" y1="512.7" x2="282.4" y2="516.9" stroke="#161616" stroke-width="1.2"/>
<text x="282.4" y="528.5" font-size="11.6" text-anchor="middle">20</text>
<text x="230.35" y="545.4" font-size="13" text-anchor="middle">Time (hours)</text>
<line x1="178.9" y1="407.6" x2="191.1" y2="407.6" stroke="#555" stroke-width="1.6"/>
<line x1="178.9" y1="421.4" x2="191.1" y2="421.4" stroke="#6ccde3" stroke-width="1.4"/>
<text x="197.3" y="411.6" font-size="11.5">WT (n=12)</text>
<text x="197.3" y="425.4" font-size="11.5">&#916;<tspan font-style="italic">wzxE</tspan> (n=15)</text>
<line x1="288.9" y1="514.1" x2="292.8" y2="510.3" stroke="#222" stroke-width="1"/>
<line x1="290.6" y1="515.9" x2="294.7" y2="512" stroke="#222" stroke-width="1"/>
<polygon points="303.4,510.06 303.84,510.42 304.28,510.54 304.72,510.04 305.16,510.25 305.6,510.77 306.04,511.85 306.48,512.33 306.92,511 307.37,509.6 307.81,508.96 308.25,508.84 308.69,509.97 309.13,509.47 309.57,508.87 310.01,509.49 310.45,509.18 310.89,509.17 311.33,510.83 311.77,509.42 312.21,509.4 312.65,507.88 313.09,508.67 313.53,507.81 313.97,506.52 314.41,509.55 314.86,508.87 315.3,506.27 315.74,508.87 316.18,508.92 316.62,508.6 317.06,508.79 317.5,509.44 317.94,508.51 318.38,509.27 318.82,509.53 319.26,508.56 319.7,508.98 320.14,510.32 320.58,509.63 321.02,508.47 321.46,507.93 321.9,508.31 322.35,506.34 322.79,506.36 323.23,506.54 323.67,508.76 324.11,508.47 324.55,505.43 324.99,505.88 325.43,505.1 325.87,503.71 326.31,504.7 326.75,503.64 327.19,495.85 327.63,498.36 328.07,498.21 328.51,494.84 328.95,499.65 329.39,493.51 329.84,496.77 330.28,495.11 330.72,496.59 331.16,497.04 331.6,495.99 332.04,496.19 332.48,487.54 332.92,496.57 333.36,496.87 333.8,495.56 334.24,492.03 334.68,489.36 335.12,491.24 335.56,489.97 336,490.59 336.44,491.13 336.88,490.71 337.33,492.31 337.77,491.38 338.21,488.04 338.65,488.77 339.09,485.16 339.53,485.52 339.97,479.29 340.41,484.72 340.85,486.36 341.29,485.1 341.73,480.92 342.17,481.83 342.61,483.87 343.05,482.08 343.49,480.56 343.93,480.67 344.37,479.84 344.82,478.64 345.26,476.43 345.7,476.14 346.14,467.81 346.58,475.76 347.02,478.25 347.46,475.15 347.9,477.8 348.34,479.11 348.78,476.09 349.22,475.57 349.66,476.61 350.1,476.43 350.54,472.24 350.98,469.7 351.42,470.32 351.86,468.71 352.31,463.75 352.75,473.18 353.19,475.03 353.63,472.99 354.07,470.79 354.51,470.32 354.95,474.17 355.39,471.84 355.83,468.23 356.27,468.88 356.71,465.71 357.15,467.54 357.59,464.59 358.03,466.11 358.47,466.74 358.91,467.01 359.35,468.68 359.79,466.9 360.24,467.05 360.68,457.57 361.12,464.04 361.56,462.19 362,464.72 362.44,465.93 362.88,463.15 363.32,468.68 363.76,465.61 364.2,464.89 364.64,464.31 365.08,462.6 365.52,462.19 365.96,462.01 366.4,465.26 366.84,461.32 367.28,462.53 367.73,459.95 368.17,462.85 368.61,462.42 369.05,459.66 369.49,459.78 369.93,455.66 370.37,459.02 370.81,460.31 371.25,461.02 371.69,457.67 372.13,461.41 372.57,459.96 373.01,462.64 373.45,457.97 373.89,457.2 374.33,459.39 374.77,462.47 375.22,461.11 375.66,450.59 376.1,461.02 376.54,460.94 376.98,460.14 377.42,456.27 377.86,454.33 378.3,460.49 378.74,458.9 379.18,457.83 379.62,458.52 380.06,453.82 380.5,457.38 380.94,455.96 381.38,456.39 381.82,459.21 382.26,457.71 382.71,459.39 383.15,456.67 383.59,457.64 384.03,456.66 384.47,457.17 384.91,453.5 385.35,446.8 385.79,453.02 386.23,457.25 386.67,461.87 387.11,458.1 387.55,453.53 387.99,451.56 388.43,452.38 388.87,451.69 389.31,457.57 389.75,452.79 390.2,449.43 390.64,453.42 391.08,454.95 391.52,452.13 391.96,457.91 392.4,456.72 392.84,457.95 393.28,456.45 393.72,456 394.16,454.52 394.6,455.25 395.04,452.34 395.48,454.15 395.92,446.02 396.36,449.89 396.8,447.84 397.24,448.45 397.69,443.72 398.13,447.45 398.57,447.23 399.01,445.21 399.45,452.36 399.89,454.94 400.33,439.44 400.77,450.98 401.21,440.84 401.65,445.2 402.09,442.26 402.53,442.51 402.97,442.92 403.41,432.26 403.85,446.54 404.29,453.15 404.73,453.26 405.18,454.71 405.62,451.52 406.06,450.54 406.5,445.68 406.94,439.52 407.38,448.31 407.82,448.17 408.26,447.84 408.7,451.08 408.7,477.01 408.26,471.48 407.82,468.53 407.38,468.25 406.94,463.02 406.5,461.43 406.06,463.81 405.62,466.2 405.18,469.41 404.73,468.48 404.29,468.27 403.85,465.36 403.41,467.68 402.97,467.24 402.53,467.74 402.09,463.22 401.65,468.74 401.21,471.16 400.77,468.27 400.33,475.95 399.89,470.69 399.45,473.19 399.01,474.95 398.57,471.15 398.13,470.87 397.69,469.23 397.24,469.48 396.8,470.28 396.36,474.51 395.92,472.08 395.48,470.62 395.04,470.64 394.6,472.1 394.16,475.93 393.72,476.56 393.28,479.05 392.84,478.54 392.4,477.75 391.96,485.97 391.52,474.34 391.08,478.69 390.64,475.03 390.2,472.3 389.75,468.5 389.31,473.24 388.87,472.36 388.43,474.66 387.99,476.49 387.55,476.71 387.11,476.81 386.67,479.9 386.23,474.61 385.79,467.51 385.35,469.67 384.91,470.63 384.47,475.51 384.03,474.04 383.59,475.07 383.15,475.87 382.71,490.94 382.26,473.07 381.82,478.17 381.38,474.61 380.94,476.58 380.5,477.25 380.06,483.21 379.62,479.41 379.18,475.98 378.74,478.13 378.3,481.52 377.86,482.75 377.42,479.89 376.98,480.53 376.54,481.43 376.1,477.6 375.66,478.53 375.22,480.29 374.77,482.45 374.33,485.56 373.89,478.64 373.45,479.51 373.01,480.13 372.57,482.6 372.13,483.38 371.69,484.08 371.25,480.78 370.81,480.84 370.37,480.42 369.93,479.98 369.49,478.36 369.05,475.67 368.61,474.3 368.17,480.22 367.73,480.42 367.28,482.63 366.84,480.75 366.4,484.68 365.96,484.31 365.52,484.47 365.08,484.49 364.64,485.3 364.2,486.76 363.76,486.04 363.32,492 362.88,481.94 362.44,488.01 362,490.22 361.56,486.39 361.12,485.91 360.68,489.53 360.24,485.73 359.79,489.4 359.35,487.53 358.91,488.93 358.47,485.18 358.03,484.08 357.59,482.33 357.15,486.47 356.71,485.83 356.27,489.11 355.83,484.48 355.39,488.4 354.95,488.85 354.51,488.97 354.07,486.81 353.63,491.52 353.19,489.99 352.75,493.19 352.31,491.71 351.86,492.69 351.42,499.81 350.98,493.01 350.54,494.22 350.1,497.56 349.66,494.18 349.22,493.93 348.78,493.15 348.34,497.12 347.9,494 347.46,492.83 347.02,503.39 346.58,499.75 346.14,503.76 345.7,502.59 345.26,499.49 344.82,501.88 344.37,508.61 343.93,503.64 343.49,498.46 343.05,496.71 342.61,500.55 342.17,497.8 341.73,496.57 341.29,500.31 340.85,508.89 340.41,502.17 339.97,502.71 339.53,504.4 339.09,502.78 338.65,505.88 338.21,503.6 337.77,505.33 337.33,512.7 336.88,505.79 336.44,508.38 336,507.49 335.56,506.83 335.12,505.18 334.68,510.09 334.24,504.07 333.8,506.93 333.36,507.66 332.92,510.53 332.48,506.66 332.04,507.29 331.6,505.68 331.16,509.28 330.72,510.78 330.28,504.77 329.84,505.91 329.39,507.65 328.95,508.05 328.51,512.11 328.07,507.65 327.63,509.14 327.19,507.11 326.75,510.9 326.31,512.4 325.87,510.31 325.43,511.57 324.99,512.7 324.55,512.7 324.11,512.7 323.67,512.7 323.23,512.34 322.79,512.7 322.35,512.47 321.9,512.7 321.46,512.7 321.02,512.7 320.58,512.7 320.14,512.7 319.7,512.7 319.26,512.7 318.82,512.7 318.38,512.7 317.94,512.7 317.5,512.7 317.06,512.7 316.62,512.7 316.18,512.7 315.74,512.7 315.3,512.7 314.86,512.7 314.41,512.7 313.97,512.7 313.53,512.7 313.09,512.7 312.65,512.53 312.21,512.5 311.77,512.49 311.33,512.7 310.89,512.17 310.45,512.7 310.01,512.7 309.57,512.7 309.13,512.7 308.69,512.7 308.25,512.51 307.81,512.7 307.37,512.7 306.92,512.7 306.48,512.7 306.04,512.7 305.6,512.7 305.16,512.7 304.72,512.7 304.28,512.7 303.84,512.7 303.4,512.7" fill="#cdbfe2" stroke="none" stroke-width="0"/>
<polygon points="303.4,510.72 303.84,512.34 304.28,511.66 304.72,510.98 305.16,511.8 305.6,511.33 306.04,511.11 306.48,509.51 306.92,510.56 307.37,510.58 307.81,510.66 308.25,510.38 308.69,510.19 309.13,511.16 309.57,510.48 310.01,510.46 310.45,510.46 310.89,510.26 311.33,510.52 311.77,510.83 312.21,510.96 312.65,511.28 313.09,511.57 313.53,510.01 313.97,509.96 314.41,509.42 314.86,509.22 315.3,509.95 315.74,509.68 316.18,510.94 316.62,510.5 317.06,509.97 317.5,510.79 317.94,509.45 318.38,509.17 318.82,509.54 319.26,510.22 319.7,509.71 320.14,510.59 320.58,510.5 321.02,509.83 321.46,510.76 321.9,509.52 322.35,509.79 322.79,510.5 323.23,511.05 323.67,510.74 324.11,510.12 324.55,510.81 324.99,508.6 325.43,508.54 325.87,508.27 326.31,506.75 326.75,505.76 327.19,505.44 327.63,505.08 328.07,502.88 328.51,501.76 328.95,501.63 329.39,493.42 329.84,498.17 330.28,495.98 330.72,492.55 331.16,492.79 331.6,500.39 332.04,500.08 332.48,500.56 332.92,501.13 333.36,497.92 333.8,499 334.24,499.19 334.68,497.66 335.12,496.23 335.56,497.2 336,500.7 336.44,496.33 336.88,496.63 337.33,496.74 337.77,496.99 338.21,499.11 338.65,496.82 339.09,498.27 339.53,498.21 339.97,497.35 340.41,495.91 340.85,485.62 341.29,493.35 341.73,492.94 342.17,491.81 342.61,494.75 343.05,495.45 343.49,494.2 343.93,493.13 344.37,487.62 344.82,493.18 345.26,491.84 345.7,483.46 346.14,490.76 346.58,494.31 347.02,485.46 347.46,491.53 347.9,488.25 348.34,489.53 348.78,493.18 349.22,490.21 349.66,493.58 350.1,478.08 350.54,478.6 350.98,485.61 351.42,485.54 351.86,487.93 352.31,491.17 352.75,492.97 353.19,493.88 353.63,484.07 354.07,487.6 354.51,488.56 354.95,490.09 355.39,492.31 355.83,478.53 356.27,475.5 356.71,482.87 357.15,478.49 357.59,485.58 358.03,487.55 358.47,470.56 358.91,480.06 359.35,479.65 359.79,483.88 360.24,487.61 360.68,476.73 361.12,488.99 361.56,483.85 362,475.45 362.44,484.41 362.88,485.26 363.32,484.92 363.76,479.54 364.2,481.76 364.64,480.31 365.08,481.34 365.52,482.18 365.96,481.09 366.4,483.92 366.84,483.81 367.28,486.22 367.73,479.02 368.17,483.38 368.61,483.94 369.05,485.1 369.49,484.34 369.93,474.18 370.37,486.12 370.81,485.39 371.25,484.64 371.69,486.44 372.13,471.44 372.57,483.05 373.01,472.98 373.45,483.23 373.89,482.09 374.33,483.1 374.77,485.88 375.22,486.85 375.66,487.46 376.1,481.81 376.54,485.72 376.98,486.25 377.42,475.01 377.86,485.89 378.3,486.04 378.74,483.34 379.18,477.37 379.62,486.93 380.06,475.14 380.5,484.44 380.94,474.09 381.38,485 381.82,482.53 382.26,485.2 382.71,485 383.15,485.75 383.59,484.82 384.03,485.66 384.47,483.91 384.91,481.92 385.35,482.53 385.79,482.87 386.23,478.66 386.67,481.4 387.11,480.74 387.55,482.26 387.99,479.21 388.43,480.18 388.87,480.76 389.31,479.25 389.75,481.19 390.2,482.64 390.64,482.09 391.08,480.92 391.52,478.88 391.96,480.27 392.4,481.86 392.84,483.84 393.28,482.99 393.72,482.45 394.16,477.57 394.6,475.97 395.04,470.15 395.48,478.67 395.92,475.85 396.36,476.21 396.8,478.37 397.24,479.45 397.69,478.83 398.13,469.09 398.57,477.19 399.01,476.49 399.45,480.07 399.89,480.34 400.33,478 400.77,473.99 401.21,462.05 401.65,482.47 402.09,481.89 402.53,479.02 402.97,479.41 403.41,471.8 403.85,478.51 404.29,471.68 404.73,477.45 405.18,476.05 405.62,478.52 406.06,478.62 406.5,469.43 406.94,478.18 407.38,478.39 407.82,478.75 408.26,472.78 408.7,474.13 408.7,501.68 408.26,497.81 407.82,500.09 407.38,499.74 406.94,503.08 406.5,504.18 406.06,505.59 405.62,502.51 405.18,498.35 404.73,501.71 404.29,499.1 403.85,512.7 403.41,499.91 402.97,498.75 402.53,500.95 402.09,503.96 401.65,504.04 401.21,502.74 400.77,496.3 400.33,501.08 399.89,494.75 399.45,497.42 399.01,500.01 398.57,502.45 398.13,503.79 397.69,500.49 397.24,502.13 396.8,500.33 396.36,504.92 395.92,500.13 395.48,504.23 395.04,500.62 394.6,502.74 394.16,503.8 393.72,512.7 393.28,510.16 392.84,505.84 392.4,507.38 391.96,508.88 391.52,505.48 391.08,507.14 390.64,506.42 390.2,504.01 389.75,507.08 389.31,503.82 388.87,512.58 388.43,509.64 387.99,501.12 387.55,504.33 387.11,504.23 386.67,512.7 386.23,503.76 385.79,502.04 385.35,500.06 384.91,497.85 384.47,503.94 384.03,512.7 383.59,512.7 383.15,501.44 382.71,502.73 382.26,504.96 381.82,506.24 381.38,503.15 380.94,504.64 380.5,503.89 380.06,506.56 379.62,507.53 379.18,510.66 378.74,512.7 378.3,508.17 377.86,512.7 377.42,506.96 376.98,506.73 376.54,507.41 376.1,505.94 375.66,510.06 375.22,510.91 374.77,512.7 374.33,508.45 373.89,506.5 373.45,508.88 373.01,512.63 372.57,512.7 372.13,512.7 371.69,510.14 371.25,508.01 370.81,506.89 370.37,505.73 369.93,505.17 369.49,506.76 369.05,511.41 368.61,512.7 368.17,508.16 367.73,506.82 367.28,506.73 366.84,512.7 366.4,506.51 365.96,504.9 365.52,507.62 365.08,504.01 364.64,502.72 364.2,502.02 363.76,501.8 363.32,504.7 362.88,512.7 362.44,506.97 362,506.23 361.56,512.7 361.12,506.23 360.68,506.67 360.24,504.74 359.79,506.46 359.35,505.75 358.91,508.46 358.47,506.87 358.03,507.49 357.59,504.66 357.15,504.6 356.71,508.63 356.27,509.59 355.83,512.7 355.39,512.7 354.95,512.13 354.51,511.2 354.07,510.32 353.63,512.7 353.19,509.57 352.75,508.3 352.31,505.03 351.86,505.53 351.42,510.38 350.98,511.86 350.54,511.93 350.1,505.6 349.66,506.58 349.22,504.09 348.78,508.77 348.34,509.36 347.9,510.29 347.46,510.75 347.02,511.38 346.58,512.7 346.14,509.27 345.7,508.65 345.26,509.43 344.82,510.64 344.37,512.31 343.93,511.86 343.49,512.7 343.05,512.7 342.61,512.7 342.17,512.7 341.73,510.58 341.29,508.93 340.85,508.74 340.41,507.95 339.97,512.7 339.53,511.13 339.09,512.52 338.65,512.7 338.21,511.76 337.77,512.7 337.33,512.7 336.88,510.29 336.44,512.7 336,512.7 335.56,512.7 335.12,512.7 334.68,512.7 334.24,512.7 333.8,512.7 333.36,511.12 332.92,512.7 332.48,512.63 332.04,512.7 331.6,512.7 331.16,512.7 330.72,511.9 330.28,512.66 329.84,511.25 329.39,509.77 328.95,509.57 328.51,510.56 328.07,511.17 327.63,512.67 327.19,512.36 326.75,512.7 326.31,512.69 325.87,512.7 325.43,512.41 324.99,512.54 324.55,512.7 324.11,512.48 323.67,512.7 323.23,512.7 322.79,512.68 322.35,512.7 321.9,512.7 321.46,512.7 321.02,512.21 320.58,512.7 320.14,512.7 319.7,512.17 319.26,512.7 318.82,512.7 318.38,512.07 317.94,511.98 317.5,512.7 317.06,512.7 316.62,512.7 316.18,512.7 315.74,511.74 315.3,512.15 314.86,511.77 314.41,512.13 313.97,512.65 313.53,512.55 313.09,512.7 312.65,512.7 312.21,512.7 311.77,512.66 311.33,512.36 310.89,511.99 310.45,512.42 310.01,512.13 309.57,512.21 309.13,512.7 308.69,512.23 308.25,512.7 307.81,512.51 307.37,512.66 306.92,511.88 306.48,511.58 306.04,512.62 305.6,512.7 305.16,512.7 304.72,512.61 304.28,512.7 303.84,512.7 303.4,512.57" fill="#8e8e8e" stroke="none" stroke-width="0" opacity="0.85"/>
<polyline points="303.4,511.27 303.84,511.64 304.28,511.97 304.72,511.66 305.16,511.77 305.6,511.92 306.04,512.34 306.48,512.7 306.92,512.41 307.37,511.93 307.81,511.17 308.25,511 308.69,511.86 309.13,511.69 309.57,511.63 310.01,512.32 310.45,511.66 310.89,510.96 311.33,512.1 311.77,511.16 312.21,511.24 312.65,510.75 313.09,511.54 313.53,511.24 313.97,511.02 314.41,512.43 314.86,511.3 315.3,510.36 315.74,511.24 316.18,511.43 316.62,511.13 317.06,511.48 317.5,511.54 317.94,510.54 318.38,510.68 318.82,511.64 319.26,510.91 319.7,512.04 320.14,512.7 320.58,512.23 321.02,510.73 321.46,510.84 321.9,510.72 322.35,509.27 322.79,509.06 323.23,509.47 323.67,510.52 324.11,510.24 324.55,509.74 324.99,509.24 325.43,508.7 325.87,507.29 326.31,507.46 326.75,507.16 327.19,503.93 327.63,504.91 328.07,504.19 328.51,504.28 328.95,503.79 329.39,503.33 329.84,502.54 330.28,500.34 330.72,502.03 331.16,501.51 331.6,501.41 332.04,502.18 332.48,501.11 332.92,501.39 333.36,501.33 333.8,500.58 334.24,498.87 334.68,500.19 335.12,498.71 335.56,498.49 336,499.68 336.44,500.74 336.88,497.92 337.33,498.21 337.77,497.27 338.21,496.08 338.65,497.2 339.09,495 339.53,494.48 339.97,493.23 340.41,492.08 340.85,492.41 341.29,492.46 341.73,489.34 342.17,490.39 342.61,490.33 343.05,488.9 343.49,488.52 343.93,489.85 344.37,488.74 344.82,489.14 345.26,486.7 345.7,488.16 346.14,489.81 346.58,487.38 347.02,488.15 347.46,485.62 347.9,487.34 348.34,487.1 348.78,485.19 349.22,483.31 349.66,485.67 350.1,484.34 350.54,482.74 350.98,481.21 351.42,484.03 351.86,482.92 352.31,482.21 352.75,482.89 353.19,481.59 353.63,481.53 354.07,478.37 354.51,477.18 354.95,478.11 355.39,477.48 355.83,475.54 356.27,479.13 356.71,475.64 357.15,477.08 357.59,473.9 358.03,475.69 358.47,476.3 358.91,477.67 359.35,477.81 359.79,477.22 360.24,476.22 360.68,477.24 361.12,475.79 361.56,473.05 362,476.59 362.44,476.52 362.88,473.66 363.32,477.26 363.76,475.06 364.2,475.15 364.64,475.18 365.08,474.48 365.52,473.98 365.96,473.5 366.4,474.49 366.84,471.04 367.28,472.52 367.73,471.97 368.17,473.86 368.61,470.33 369.05,469.94 369.49,470.74 369.93,469.84 370.37,466.92 370.81,469.47 371.25,468.7 371.69,468.24 372.13,469.25 372.57,469.44 373.01,471.45 373.45,469.58 373.89,468.9 374.33,473.47 374.77,472.34 375.22,470.84 375.66,470.09 376.1,467.34 376.54,467.35 376.98,468.43 377.42,467.58 377.86,469.15 378.3,468.82 378.74,468.45 379.18,468.57 379.62,471.24 380.06,465.59 380.5,468.06 380.94,467.38 381.38,466.18 381.82,468.28 382.26,464.68 382.71,467.92 383.15,466.2 383.59,465.49 384.03,464.7 384.47,464.78 384.91,462.73 385.35,463.53 385.79,462.06 386.23,465.84 386.67,468.87 387.11,467.31 387.55,465.22 387.99,466.56 388.43,463.3 388.87,462.54 389.31,465.7 389.75,463.6 390.2,463.69 390.64,465.23 391.08,467.01 391.52,464.19 391.96,467.49 392.4,466.13 392.84,467.56 393.28,467.68 393.72,465.26 394.16,463.18 394.6,462.67 395.04,460.94 395.48,463.25 395.92,461.51 396.36,463.07 396.8,459.85 397.24,460.38 397.69,460.38 398.13,459.42 398.57,459.22 399.01,462.34 399.45,460.69 399.89,460.75 400.33,458.13 400.77,459.07 401.21,457.81 401.65,459.85 402.09,455.1 402.53,457.65 402.97,457.86 403.41,459.45 403.85,456.73 404.29,459.35 404.73,459.08 405.18,460.63 405.62,460.35 406.06,459.4 406.5,457.23 406.94,457.68 407.38,459.84 407.82,458.48 408.26,459.85 408.7,462.24" fill="none" stroke="#7e5db3" stroke-width="1.5" stroke-linejoin="round"/>
<polyline points="303.4,511.74 303.84,512.7 304.28,512.39 304.72,511.81 305.16,512.52 305.6,512.24 306.04,512.01 306.48,511.21 306.92,511.36 307.37,511.36 307.81,511.61 308.25,511.71 308.69,511.62 309.13,512.19 309.57,511.41 310.01,511.23 310.45,511.44 310.89,511.23 311.33,511.53 311.77,511.88 312.21,511.94 312.65,512.19 313.09,512.7 313.53,511.32 313.97,511.44 314.41,510.89 314.86,510.52 315.3,510.98 315.74,510.72 316.18,511.83 316.62,511.57 317.06,512.06 317.5,512.06 317.94,511.04 318.38,511.04 318.82,511.18 319.26,511.81 319.7,511.11 320.14,511.91 320.58,511.52 321.02,510.89 321.46,512.02 321.9,511.63 322.35,511.41 322.79,511.72 323.23,512.32 323.67,512.09 324.11,511.46 324.55,511.96 324.99,510.33 325.43,510.72 325.87,511.07 326.31,509.66 326.75,509.73 327.19,509.65 327.63,509.46 328.07,508.03 328.51,506.61 328.95,505.55 329.39,504.62 329.84,504.04 330.28,504.83 330.72,504.42 331.16,505.42 331.6,505.61 332.04,505.82 332.48,505.6 332.92,506.32 333.36,504.32 333.8,505.51 334.24,506.63 334.68,506.35 335.12,505.74 335.56,506.18 336,505.61 336.44,505.56 336.88,504.2 337.33,505.22 337.77,504.1 338.21,504.15 338.65,503.03 339.09,503.63 339.53,503.16 339.97,502.33 340.41,502.31 340.85,502.99 341.29,502.34 341.73,502.7 342.17,502.14 342.61,501.69 343.05,501.85 343.49,501.23 343.93,502.59 344.37,501.93 344.82,501.44 345.26,500.77 345.7,500.75 346.14,500.22 346.58,501.37 347.02,500.98 347.46,501.11 347.9,500.03 348.34,501.26 348.78,501.03 349.22,498.55 349.66,500.01 350.1,499.88 350.54,501.15 350.98,501.1 351.42,500.28 351.86,500.08 352.31,498.59 352.75,498.37 353.19,497.94 353.63,498.6 354.07,495.76 354.51,496.77 354.95,495.99 355.39,498.14 355.83,496.59 356.27,495.72 356.71,496.31 357.15,496.33 357.59,494.85 358.03,495.74 358.47,495.56 358.91,493.83 359.35,493.45 359.79,494.42 360.24,494.46 360.68,494.12 361.12,493.64 361.56,493.62 362,492.78 362.44,493.44 362.88,493.55 363.32,492.74 363.76,492.2 364.2,493.56 364.64,493.65 365.08,493.1 365.52,494.58 365.96,494.85 366.4,495.59 366.84,495.12 367.28,495.8 367.73,495.83 368.17,495.19 368.61,496.99 369.05,497.31 369.49,495.46 369.93,495.94 370.37,494.52 370.81,494.07 371.25,494.58 371.69,495.44 372.13,496.14 372.57,494.42 373.01,496.05 373.45,496.17 373.89,494.79 374.33,496.03 374.77,496.48 375.22,495.54 375.66,496.71 376.1,496.25 376.54,496.37 376.98,496.09 377.42,496.17 377.86,496.15 378.3,495.4 378.74,493.5 379.18,494.93 379.62,496.1 380.06,494.21 380.5,495.47 380.94,494.79 381.38,495.77 381.82,495.15 382.26,495.48 382.71,494.99 383.15,495.45 383.59,494.69 384.03,494.97 384.47,495.04 384.91,492.29 385.35,492.84 385.79,490.8 386.23,489.88 386.67,489.47 387.11,489.88 387.55,490.77 387.99,491.48 388.43,493.26 388.87,493.63 389.31,491.8 389.75,493.32 390.2,493.87 390.64,493.65 391.08,493.81 391.52,491.66 391.96,490.92 392.4,489.1 392.84,488.96 393.28,488.59 393.72,489.87 394.16,489.99 394.6,491.92 395.04,491.59 395.48,494.59 395.92,491.23 396.36,492.38 396.8,491.05 397.24,490.36 397.69,489.25 398.13,490.69 398.57,490.1 399.01,487.97 399.45,488.64 399.89,488.2 400.33,490.02 400.77,487.55 401.21,489.92 401.65,490.3 402.09,490.19 402.53,489.79 402.97,489.54 403.41,489.09 403.85,491.23 404.29,487.71 404.73,491.54 405.18,490.1 405.62,491.2 406.06,492.55 406.5,491.13 406.94,490.66 407.38,490.08 407.82,489.83 408.26,489.12 408.7,490.4" fill="none" stroke="#111" stroke-width="1.25" stroke-linejoin="round"/>
<line x1="303.4" y1="470.54" x2="408.7" y2="470.54" stroke="#e8332a" stroke-width="0.9" stroke-dasharray="1.1 1.3"/>
<line x1="303.4" y1="493.73" x2="408.7" y2="493.73" stroke="#111" stroke-width="0.9" stroke-dasharray="1.1 1.3"/>
<line x1="303.4" y1="407.3" x2="303.4" y2="513.3" stroke="#161616" stroke-width="1.2"/>
<line x1="299.4" y1="512.7" x2="303.4" y2="512.7" stroke="#161616" stroke-width="1.2"/>
<line x1="299.4" y1="491.62" x2="303.4" y2="491.62" stroke="#161616" stroke-width="1.2"/>
<line x1="299.4" y1="470.54" x2="303.4" y2="470.54" stroke="#161616" stroke-width="1.2"/>
<line x1="299.4" y1="449.46" x2="303.4" y2="449.46" stroke="#161616" stroke-width="1.2"/>
<line x1="299.4" y1="428.38" x2="303.4" y2="428.38" stroke="#161616" stroke-width="1.2"/>
<line x1="299.4" y1="407.3" x2="303.4" y2="407.3" stroke="#161616" stroke-width="1.2"/>
<line x1="302.8" y1="512.7" x2="408.7" y2="512.7" stroke="#161616" stroke-width="1.2"/>
<line x1="303.4" y1="512.7" x2="303.4" y2="516.9" stroke="#161616" stroke-width="1.2"/>
<text x="303.4" y="528.5" font-size="11.6" text-anchor="middle">0</text>
<line x1="324.46" y1="512.7" x2="324.46" y2="516.9" stroke="#161616" stroke-width="1.2"/>
<text x="324.46" y="528.5" font-size="11.6" text-anchor="middle">4</text>
<line x1="345.52" y1="512.7" x2="345.52" y2="516.9" stroke="#161616" stroke-width="1.2"/>
<text x="345.52" y="528.5" font-size="11.6" text-anchor="middle">8</text>
<line x1="366.58" y1="512.7" x2="366.58" y2="516.9" stroke="#161616" stroke-width="1.2"/>
<text x="366.58" y="528.5" font-size="11.6" text-anchor="middle">12</text>
<line x1="387.64" y1="512.7" x2="387.64" y2="516.9" stroke="#161616" stroke-width="1.2"/>
<text x="387.64" y="528.5" font-size="11.6" text-anchor="middle">16</text>
<line x1="408.7" y1="512.7" x2="408.7" y2="516.9" stroke="#161616" stroke-width="1.2"/>
<text x="408.7" y="528.5" font-size="11.6" text-anchor="middle">20</text>
<text x="356.65" y="545.4" font-size="13" text-anchor="middle">Time (hours)</text>
<line x1="305.2" y1="407.6" x2="317.4" y2="407.6" stroke="#222" stroke-width="1.2"/>
<line x1="305.2" y1="421.4" x2="317.4" y2="421.4" stroke="#8a6cbf" stroke-width="1.4"/>
<text x="323.6" y="411.6" font-size="11.5">WT (n=9)</text>
<text x="323.6" y="425.4" font-size="11.5">&#916;<tspan font-style="italic">cysE</tspan> (n=9)</text>
<line x1="413.7" y1="514.1" x2="417.6" y2="510.3" stroke="#222" stroke-width="1"/>
<line x1="415.4" y1="515.9" x2="419.5" y2="512" stroke="#222" stroke-width="1"/>
<polygon points="427.4,482.71 427.84,489.15 428.28,493.15 428.72,494.71 429.16,498.04 429.6,499.24 430.04,501.28 430.48,502.28 430.92,501.21 431.37,500.73 431.81,503.72 432.25,505.06 432.69,505.98 433.13,505.25 433.57,504.51 434.01,500.58 434.45,505.56 434.89,505.27 435.33,507.45 435.77,507.11 436.21,506.96 436.65,506.35 437.09,506.99 437.53,507.22 437.97,509.06 438.41,509.54 438.86,509.26 439.3,508.42 439.74,506.95 440.18,507.46 440.62,506.96 441.06,507.33 441.5,504.75 441.94,504.8 442.38,504.26 442.82,506.81 443.26,507.78 443.7,505.6 444.14,503.23 444.58,503.29 445.02,504.57 445.46,504.96 445.9,505.26 446.35,505.85 446.79,506.85 447.23,505.03 447.67,498.85 448.11,504.24 448.55,503.08 448.99,503.22 449.43,501.73 449.87,501.62 450.31,497.2 450.75,501.93 451.19,501.35 451.63,500.74 452.07,500.57 452.51,499.7 452.95,499.33 453.39,500.86 453.84,501.97 454.28,500.03 454.72,493.21 455.16,498.4 455.6,497.42 456.04,497.58 456.48,497.22 456.92,498.29 457.36,498.69 457.8,498.18 458.24,496.62 458.68,488.83 459.12,494.35 459.56,494.18 460,494.46 460.44,494.46 460.88,494.99 461.33,494.34 461.77,493.18 462.21,494.32 462.65,492.89 463.09,492.84 463.53,491.28 463.97,485.27 464.41,487.57 464.85,484.98 465.29,482.03 465.73,484.83 466.17,488.07 466.61,486.68 467.05,481.32 467.49,483.48 467.93,483.65 468.37,483.31 468.82,475.33 469.26,477.46 469.7,483.27 470.14,486.28 470.58,483.87 471.02,482.78 471.46,483.12 471.9,480.53 472.34,480.05 472.78,481.55 473.22,481.01 473.66,480.38 474.1,481.38 474.54,480.55 474.98,478.76 475.42,475.94 475.86,475.08 476.31,473.9 476.75,463.99 477.19,473.3 477.63,471.57 478.07,474.41 478.51,476.43 478.95,474.46 479.39,466.01 479.83,472.8 480.27,473.85 480.71,469.97 481.15,470.16 481.59,467.2 482.03,464.95 482.47,468.07 482.91,468.17 483.35,474.02 483.79,470.52 484.24,475.57 484.68,473.45 485.12,474.51 485.56,470.52 486,471.28 486.44,471.51 486.88,476.21 487.32,467.17 487.76,466.84 488.2,465.68 488.64,466.42 489.08,468.07 489.52,464.94 489.96,468.28 490.4,467.31 490.84,468.61 491.28,470.06 491.73,468.37 492.17,459.68 492.61,467.2 493.05,468.86 493.49,469.63 493.93,469.77 494.37,469.39 494.81,468.79 495.25,465.27 495.69,469.63 496.13,469.01 496.57,464.42 497.01,464.6 497.45,463.17 497.89,465.28 498.33,466.54 498.77,468.74 499.22,466.03 499.66,468.52 500.1,456.79 500.54,464.75 500.98,464.57 501.42,460.57 501.86,465.97 502.3,464.58 502.74,467.7 503.18,466.61 503.62,465.17 504.06,463.88 504.5,456.28 504.94,464.45 505.38,464.08 505.82,466.2 506.26,466.26 506.71,470.74 507.15,466.94 507.59,470.68 508.03,467.01 508.47,464.54 508.91,462.74 509.35,465.45 509.79,462.67 510.23,462.96 510.67,463.24 511.11,454.73 511.55,463.05 511.99,464.49 512.43,461.92 512.87,464.34 513.31,455.56 513.75,461.21 514.2,459.28 514.64,460.72 515.08,462.16 515.52,457.06 515.96,460.79 516.4,460.53 516.84,457.76 517.28,460.16 517.72,461.37 518.16,460.13 518.6,457.78 519.04,454.42 519.48,457.52 519.92,456.58 520.36,456.81 520.8,454.97 521.24,453.56 521.69,456.8 522.13,454.34 522.57,456.56 523.01,455.95 523.45,457.45 523.89,454.33 524.33,453.84 524.77,457.54 525.21,459.52 525.65,461.6 526.09,460.73 526.53,460.94 526.97,457.46 527.41,459.24 527.85,460.63 528.29,455.21 528.73,456.77 529.18,450.41 529.62,452.4 530.06,454.67 530.5,444.64 530.94,452.7 531.38,455.33 531.82,458.35 532.26,457.01 532.7,452.39 532.7,470.1 532.26,473.38 531.82,476.23 531.38,478.21 530.94,474.44 530.5,483.05 530.06,472.79 529.62,472.27 529.18,477.34 528.73,476.2 528.29,473.2 527.85,479.53 527.41,477.32 526.97,477.88 526.53,481.05 526.09,479.47 525.65,479.2 525.21,476.15 524.77,475.43 524.33,471.52 523.89,470.92 523.45,474.87 523.01,474.16 522.57,478.44 522.13,472.2 521.69,474.29 521.24,467.88 520.8,471.94 520.36,474.07 519.92,481.08 519.48,476.4 519.04,473.96 518.6,474.66 518.16,475.24 517.72,476.67 517.28,477.71 516.84,475.01 516.4,474.93 515.96,476.42 515.52,475.33 515.08,477.08 514.64,485.94 514.2,477.62 513.75,476.34 513.31,484.23 512.87,481.39 512.43,483.07 511.99,480.96 511.55,477.89 511.11,478.89 510.67,477.76 510.23,478.31 509.79,477.79 509.35,479.64 508.91,478.92 508.47,481.71 508.03,487.62 507.59,487.64 507.15,484.15 506.71,485.54 506.26,483.7 505.82,485.84 505.38,485.14 504.94,487.9 504.5,484.34 504.06,485.5 503.62,481.82 503.18,480.71 502.74,486.57 502.3,480.87 501.86,481.23 501.42,479.68 500.98,478.64 500.54,482.05 500.1,482.26 499.66,485.63 499.22,490.92 498.77,486.3 498.33,480.64 497.89,485.13 497.45,477.02 497.01,480.06 496.57,479.24 496.13,489.36 495.69,488.56 495.25,485.77 494.81,485.63 494.37,484.02 493.93,482.45 493.49,482.31 493.05,481.75 492.61,481.51 492.17,490.54 491.73,483.21 491.28,484.59 490.84,483.19 490.4,484.84 489.96,489.32 489.52,481.21 489.08,480.43 488.64,481.67 488.2,492.3 487.76,485.73 487.32,486.62 486.88,492.75 486.44,486.33 486,483.91 485.56,483.94 485.12,486.54 484.68,486.03 484.24,489.21 483.79,488.93 483.35,489.51 482.91,483.25 482.47,487.05 482.03,483.28 481.59,493.16 481.15,487.25 480.71,487.92 480.27,492.69 479.83,491.6 479.39,492.15 478.95,491.12 478.51,492.68 478.07,490.68 477.63,487.36 477.19,490.18 476.75,490.82 476.31,490.94 475.86,491.48 475.42,492.29 474.98,494.3 474.54,502.65 474.1,497.23 473.66,495.04 473.22,497.24 472.78,496.82 472.34,496.23 471.9,495.78 471.46,502.82 471.02,502.26 470.58,502.65 470.14,504.8 469.7,501.18 469.26,501.36 468.82,501.7 468.37,501.54 467.93,502.95 467.49,502.29 467.05,500.99 466.61,500.9 466.17,502.36 465.73,497.94 465.29,496.47 464.85,505.16 464.41,500.28 463.97,498.57 463.53,507.22 463.09,501.44 462.65,503.26 462.21,503.37 461.77,504.99 461.33,504.81 460.88,512.32 460.44,506.31 460,505.71 459.56,508.01 459.12,507.34 458.68,507.09 458.24,508.25 457.8,508.64 457.36,509.04 456.92,509.11 456.48,506.85 456.04,507.79 455.6,508.39 455.16,509.36 454.72,509.2 454.28,507.98 453.84,510.82 453.39,511.6 452.95,511.65 452.51,512.26 452.07,512.53 451.63,512.7 451.19,512.7 450.75,512.7 450.31,511.17 449.87,511 449.43,511.73 448.99,511.45 448.55,511.02 448.11,510.17 447.67,509.24 447.23,510.81 446.79,512.7 446.35,512.62 445.9,511.56 445.46,509.23 445.02,510.64 444.58,510.46 444.14,510.8 443.7,511.59 443.26,512.7 442.82,512.7 442.38,512.7 441.94,512.7 441.5,512.28 441.06,512.7 440.62,511.31 440.18,511.78 439.74,510.53 439.3,512.39 438.86,511.94 438.41,512.7 437.97,512.7 437.53,512.53 437.09,512.14 436.65,511.77 436.21,512.26 435.77,512.56 435.33,512.7 434.89,511.63 434.45,512.1 434.01,511.58 433.57,510.43 433.13,511.56 432.69,511.55 432.25,511.85 431.81,510.3 431.37,506.96 430.92,507.34 430.48,508.96 430.04,510.14 429.6,505.24 429.16,504.9 428.72,500.21 428.28,498.51 427.84,496.12 427.4,495.94" fill="#f9d0a0" stroke="none" stroke-width="0"/>
<polygon points="427.4,495.45 427.84,496.07 428.28,497.26 428.72,498.82 429.16,500.96 429.6,503.19 430.04,503.81 430.48,505.38 430.92,505.03 431.37,505.28 431.81,505.39 432.25,505.61 432.69,504.85 433.13,506.12 433.57,505.02 434.01,508.59 434.45,508.88 434.89,508.68 435.33,507.7 435.77,507.3 436.21,509.4 436.65,508.69 437.09,508.36 437.53,508.46 437.97,508.27 438.41,508.54 438.86,508.88 439.3,508.39 439.74,509.27 440.18,507.04 440.62,507.57 441.06,506.56 441.5,506.93 441.94,504.35 442.38,506.21 442.82,505.38 443.26,505.53 443.7,502.56 444.14,504.98 444.58,503.14 445.02,501.5 445.46,497.51 445.9,502.75 446.35,503.6 446.79,503.57 447.23,503.91 447.67,503.97 448.11,501.54 448.55,500.05 448.99,502.93 449.43,499.42 449.87,501.42 450.31,501.28 450.75,500.32 451.19,499.26 451.63,499.33 452.07,498.97 452.51,497.97 452.95,497.45 453.39,498.73 453.84,491.65 454.28,495.33 454.72,494.22 455.16,493.94 455.6,499.13 456.04,497.58 456.48,496.34 456.92,495.33 457.36,497.69 457.8,499.07 458.24,498.41 458.68,495.94 459.12,493.86 459.56,493.24 460,493.16 460.44,493.09 460.88,494.07 461.33,491.67 461.77,493.86 462.21,490.64 462.65,492.53 463.09,492.11 463.53,492.55 463.97,493 464.41,493.75 464.85,493.77 465.29,493.44 465.73,491.67 466.17,490.79 466.61,490.89 467.05,494.24 467.49,493.31 467.93,491.24 468.37,485.47 468.82,478.69 469.26,481.94 469.7,487.07 470.14,489.56 470.58,490.8 471.02,491.34 471.46,490.08 471.9,488.82 472.34,489.77 472.78,491.27 473.22,492.1 473.66,490.93 474.1,485.39 474.54,482.25 474.98,489.92 475.42,487.27 475.86,489.12 476.31,487.19 476.75,487.15 477.19,487.68 477.63,487.56 478.07,488.85 478.51,487.67 478.95,486.04 479.39,485.08 479.83,483.5 480.27,484.7 480.71,484.9 481.15,487.21 481.59,487.07 482.03,487.27 482.47,486.8 482.91,487.83 483.35,487.6 483.79,486.58 484.24,483.67 484.68,486.43 485.12,484.31 485.56,487.51 486,490.41 486.44,489.05 486.88,486.29 487.32,485.67 487.76,479.03 488.2,486.63 488.64,487.97 489.08,487.18 489.52,485.61 489.96,487.65 490.4,490.42 490.84,487.15 491.28,491.75 491.73,480.56 492.17,485.61 492.61,485.62 493.05,488.09 493.49,488.37 493.93,490.22 494.37,482.83 494.81,487.92 495.25,480.67 495.69,485.56 496.13,475.84 496.57,485.85 497.01,484.65 497.45,487.52 497.89,486.44 498.33,484.56 498.77,485.49 499.22,486.35 499.66,483.33 500.1,484.82 500.54,486.23 500.98,487.13 501.42,486.3 501.86,486.75 502.3,485.79 502.74,483.42 503.18,485.64 503.62,487.74 504.06,488.32 504.5,485.85 504.94,486.51 505.38,484.92 505.82,485.83 506.26,487 506.71,486.21 507.15,485.95 507.59,489.04 508.03,484.92 508.47,487.24 508.91,485.77 509.35,487.93 509.79,485.34 510.23,481.64 510.67,480.49 511.11,476.5 511.55,486.46 511.99,487.36 512.43,486.69 512.87,477.35 513.31,481.03 513.75,484.08 514.2,482.86 514.64,483.98 515.08,486.85 515.52,479.14 515.96,488.29 516.4,486.84 516.84,487.17 517.28,482.97 517.72,484.83 518.16,484.3 518.6,487.81 519.04,487.38 519.48,486.18 519.92,486.11 520.36,484.82 520.8,479.08 521.24,483.54 521.69,485.31 522.13,486.29 522.57,485.05 523.01,483.01 523.45,483.15 523.89,481.69 524.33,485.18 524.77,473.88 525.21,485.43 525.65,483.3 526.09,480.85 526.53,484.79 526.97,477.25 527.41,490.33 527.85,481.76 528.29,489.39 528.73,484.96 529.18,487.39 529.62,481.35 530.06,485.93 530.5,485.41 530.94,485.56 531.38,487.36 531.82,486.85 532.26,486.43 532.7,478.65 532.7,501.78 532.26,504.25 531.82,506.01 531.38,503.03 530.94,502.84 530.5,502.65 530.06,503.49 529.62,502.76 529.18,507.17 528.73,503.85 528.29,504.97 527.85,502.78 527.41,504.11 526.97,501.92 526.53,511.41 526.09,499.71 525.65,501.78 525.21,500.91 524.77,503.06 524.33,504.26 523.89,500.85 523.45,499.85 523.01,498.21 522.57,501.74 522.13,502.15 521.69,503.45 521.24,507.52 520.8,502.61 520.36,499.98 519.92,507.31 519.48,501.27 519.04,504.08 518.6,505.02 518.16,502.71 517.72,503.7 517.28,501.87 516.84,502.82 516.4,504.04 515.96,500.94 515.52,501.19 515.08,502.4 514.64,500.75 514.2,499.99 513.75,510.74 513.31,501.95 512.87,506.5 512.43,505.22 511.99,505.39 511.55,512.7 511.11,504.77 510.67,504.67 510.23,500.46 509.79,502.17 509.35,504.42 508.91,504.35 508.47,501.31 508.03,498.08 507.59,498.9 507.15,501.08 506.71,501.96 506.26,502.03 505.82,496.83 505.38,497.08 504.94,499.84 504.5,501.33 504.06,503.58 503.62,504.56 503.18,506.76 502.74,505.22 502.3,503.08 501.86,502.77 501.42,502.13 500.98,501.57 500.54,502.55 500.1,508.17 499.66,501.23 499.22,503.51 498.77,503.86 498.33,502.42 497.89,501.9 497.45,503.13 497.01,499.71 496.57,502.03 496.13,499.86 495.69,502.19 495.25,502.45 494.81,503.92 494.37,502.64 493.93,505.67 493.49,501.64 493.05,502.35 492.61,508.51 492.17,503.19 491.73,505.24 491.28,504.11 490.84,500.8 490.4,509.49 489.96,506.02 489.52,502.23 489.08,503.28 488.64,502.95 488.2,501.12 487.76,501.3 487.32,501.4 486.88,501.98 486.44,500.73 486,500.46 485.56,497 485.12,496.38 484.68,499.69 484.24,497.83 483.79,502.04 483.35,501.64 482.91,501.31 482.47,508.92 482.03,501.89 481.59,504.14 481.15,503.6 480.71,502.49 480.27,500.25 479.83,500.15 479.39,507.85 478.95,504.01 478.51,503.81 478.07,502.72 477.63,506.21 477.19,501.16 476.75,500.29 476.31,500.69 475.86,503.97 475.42,501.95 474.98,505.33 474.54,504.56 474.1,503.21 473.66,501.83 473.22,499.06 472.78,499.97 472.34,499.71 471.9,507.02 471.46,501.41 471.02,501.43 470.58,504.05 470.14,501.96 469.7,499.68 469.26,499.08 468.82,499.22 468.37,501.29 467.93,502.18 467.49,506.71 467.05,504.24 466.61,503.66 466.17,505.52 465.73,503.33 465.29,504.68 464.85,503.25 464.41,512.62 463.97,505.37 463.53,512.7 463.09,506.13 462.65,505.1 462.21,502.7 461.77,505.25 461.33,507.98 460.88,507.4 460.44,509.34 460,508.5 459.56,509.08 459.12,507.97 458.68,508.21 458.24,506.64 457.8,506.35 457.36,506.95 456.92,512.7 456.48,510.05 456.04,510.55 455.6,509.69 455.16,509.98 454.72,505.84 454.28,506.11 453.84,508.66 453.39,510.02 452.95,509.1 452.51,509.58 452.07,509.06 451.63,508.34 451.19,507.07 450.75,508.25 450.31,510.2 449.87,509 449.43,509.38 448.99,509.87 448.55,510.9 448.11,511.68 447.67,510.73 447.23,510.59 446.79,510.16 446.35,511.17 445.9,512.7 445.46,510.34 445.02,511.74 444.58,512.7 444.14,512.7 443.7,512.7 443.26,512.7 442.82,512.35 442.38,512.62 441.94,512.55 441.5,512.55 441.06,512.7 440.62,512.7 440.18,512.23 439.74,512.7 439.3,512.7 438.86,512.28 438.41,512.42 437.97,512.48 437.53,512.22 437.09,511.97 436.65,512.01 436.21,512.7 435.77,512.54 435.33,512.4 434.89,512.3 434.45,512.61 434.01,512.7 433.57,512.7 433.13,512.7 432.69,512.34 432.25,511.44 431.81,510.34 431.37,510.79 430.92,511 430.48,509.94 430.04,509.51 429.6,508.74 429.16,507.21 428.72,505.13 428.28,502.95 427.84,501.5 427.4,500.5" fill="#8e8e8e" stroke="none" stroke-width="0" opacity="0.85"/>
<polyline points="427.4,487.49 427.84,492.89 428.28,496.14 428.72,497.59 429.16,501.77 429.6,502.21 430.04,504.08 430.48,504.92 430.92,504.51 431.37,504.59 431.81,506.57 432.25,507.89 432.69,507.74 433.13,508.42 433.57,507.27 434.01,507.79 434.45,508.6 434.89,508.17 435.33,509.26 435.77,508.94 436.21,509.5 436.65,509.76 437.09,510.28 437.53,510.1 437.97,510.82 438.41,511.08 438.86,510.22 439.3,510.2 439.74,508.92 440.18,509.39 440.62,508.71 441.06,509.67 441.5,508.3 441.94,510.57 442.38,509.71 442.82,509.36 443.26,509.92 443.7,508.92 444.14,507.61 444.58,508.12 445.02,508.74 445.46,508.11 445.9,508.19 446.35,508.72 446.79,509.94 447.23,508.02 447.67,506.91 448.11,507.64 448.55,507.4 448.99,507.72 449.43,507.43 449.87,506.9 450.31,506.29 450.75,506.31 451.19,506.68 451.63,506.59 452.07,507.39 452.51,506.34 452.95,505.93 453.39,505.8 453.84,505.45 454.28,503.5 454.72,503.89 455.16,503.33 455.6,503.16 456.04,503.35 456.48,503.28 456.92,503.6 457.36,503.57 457.8,502.99 458.24,502.5 458.68,501.42 459.12,501.34 459.56,501.09 460,500.37 460.44,499.16 460.88,499.6 461.33,498.63 461.77,498.18 462.21,498.59 462.65,496.92 463.09,496.95 463.53,495.13 463.97,494.07 464.41,494.02 464.85,493.12 465.29,491.57 465.73,492.8 466.17,495.66 466.61,492.83 467.05,491.98 467.49,492.18 467.93,493.34 468.37,494 468.82,494.97 469.26,493.61 469.7,492.25 470.14,494.14 470.58,491.55 471.02,490.33 471.46,492.45 471.9,488.08 472.34,489.22 472.78,489.94 473.22,489.32 473.66,487.55 474.1,485.94 474.54,486.32 474.98,484.95 475.42,484.25 475.86,484.8 476.31,483.78 476.75,483.38 477.19,481.82 477.63,479.32 478.07,481.09 478.51,482.42 478.95,482.23 479.39,482.8 479.83,482.04 480.27,482.29 480.71,479.33 481.15,479.8 481.59,478.16 482.03,476.22 482.47,478.83 482.91,476.27 483.35,480.8 483.79,480.44 484.24,481.25 484.68,480.16 485.12,482.31 485.56,480.29 486,478.76 486.44,478.85 486.88,483.06 487.32,477.44 487.76,475.73 488.2,473.21 488.64,472.86 489.08,474.91 489.52,474.14 489.96,476.43 490.4,475.24 490.84,474.25 491.28,475.68 491.73,474.01 492.17,473.62 492.61,473.48 493.05,474.62 493.49,473.62 493.93,473.69 494.37,474.34 494.81,475.08 495.25,473.6 495.69,476.92 496.13,476.09 496.57,472.29 497.01,473.92 497.45,472.51 497.89,472.59 498.33,474.26 498.77,476.35 499.22,475.47 499.66,477.93 500.1,476.49 500.54,475.52 500.98,473.94 501.42,474 501.86,473.83 502.3,472.03 502.74,474.21 503.18,473.24 503.62,474.33 504.06,474.75 504.5,474.58 504.94,477.04 505.38,476.38 505.82,476.37 506.26,475.61 506.71,477.88 507.15,475.3 507.59,477.42 508.03,476.62 508.47,473.91 508.91,473.04 509.35,474.51 509.79,472.94 510.23,471.45 510.67,470.61 511.11,472.02 511.55,471 511.99,471.23 512.43,470.17 512.87,470.61 513.31,469.77 513.75,467.97 514.2,468.58 514.64,468.68 515.08,468.94 515.52,467.5 515.96,467.89 516.4,467.47 516.84,466.21 517.28,468.27 517.72,468.09 518.16,465.61 518.6,464.92 519.04,463.95 519.48,467.02 519.92,465.75 520.36,465.84 520.8,465.18 521.24,462.44 521.69,465.56 522.13,462.44 522.57,465.31 523.01,464.78 523.45,466.37 523.89,463.84 524.33,463.26 524.77,466.59 525.21,467.53 525.65,469.17 526.09,470.79 526.53,472.81 526.97,470.04 527.41,469.92 527.85,470.9 528.29,464.49 528.73,466.67 529.18,466.07 529.62,462.13 530.06,462.7 530.5,464.29 530.94,465.68 531.38,465.81 531.82,467.06 532.26,463.94 532.7,463.67" fill="none" stroke="#f7941d" stroke-width="1.4" stroke-linejoin="round"/>
<polyline points="427.4,497.3 427.84,498.36 428.28,499.72 428.72,501.76 429.16,503.95 429.6,505.82 430.04,507.24 430.48,507.5 430.92,507.27 431.37,508.22 431.81,507.97 432.25,509.22 432.69,510.37 433.13,509.89 433.57,510.54 434.01,510.8 434.45,510.44 434.89,510.18 435.33,509.44 435.77,510.13 436.21,511.26 436.65,510.88 437.09,510.71 437.53,510.61 437.97,510.32 438.41,510.69 438.86,510.63 439.3,510.61 439.74,511.21 440.18,510.31 440.62,510.06 441.06,510.23 441.5,509.68 441.94,509.7 442.38,509.36 442.82,509.17 443.26,509.44 443.7,509.27 444.14,509.21 444.58,509.66 445.02,508.49 445.46,507.27 445.9,506.74 446.35,506.91 446.79,506.76 447.23,507.27 447.67,507.65 448.11,508.08 448.55,507.24 448.99,507.12 449.43,506.81 449.87,506.7 450.31,506.37 450.75,505.74 451.19,504.37 451.63,504.42 452.07,504.52 452.51,504.13 452.95,504.09 453.39,504.52 453.84,504.65 454.28,502.7 454.72,502.33 455.16,504.42 455.6,503.74 456.04,503.84 456.48,503.6 456.92,503.14 457.36,503.11 457.8,502.59 458.24,502.63 458.68,502.09 459.12,500.95 459.56,500.3 460,500.38 460.44,500.44 460.88,499.91 461.33,501 461.77,500.15 462.21,497.33 462.65,499.27 463.09,498.12 463.53,498.39 463.97,498.71 464.41,498.35 464.85,497.98 465.29,497.62 465.73,498.01 466.17,499.77 466.61,498.3 467.05,499.01 467.49,497.31 467.93,497.63 468.37,496.31 468.82,494.95 469.26,493.86 469.7,494.1 470.14,494.7 470.58,495.71 471.02,494.46 471.46,495.7 471.9,496.04 472.34,496.42 472.78,496.11 473.22,495.43 473.66,496.19 474.1,495.44 474.54,496.36 474.98,496.8 475.42,495.07 475.86,496.66 476.31,495.8 476.75,495.54 477.19,495.78 477.63,495.25 478.07,495.1 478.51,495.33 478.95,494.39 479.39,493.99 479.83,493.14 480.27,493.52 480.71,493.84 481.15,494.35 481.59,494.17 482.03,493.46 482.47,492.22 482.91,492.66 483.35,492.71 483.79,492.76 484.24,491.77 484.68,493.9 485.12,491.46 485.56,491.28 486,494.41 486.44,494.15 486.88,493.91 487.32,493.97 487.76,493.47 488.2,493.37 488.64,494.75 489.08,493.55 489.52,492.3 489.96,495.91 490.4,498.08 490.84,493.08 491.28,495.93 491.73,495.27 492.17,494.67 492.61,493.94 493.05,496.62 493.49,495.29 493.93,496.93 494.37,494.81 494.81,493.93 495.25,495.23 495.69,494.77 496.13,495.04 496.57,495.62 497.01,494.03 497.45,495.78 497.89,494.35 498.33,492.83 498.77,493.94 499.22,495.92 499.66,493.26 500.1,494.14 500.54,494.27 500.98,494.56 501.42,495.26 501.86,496.29 502.3,496.39 502.74,496.86 503.18,499.17 503.62,496.03 504.06,496.39 504.5,493.97 504.94,495.46 505.38,494.36 505.82,495.28 506.26,497.02 506.71,495.55 507.15,494.15 507.59,494.29 508.03,492.42 508.47,494 508.91,494.63 509.35,494.63 509.79,494.7 510.23,493.69 510.67,494.23 511.11,495.19 511.55,495.49 511.99,496.15 512.43,496.11 512.87,495.98 513.31,493.18 513.75,495.79 514.2,492.59 514.64,491.69 515.08,494.17 515.52,492.69 515.96,494.31 516.4,493.92 516.84,494.51 517.28,493.14 517.72,493.22 518.16,492.1 518.6,494.51 519.04,494.3 519.48,494.41 519.92,493.15 520.36,493.1 520.8,494.18 521.24,492.97 521.69,493.29 522.13,492.3 522.57,491.8 523.01,492.24 523.45,494.26 523.89,493.8 524.33,493.83 524.77,492.87 525.21,493.25 525.65,495.06 526.09,492.91 526.53,495.53 526.97,494.36 527.41,495.72 527.85,494.26 528.29,496.46 528.73,496.21 529.18,495.98 529.62,495.2 530.06,495.74 530.5,494.92 530.94,494.01 531.38,493.18 531.82,494.44 532.26,494.64 532.7,492.42" fill="none" stroke="#111" stroke-width="1.25" stroke-linejoin="round"/>
<line x1="427.4" y1="470.54" x2="532.7" y2="470.54" stroke="#e8332a" stroke-width="0.9" stroke-dasharray="1.1 1.3"/>
<line x1="427.4" y1="493.73" x2="532.7" y2="493.73" stroke="#111" stroke-width="0.9" stroke-dasharray="1.1 1.3"/>
<line x1="427.4" y1="407.3" x2="427.4" y2="513.3" stroke="#161616" stroke-width="1.2"/>
<line x1="423.4" y1="512.7" x2="427.4" y2="512.7" stroke="#161616" stroke-width="1.2"/>
<line x1="423.4" y1="491.62" x2="427.4" y2="491.62" stroke="#161616" stroke-width="1.2"/>
<line x1="423.4" y1="470.54" x2="427.4" y2="470.54" stroke="#161616" stroke-width="1.2"/>
<line x1="423.4" y1="449.46" x2="427.4" y2="449.46" stroke="#161616" stroke-width="1.2"/>
<line x1="423.4" y1="428.38" x2="427.4" y2="428.38" stroke="#161616" stroke-width="1.2"/>
<line x1="423.4" y1="407.3" x2="427.4" y2="407.3" stroke="#161616" stroke-width="1.2"/>
<line x1="426.8" y1="512.7" x2="532.7" y2="512.7" stroke="#161616" stroke-width="1.2"/>
<line x1="427.4" y1="512.7" x2="427.4" y2="516.9" stroke="#161616" stroke-width="1.2"/>
<text x="427.4" y="528.5" font-size="11.6" text-anchor="middle">0</text>
<line x1="448.46" y1="512.7" x2="448.46" y2="516.9" stroke="#161616" stroke-width="1.2"/>
<text x="448.46" y="528.5" font-size="11.6" text-anchor="middle">4</text>
<line x1="469.52" y1="512.7" x2="469.52" y2="516.9" stroke="#161616" stroke-width="1.2"/>
<text x="469.52" y="528.5" font-size="11.6" text-anchor="middle">8</text>
<line x1="490.58" y1="512.7" x2="490.58" y2="516.9" stroke="#161616" stroke-width="1.2"/>
<text x="490.58" y="528.5" font-size="11.6" text-anchor="middle">12</text>
<line x1="511.64" y1="512.7" x2="511.64" y2="516.9" stroke="#161616" stroke-width="1.2"/>
<text x="511.64" y="528.5" font-size="11.6" text-anchor="middle">16</text>
<line x1="532.7" y1="512.7" x2="532.7" y2="516.9" stroke="#161616" stroke-width="1.2"/>
<text x="532.7" y="528.5" font-size="11.6" text-anchor="middle">20</text>
<text x="480.65" y="545.4" font-size="13" text-anchor="middle">Time (hours)</text>
<line x1="429.2" y1="407.6" x2="441.4" y2="407.6" stroke="#222" stroke-width="1.2"/>
<line x1="429.2" y1="421.4" x2="441.4" y2="421.4" stroke="#f7a040" stroke-width="1.4"/>
<text x="447.6" y="411.6" font-size="11.5">WT (n=14)</text>
<text x="447.6" y="425.4" font-size="11.5">&#916;<tspan font-style="italic">pdxJ</tspan> (n=12)</text>
<line x1="539.7" y1="514.1" x2="543.6" y2="510.3" stroke="#222" stroke-width="1"/>
<line x1="541.4" y1="515.9" x2="545.5" y2="512" stroke="#222" stroke-width="1"/>
<polygon points="553.8,487.74 554.24,495.71 554.68,498.97 555.12,501.48 555.56,499.26 556,504.07 556.44,504.86 556.88,505.86 557.32,506.51 557.77,507.32 558.21,507.81 558.65,508.69 559.09,509.32 559.53,508.49 559.97,507.11 560.41,506.41 560.85,507.78 561.29,507.8 561.73,506.74 562.17,506.47 562.61,507.48 563.05,507.77 563.49,507.13 563.93,507.93 564.37,508.79 564.81,508.16 565.26,508.23 565.7,507.25 566.14,507.41 566.58,507.64 567.02,508.75 567.46,507.48 567.9,507.97 568.34,508.28 568.78,507.48 569.22,506.89 569.66,504.23 570.1,504.85 570.54,505.91 570.98,506.32 571.42,505.45 571.86,502.09 572.3,502.93 572.75,504.55 573.19,502.77 573.63,501.79 574.07,499.97 574.51,500.38 574.95,497.23 575.39,495.78 575.83,499.15 576.27,496.53 576.71,496.27 577.15,494.98 577.59,496.21 578.03,493.67 578.47,494.46 578.91,492.01 579.35,490.67 579.79,487.3 580.24,488.33 580.68,480.09 581.12,483.04 581.56,484.62 582,486.55 582.44,477.03 582.88,483.01 583.32,477.52 583.76,474.43 584.2,476.13 584.64,472.79 585.08,472.96 585.52,471.28 585.96,474.64 586.4,466.93 586.84,473.53 587.28,473.27 587.73,476.56 588.17,471.1 588.61,476.58 589.05,475.55 589.49,472.2 589.93,473.75 590.37,470.64 590.81,471.21 591.25,473.57 591.69,477.87 592.13,476.35 592.57,473.82 593.01,475.55 593.45,473.57 593.89,475.93 594.33,473.91 594.77,478.42 595.22,473.99 595.66,478.37 596.1,478.59 596.54,477.42 596.98,476.5 597.42,477.99 597.86,475.38 598.3,475.87 598.74,477.7 599.18,473.11 599.62,477.43 600.06,474.32 600.5,471.91 600.94,470.19 601.38,475.12 601.82,472.07 602.26,473.71 602.71,463.9 603.15,471.2 603.59,468.42 604.03,475.37 604.47,474.54 604.91,476.78 605.35,473.9 605.79,472.83 606.23,468.07 606.67,472.81 607.11,478.07 607.55,473.07 607.99,473.82 608.43,471.04 608.87,468.49 609.31,466.95 609.75,468.5 610.19,469.4 610.64,472 611.08,465.94 611.52,459.83 611.96,464.57 612.4,469.82 612.84,472.67 613.28,465.85 613.72,473.16 614.16,462.45 614.6,467.72 615.04,470.41 615.48,471.22 615.92,472.92 616.36,470.97 616.8,469.23 617.24,468.22 617.68,468.57 618.13,466.64 618.57,464.99 619.01,465.44 619.45,465.21 619.89,459.53 620.33,460.67 620.77,458.62 621.21,460.93 621.65,461.81 622.09,464.14 622.53,465.03 622.97,464.37 623.41,466.81 623.85,467.46 624.29,466.92 624.73,465.14 625.17,464.33 625.62,464.51 626.06,463.61 626.5,462.5 626.94,466.23 627.38,466.49 627.82,465.82 628.26,462.95 628.7,462.27 629.14,461.8 629.58,461.73 630.02,465.75 630.46,466.75 630.9,467.01 631.34,465.62 631.78,460.25 632.22,460.41 632.66,461.25 633.11,463.72 633.55,461.23 633.99,462.12 634.43,462.16 634.87,458.08 635.31,459.65 635.75,460.19 636.19,460.24 636.63,461.45 637.07,461.79 637.51,458.6 637.95,457.47 638.39,461.37 638.83,461.14 639.27,457.35 639.71,455.82 640.15,454.14 640.6,457.28 641.04,452.62 641.48,454.16 641.92,459.1 642.36,455.58 642.8,456.77 643.24,458.21 643.68,460.7 644.12,455.84 644.56,455.13 645,455.62 645.44,453.07 645.88,453.85 646.32,454.94 646.76,454.89 647.2,453.06 647.64,452.52 648.09,451.78 648.53,454.53 648.97,446.86 649.41,442.4 649.85,450.09 650.29,454.14 650.73,451.2 651.17,451.85 651.61,447.82 652.05,446.18 652.49,447.93 652.93,449.13 653.37,444.49 653.81,448.9 654.25,444.79 654.69,434.67 655.13,446.58 655.58,449.4 656.02,445.86 656.46,446.93 656.9,435.84 657.34,445.87 657.78,443.73 658.22,442.85 658.66,447.1 659.1,448.86 659.1,465.77 658.66,466.68 658.22,464.21 657.78,470.08 657.34,467.38 656.9,472.94 656.46,469.08 656.02,473.31 655.58,463.75 655.13,462.03 654.69,462.07 654.25,465.52 653.81,467.45 653.37,468.28 652.93,467.29 652.49,464.26 652.05,466.72 651.61,467.55 651.17,473.68 650.73,468.92 650.29,471.26 649.85,468.32 649.41,466.17 648.97,466.04 648.53,474.4 648.09,472.52 647.64,471.87 647.2,469.78 646.76,472.65 646.32,475.26 645.88,475.32 645.44,474.98 645,479.52 644.56,472.7 644.12,477.68 643.68,481.31 643.24,486.68 642.8,475.68 642.36,475.9 641.92,484.68 641.48,470.29 641.04,471.01 640.6,472.61 640.15,472.52 639.71,473.59 639.27,476.94 638.83,477.08 638.39,477.13 637.95,483.69 637.51,478.69 637.07,481.44 636.63,479.8 636.19,476.97 635.75,476.95 635.31,473.79 634.87,470.78 634.43,474.57 633.99,476.77 633.55,476.79 633.11,480.33 632.66,480.44 632.22,481.48 631.78,479.75 631.34,491.57 630.9,483.33 630.46,484.42 630.02,481.69 629.58,491.77 629.14,484.23 628.7,490.67 628.26,480.6 627.82,482.03 627.38,482.4 626.94,483.61 626.5,482.65 626.06,485.16 625.62,484.04 625.17,482.99 624.73,481.31 624.29,479.56 623.85,479.98 623.41,484.46 622.97,486.92 622.53,484.49 622.09,482.28 621.65,479.94 621.21,482.7 620.77,481.73 620.33,483.29 619.89,480.36 619.45,490.3 619.01,480.71 618.57,482.33 618.13,483.93 617.68,491.93 617.24,483.95 616.8,487.58 616.36,490.91 615.92,488.5 615.48,499.07 615.04,488.23 614.6,484.12 614.16,482.58 613.72,485.75 613.28,487.1 612.84,498.52 612.4,488.44 611.96,483.04 611.52,481.72 611.08,484.1 610.64,483.09 610.19,487.42 609.75,488.09 609.31,485.7 608.87,484.08 608.43,485.66 607.99,486.47 607.55,491.59 607.11,494.14 606.67,491.85 606.23,490.86 605.79,498.2 605.35,488.87 604.91,491.22 604.47,487.42 604.03,486.93 603.59,485.04 603.15,481.61 602.71,486.06 602.26,488.63 601.82,491.54 601.38,488.4 600.94,490.5 600.5,501.05 600.06,490.47 599.62,490.35 599.18,491.76 598.74,493.3 598.3,492.93 597.86,489.89 597.42,491.1 596.98,488.98 596.54,489.84 596.1,491.9 595.66,499.35 595.22,491.16 594.77,493.08 594.33,489.8 593.89,489.22 593.45,490.29 593.01,494.44 592.57,493.07 592.13,494.77 591.69,492.33 591.25,488.2 590.81,487 590.37,491.45 589.93,492.92 589.49,490.26 589.05,491.1 588.61,493.01 588.17,492.32 587.73,494.9 587.28,489.74 586.84,489.08 586.4,485.55 585.96,487.93 585.52,484.6 585.08,487.98 584.64,490.15 584.2,502.54 583.76,491.53 583.32,493.23 582.88,498.07 582.44,498.18 582,500.19 581.56,499.37 581.12,497.78 580.68,501.3 580.24,500.59 579.79,500.33 579.35,502.75 578.91,504.24 578.47,506.44 578.03,504.23 577.59,504.38 577.15,501.91 576.71,503.65 576.27,505.7 575.83,509.51 575.39,509.89 574.95,512.7 574.51,512.7 574.07,512.7 573.63,512.51 573.19,512.4 572.75,511.47 572.3,508.76 571.86,510.97 571.42,511.69 570.98,512.2 570.54,511.75 570.1,511.77 569.66,511.74 569.22,511.46 568.78,512.53 568.34,512.7 567.9,512.7 567.46,512.29 567.02,512.7 566.58,511.43 566.14,510.66 565.7,512.28 565.26,512.36 564.81,512.7 564.37,512.7 563.93,512.7 563.49,512.7 563.05,512.7 562.61,512.6 562.17,511.08 561.73,512.7 561.29,512.7 560.85,512.7 560.41,512.7 559.97,512.7 559.53,512.7 559.09,512.7 558.65,512.7 558.21,512.7 557.77,512.7 557.32,512.28 556.88,511.07 556.44,512.7 556,511.91 555.56,507.31 555.12,507.93 554.68,503.42 554.24,501.54 553.8,497.05" fill="#f6b9b4" stroke="none" stroke-width="0"/>
<polygon points="553.8,508.33 554.24,508.4 554.68,509.74 555.12,510.01 555.56,509.44 556,509.58 556.44,509.15 556.88,509.49 557.32,509.83 557.77,510.51 558.21,510.08 558.65,510.69 559.09,509.44 559.53,509.96 559.97,509.53 560.41,509.9 560.85,509.54 561.29,508.98 561.73,507.97 562.17,504.42 562.61,503.05 563.05,507.59 563.49,509.59 563.93,510.03 564.37,508.62 564.81,508.78 565.26,508.08 565.7,508.81 566.14,509.36 566.58,510.55 567.02,509.37 567.46,508.25 567.9,509.15 568.34,508.6 568.78,508.45 569.22,508.71 569.66,509.37 570.1,509.5 570.54,508.94 570.98,508.66 571.42,508.36 571.86,508.49 572.3,505 572.75,507.68 573.19,506.28 573.63,505.44 574.07,506.47 574.51,505.87 574.95,504.57 575.39,502.83 575.83,501.46 576.27,503.48 576.71,501.57 577.15,502.83 577.59,502 578.03,501.43 578.47,500.16 578.91,500.41 579.35,499.71 579.79,499.93 580.24,500.97 580.68,500.72 581.12,500.24 581.56,498.25 582,498.06 582.44,500.11 582.88,500.33 583.32,500.02 583.76,497.9 584.2,498.24 584.64,499.17 585.08,498.5 585.52,490.64 585.96,499.13 586.4,497.96 586.84,498.4 587.28,498.68 587.73,491.68 588.17,497.8 588.61,497.5 589.05,494.6 589.49,495.42 589.93,494.9 590.37,497.49 590.81,494.53 591.25,498.79 591.69,489.82 592.13,496.87 592.57,496.11 593.01,496.91 593.45,498.63 593.89,496.49 594.33,494.98 594.77,494.92 595.22,498.15 595.66,496.12 596.1,495.23 596.54,495.26 596.98,496.59 597.42,495.85 597.86,492.59 598.3,493.49 598.74,494.14 599.18,494.43 599.62,494.05 600.06,495.16 600.5,494.87 600.94,495.52 601.38,494.6 601.82,495.69 602.26,494.29 602.71,493.87 603.15,495.54 603.59,495.65 604.03,496.07 604.47,494.57 604.91,494.41 605.35,491.1 605.79,491.54 606.23,491.19 606.67,492.28 607.11,489.9 607.55,491.5 607.99,492.91 608.43,495.41 608.87,496.49 609.31,485.69 609.75,491.34 610.19,489.99 610.64,493.19 611.08,483.06 611.52,494.75 611.96,486.95 612.4,491.64 612.84,490.24 613.28,493.43 613.72,493.43 614.16,491.5 614.6,490.85 615.04,493.64 615.48,494.18 615.92,487.41 616.36,491.52 616.8,493.42 617.24,494.73 617.68,495.73 618.13,493.66 618.57,492.1 619.01,488.77 619.45,494.37 619.89,491.74 620.33,492.04 620.77,491.68 621.21,494.56 621.65,491.23 622.09,493.12 622.53,494.88 622.97,491.89 623.41,492.69 623.85,493.71 624.29,494.16 624.73,491.59 625.17,491.2 625.62,484.09 626.06,489.73 626.5,491.03 626.94,485.85 627.38,494.59 627.82,487.77 628.26,493.98 628.7,491 629.14,492.62 629.58,491.86 630.02,491.56 630.46,493.55 630.9,495.7 631.34,487.58 631.78,485.12 632.22,490.88 632.66,490.77 633.11,486.89 633.55,490.32 633.99,490.21 634.43,491.01 634.87,492.69 635.31,491.31 635.75,490.05 636.19,489.91 636.63,486.45 637.07,488.7 637.51,487.56 637.95,488.77 638.39,477.81 638.83,485.68 639.27,479.9 639.71,486.34 640.15,487.68 640.6,479.82 641.04,490.69 641.48,480.56 641.92,489.72 642.36,490.88 642.8,489.14 643.24,486.22 643.68,486.7 644.12,488.92 644.56,490.51 645,489.37 645.44,489.26 645.88,489.08 646.32,479.88 646.76,488.46 647.2,486.49 647.64,485.25 648.09,488.17 648.53,489.53 648.97,489.73 649.41,488.5 649.85,489.04 650.29,486.02 650.73,488.77 651.17,489.35 651.61,488.92 652.05,484.5 652.49,487.29 652.93,486.64 653.37,480.95 653.81,480.81 654.25,478.24 654.69,479.79 655.13,478.23 655.58,472.27 656.02,479.47 656.46,480.59 656.9,482.62 657.34,486.48 657.78,484.76 658.22,484.38 658.66,482.1 659.1,484.39 659.1,506.32 658.66,503.98 658.22,504.66 657.78,502.86 657.34,503.56 656.9,499.19 656.46,498.52 656.02,497.56 655.58,498.52 655.13,500.25 654.69,499.76 654.25,500.74 653.81,504 653.37,501.13 652.93,503.86 652.49,501.35 652.05,504.35 651.61,501.86 651.17,501.74 650.73,501.71 650.29,503.01 649.85,512.7 649.41,506.2 648.97,504.98 648.53,505.93 648.09,505.44 647.64,507.37 647.2,506.44 646.76,504.95 646.32,502.01 645.88,501.93 645.44,504.97 645,505.22 644.56,508.09 644.12,506.62 643.68,507.31 643.24,503.95 642.8,508.02 642.36,507.33 641.92,507.97 641.48,506.13 641.04,511.97 640.6,509.48 640.15,507.11 639.71,512.7 639.27,499.59 638.83,503.26 638.39,502.54 637.95,504.8 637.51,503.85 637.07,505.45 636.63,503.78 636.19,504.09 635.75,504.3 635.31,506.96 634.87,506.83 634.43,512.7 633.99,512.7 633.55,505.96 633.11,511.21 632.66,509.83 632.22,510.13 631.78,506.1 631.34,507.57 630.9,506.96 630.46,508.41 630.02,506.16 629.58,503.97 629.14,506.65 628.7,507.66 628.26,510.52 627.82,508.57 627.38,505.63 626.94,505.53 626.5,504.42 626.06,504.93 625.62,505.87 625.17,503.51 624.73,502.98 624.29,503.6 623.85,505.38 623.41,505.45 622.97,506.92 622.53,506.79 622.09,512.2 621.65,504.28 621.21,506.14 620.77,512.7 620.33,505.22 619.89,506.06 619.45,507.91 619.01,506.73 618.57,508.27 618.13,507.84 617.68,512.7 617.24,510.69 616.8,511.46 616.36,511.03 615.92,512.7 615.48,512.7 615.04,507.49 614.6,510.29 614.16,506.76 613.72,508.2 613.28,508.84 612.84,509.68 612.4,510.77 611.96,511.08 611.52,510.57 611.08,512.7 610.64,512.7 610.19,509.24 609.75,507.82 609.31,508.41 608.87,511.45 608.43,510.56 607.99,507.98 607.55,507.85 607.11,506.97 606.67,510.47 606.23,508.33 605.79,508.36 605.35,507.37 604.91,510.2 604.47,511.74 604.03,508.03 603.59,507.56 603.15,507.78 602.71,508.96 602.26,510.97 601.82,512.7 601.38,512.58 600.94,510.38 600.5,508.46 600.06,510.23 599.62,508.61 599.18,507.15 598.74,506.2 598.3,512.7 597.86,509.05 597.42,506.37 596.98,508.43 596.54,510.85 596.1,512.7 595.66,512.7 595.22,512.02 594.77,507.49 594.33,509.76 593.89,509.76 593.45,512.7 593.01,511.04 592.57,510.83 592.13,510.98 591.69,509.83 591.25,510.88 590.81,508.52 590.37,508.52 589.93,507.85 589.49,509.59 589.05,511.26 588.61,512.7 588.17,509.54 587.73,509.17 587.28,511.09 586.84,512.7 586.4,509.2 585.96,511.3 585.52,511.09 585.08,512.43 584.64,511.18 584.2,512.1 583.76,509.62 583.32,510.1 582.88,510.65 582.44,511.09 582,512.06 581.56,509.48 581.12,511.53 580.68,510.46 580.24,512.7 579.79,510.53 579.35,512.18 578.91,511.42 578.47,510.55 578.03,512.41 577.59,512.7 577.15,512.7 576.71,511.52 576.27,512.5 575.83,509.84 575.39,508.27 574.95,510.21 574.51,511.03 574.07,512.7 573.63,512.55 573.19,512.7 572.75,512.7 572.3,512.57 571.86,512.7 571.42,512.7 570.98,512.3 570.54,512.7 570.1,512.59 569.66,512.7 569.22,512.17 568.78,512.7 568.34,511.69 567.9,511.94 567.46,512.45 567.02,512.7 566.58,512.7 566.14,512.2 565.7,511.85 565.26,512.7 564.81,512.11 564.37,511.12 563.93,512.13 563.49,511.7 563.05,510.07 562.61,505.67 562.17,507.09 561.73,512.61 561.29,511.33 560.85,511.35 560.41,512.7 559.97,511.61 559.53,512.33 559.09,512.7 558.65,512.7 558.21,512.66 557.77,512.7 557.32,512.16 556.88,512.05 556.44,511.92 556,512.19 555.56,511.88 555.12,511.62 554.68,511.59 554.24,510.1 553.8,510.19" fill="#8e8e8e" stroke="none" stroke-width="0" opacity="0.85"/>
<polyline points="553.8,493.2 554.24,498.28 554.68,500.38 555.12,503.68 555.56,504.7 556,506.91 556.44,507.3 556.88,508.44 557.32,509.5 557.77,510.75 558.21,510.45 558.65,510.83 559.09,511.54 559.53,511.23 559.97,510.18 560.41,509.15 560.85,510.16 561.29,510.75 561.73,509.94 562.17,509.57 562.61,510.39 563.05,510.86 563.49,510.14 563.93,510.74 564.37,511.35 564.81,510.39 565.26,510.29 565.7,509.43 566.14,509.58 566.58,509.68 567.02,510.35 567.46,509.68 567.9,510.42 568.34,511.24 568.78,510.32 569.22,509.85 569.66,509.9 570.1,509.38 570.54,508.74 570.98,509.26 571.42,508.88 571.86,508.5 572.3,506.48 572.75,508.4 573.19,507.65 573.63,507.5 574.07,506.63 574.51,506.09 574.95,506.23 575.39,503.58 575.83,503.5 576.27,500.87 576.71,500.07 577.15,498.51 577.59,499.18 578.03,497.98 578.47,498.5 578.91,497.58 579.35,495.68 579.79,492.7 580.24,494.02 580.68,493.94 581.12,492.52 581.56,492.19 582,492.05 582.44,489.63 582.88,489.14 583.32,485.39 583.76,483.46 584.2,486.18 584.64,482.09 585.08,481.15 585.52,478.1 585.96,482.27 586.4,479.76 586.84,481.61 587.28,482.17 587.73,486.42 588.17,482.84 588.61,483.82 589.05,482.47 589.49,481.8 589.93,483.26 590.37,482.1 590.81,480.31 591.25,481.99 591.69,484.43 592.13,483.01 592.57,481.42 593.01,483.74 593.45,481.55 593.89,482.99 594.33,482.07 594.77,485.85 595.22,481.62 595.66,483.01 596.1,482.65 596.54,482 596.98,482.04 597.42,484.03 597.86,481.91 598.3,483.07 598.74,483.81 599.18,483.62 599.62,483.43 600.06,483.53 600.5,484.72 600.94,481.8 601.38,480.92 601.82,481.75 602.26,482.44 602.71,480.4 603.15,479.64 603.59,480.84 604.03,480.97 604.47,478.93 604.91,481.35 605.35,479.82 605.79,480.57 606.23,480.41 606.67,479.84 607.11,482.64 607.55,483.57 607.99,479.75 608.43,478.66 608.87,477.38 609.31,476.59 609.75,479.52 610.19,479.89 610.64,478.46 611.08,480.22 611.52,476.05 611.96,475.77 612.4,478.52 612.84,477.56 613.28,478.03 613.72,478.49 614.16,477.41 614.6,475.7 615.04,479.72 615.48,479.13 615.92,478.72 616.36,479.27 616.8,476.73 617.24,477.34 617.68,475.86 618.13,475.28 618.57,473.59 619.01,473.26 619.45,474.16 619.89,471.39 620.33,472.47 620.77,469.73 621.21,472.4 621.65,472.43 622.09,474.55 622.53,474.77 622.97,475.49 623.41,475.65 623.85,473.3 624.29,473.03 624.73,472.75 625.17,473.52 625.62,474.73 626.06,475.55 626.5,473.04 626.94,473.77 627.38,472.42 627.82,472.53 628.26,470.62 628.7,471.21 629.14,472.01 629.58,472.16 630.02,474.72 630.46,474.71 630.9,474.75 631.34,474.26 631.78,469.84 632.22,469.77 632.66,468.79 633.11,469.1 633.55,467.46 633.99,468.84 634.43,469.73 634.87,466.09 635.31,468.68 635.75,469.05 636.19,469.4 636.63,470.39 637.07,472.31 637.51,469.39 637.95,468.08 638.39,469.83 638.83,468.51 639.27,467.5 639.71,466.64 640.15,465.35 640.6,465.82 641.04,463.14 641.48,463.52 641.92,467.61 642.36,467.19 642.8,464.55 643.24,467.45 643.68,469.47 644.12,467.86 644.56,464.27 645,465.28 645.44,464.51 645.88,464.63 646.32,464.93 646.76,464.18 647.2,463.53 647.64,463.03 648.09,462.34 648.53,463.36 648.97,458.23 649.41,458.95 649.85,459.78 650.29,459.98 650.73,456.12 651.17,460.44 651.61,458.27 652.05,458.41 652.49,457.83 652.93,458.92 653.37,459.75 653.81,458.29 654.25,455 654.69,453.64 655.13,453.18 655.58,455.07 656.02,453.69 656.46,455.81 656.9,457.7 657.34,457.16 657.78,456.27 658.22,455.4 658.66,458.54 659.1,458.25" fill="none" stroke="#f0716c" stroke-width="1.3" stroke-linejoin="round"/>
<polyline points="553.8,509.15 554.24,509.19 554.68,510.64 555.12,510.81 555.56,510.83 556,511.01 556.44,510.81 556.88,510.91 557.32,511.31 557.77,511.79 558.21,511.31 558.65,511.73 559.09,510.7 559.53,511.02 559.97,510.28 560.41,510.62 560.85,510.2 561.29,510.15 561.73,510.12 562.17,505.89 562.61,504.42 563.05,508.74 563.49,510.52 563.93,510.96 564.37,509.85 564.81,510.49 565.26,510.61 565.7,510.6 566.14,510.74 566.58,511.62 567.02,510.35 567.46,510.1 567.9,510.91 568.34,510.23 568.78,510.51 569.22,510.43 569.66,511.03 570.1,510.73 570.54,510.51 570.98,510.78 571.42,511.07 571.86,511 572.3,510.46 572.75,510.18 573.19,509.22 573.63,507.99 574.07,509.04 574.51,508.15 574.95,507.87 575.39,506.29 575.83,506.1 576.27,507.79 576.71,506.81 577.15,507.72 577.59,507.73 578.03,506.97 578.47,505.99 578.91,506.32 579.35,505.88 579.79,505.44 580.24,505.77 580.68,505.66 581.12,505.93 581.56,505.2 582,504.55 582.44,503.55 582.88,503.24 583.32,503.03 583.76,504.64 584.2,504.55 584.64,504.98 585.08,503.7 585.52,504.08 585.96,504.66 586.4,502.94 586.84,504.05 587.28,504.89 587.73,504 588.17,502.95 588.61,502.21 589.05,502.4 589.49,502.46 589.93,502.95 590.37,503.94 590.81,503.45 591.25,503.86 591.69,503.65 592.13,504.91 592.57,504.5 593.01,503.89 593.45,504.16 593.89,503.06 594.33,504.94 594.77,504.23 595.22,504.73 595.66,504.18 596.1,504.35 596.54,503.54 596.98,503.41 597.42,502.26 597.86,501.68 598.3,501.81 598.74,502.59 599.18,501.27 599.62,502.54 600.06,503.1 600.5,502.45 600.94,502.8 601.38,503.21 601.82,503.47 602.26,502.47 602.71,501.82 603.15,502.99 603.59,502.19 604.03,501.96 604.47,502.12 604.91,502.39 605.35,501.68 605.79,501.48 606.23,501.7 606.67,501.29 607.11,500.47 607.55,501.63 607.99,501.43 608.43,502.06 608.87,502.14 609.31,501.25 609.75,500.48 610.19,501.41 610.64,502.75 611.08,500.5 611.52,501.94 611.96,503.18 612.4,502.41 612.84,500.48 613.28,500.68 613.72,500.81 614.16,500.84 614.6,500.6 615.04,501.07 615.48,500.32 615.92,500.13 616.36,499.93 616.8,500.05 617.24,499.91 617.68,501.02 618.13,501.18 618.57,500.19 619.01,499.59 619.45,501 619.89,499.77 620.33,499.09 620.77,498.08 621.21,499.53 621.65,498.01 622.09,498.31 622.53,499.43 622.97,498.42 623.41,497.1 623.85,498.51 624.29,499.16 624.73,498.12 625.17,498.57 625.62,498.73 626.06,498.87 626.5,498.83 626.94,498.83 627.38,499.35 627.82,498.76 628.26,500.7 628.7,498.19 629.14,500.14 629.58,498.31 630.02,498.77 630.46,499.21 630.9,499.75 631.34,500.37 631.78,498.26 632.22,498.68 632.66,498.19 633.11,497.57 633.55,497.57 633.99,497.37 634.43,498.22 634.87,498.99 635.31,497.32 635.75,497.95 636.19,497.13 636.63,496.48 637.07,496.7 637.51,496.13 637.95,497.25 638.39,495.11 638.83,496.15 639.27,495.22 639.71,497.37 640.15,496.82 640.6,497.29 641.04,498.25 641.48,497.49 641.92,497.41 642.36,499.16 642.8,498.32 643.24,497.17 643.68,498.16 644.12,497.88 644.56,497.43 645,496.76 645.44,496.29 645.88,495.82 646.32,496.08 646.76,496.3 647.2,495.12 647.64,495.41 648.09,495.54 648.53,497.54 648.97,495.94 649.41,496.65 649.85,497.55 650.29,495.91 650.73,496.89 651.17,495.48 651.61,495.03 652.05,496.35 652.49,494.76 652.93,494.62 653.37,491.94 653.81,492.61 654.25,490.86 654.69,489.68 655.13,489.25 655.58,489.73 656.02,489.1 656.46,488.72 656.9,489.45 657.34,492.58 657.78,492.87 658.22,493.51 658.66,494.52 659.1,495.13" fill="none" stroke="#111" stroke-width="1.25" stroke-linejoin="round"/>
<line x1="553.8" y1="470.54" x2="659.1" y2="470.54" stroke="#e8332a" stroke-width="0.9" stroke-dasharray="1.1 1.3"/>
<line x1="553.8" y1="493.73" x2="659.1" y2="493.73" stroke="#111" stroke-width="0.9" stroke-dasharray="1.1 1.3"/>
<line x1="553.8" y1="407.3" x2="553.8" y2="513.3" stroke="#161616" stroke-width="1.2"/>
<line x1="549.8" y1="512.7" x2="553.8" y2="512.7" stroke="#161616" stroke-width="1.2"/>
<line x1="549.8" y1="491.62" x2="553.8" y2="491.62" stroke="#161616" stroke-width="1.2"/>
<line x1="549.8" y1="470.54" x2="553.8" y2="470.54" stroke="#161616" stroke-width="1.2"/>
<line x1="549.8" y1="449.46" x2="553.8" y2="449.46" stroke="#161616" stroke-width="1.2"/>
<line x1="549.8" y1="428.38" x2="553.8" y2="428.38" stroke="#161616" stroke-width="1.2"/>
<line x1="549.8" y1="407.3" x2="553.8" y2="407.3" stroke="#161616" stroke-width="1.2"/>
<line x1="553.2" y1="512.7" x2="659.1" y2="512.7" stroke="#161616" stroke-width="1.2"/>
<line x1="553.8" y1="512.7" x2="553.8" y2="516.9" stroke="#161616" stroke-width="1.2"/>
<text x="553.8" y="528.5" font-size="11.6" text-anchor="middle">0</text>
<line x1="574.86" y1="512.7" x2="574.86" y2="516.9" stroke="#161616" stroke-width="1.2"/>
<text x="574.86" y="528.5" font-size="11.6" text-anchor="middle">4</text>
<line x1="595.92" y1="512.7" x2="595.92" y2="516.9" stroke="#161616" stroke-width="1.2"/>
<text x="595.92" y="528.5" font-size="11.6" text-anchor="middle">8</text>
<line x1="616.98" y1="512.7" x2="616.98" y2="516.9" stroke="#161616" stroke-width="1.2"/>
<text x="616.98" y="528.5" font-size="11.6" text-anchor="middle">12</text>
<line x1="638.04" y1="512.7" x2="638.04" y2="516.9" stroke="#161616" stroke-width="1.2"/>
<text x="638.04" y="528.5" font-size="11.6" text-anchor="middle">16</text>
<line x1="659.1" y1="512.7" x2="659.1" y2="516.9" stroke="#161616" stroke-width="1.2"/>
<text x="659.1" y="528.5" font-size="11.6" text-anchor="middle">20</text>
<text x="607.05" y="545.4" font-size="13" text-anchor="middle">Time (hours)</text>
<line x1="555.6" y1="407.6" x2="567.8" y2="407.6" stroke="#222" stroke-width="1.2"/>
<line x1="555.6" y1="421.4" x2="567.8" y2="421.4" stroke="#f28a86" stroke-width="1.4"/>
<text x="574" y="411.6" font-size="11.5">WT (n=13)</text>
<text x="574" y="425.4" font-size="11.5">&#916;<tspan font-style="italic">fepB</tspan> (n=14)</text>
<text x="23.1" y="456.6" font-size="12.9" text-anchor="middle" transform="rotate(-90 23.1 456.6)">Aversion ratio</text>
<line x1="73.6" y1="375.6" x2="73.6" y2="384.4" stroke="#111" stroke-width="1.3"/>
<polygon points="73.6,391.1 68.35,381.6 73.6,383.6 78.85,381.6" fill="#111" stroke="none" stroke-width="0"/>
<line x1="217.7" y1="375.6" x2="217.7" y2="384.4" stroke="#111" stroke-width="1.3"/>
<polygon points="217.7,391.1 212.45,381.6 217.7,383.6 222.95,381.6" fill="#111" stroke="none" stroke-width="0"/>
<line x1="342.9" y1="375.6" x2="342.9" y2="384.4" stroke="#111" stroke-width="1.3"/>
<polygon points="342.9,391.1 337.65,381.6 342.9,383.6 348.15,381.6" fill="#111" stroke="none" stroke-width="0"/>
<line x1="467.2" y1="375.6" x2="467.2" y2="384.4" stroke="#111" stroke-width="1.3"/>
<polygon points="467.2,391.1 461.95,381.6 467.2,383.6 472.45,381.6" fill="#111" stroke="none" stroke-width="0"/>
<line x1="589.4" y1="375.6" x2="589.4" y2="384.4" stroke="#111" stroke-width="1.3"/>
<polygon points="589.4,391.1 584.15,381.6 589.4,383.6 594.65,381.6" fill="#111" stroke="none" stroke-width="0"/>
<line x1="86.55" y1="661.57" x2="86.55" y2="689.87" stroke="#555" stroke-width="0.6"/>
<rect x="80.55" y="681.48" width="12" height="5.24" fill="#8e8e8e" stroke="#333" stroke-width="0.6"/>
<line x1="80.55" y1="684.63" x2="92.55" y2="684.63" stroke="#333" stroke-width="0.6"/>
<path d="M84.35,689.87 h4.4 M86.55,688.37 v3" fill="none" stroke="#222" stroke-width="0.8"/>
<path d="M84.35,661.57 h4.4 M86.55,660.07 v3" fill="none" stroke="#222" stroke-width="0.8"/>
<circle cx="86.55" cy="688.3" r="1.2" fill="none" stroke="#222" stroke-width="0.7"/>
<circle cx="82.2" cy="686.72" r="1.2" fill="none" stroke="#222" stroke-width="0.7"/>
<circle cx="85.1" cy="686.57" r="1.2" fill="none" stroke="#222" stroke-width="0.7"/>
<circle cx="88" cy="686.05" r="1.2" fill="none" stroke="#222" stroke-width="0.7"/>
<circle cx="90.9" cy="685.95" r="1.2" fill="none" stroke="#222" stroke-width="0.7"/>
<circle cx="83.65" cy="684.63" r="1.2" fill="none" stroke="#222" stroke-width="0.7"/>
<circle cx="86.55" cy="684.11" r="1.2" fill="none" stroke="#222" stroke-width="0.7"/>
<circle cx="89.45" cy="683.57" r="1.2" fill="none" stroke="#222" stroke-width="0.7"/>
<circle cx="86.55" cy="681.48" r="1.2" fill="none" stroke="#222" stroke-width="0.7"/>
<line x1="104.65" y1="612.32" x2="104.65" y2="652.14" stroke="#555" stroke-width="0.6"/>
<rect x="98.65" y="619.65" width="12" height="16.77" fill="#129a4b" stroke="#333" stroke-width="0.6"/>
<line x1="98.65" y1="630.13" x2="110.65" y2="630.13" stroke="#333" stroke-width="0.6"/>
<path d="M102.45,652.14 h4.4 M104.65,650.64 v3" fill="none" stroke="#222" stroke-width="0.8"/>
<path d="M102.45,612.32 h4.4 M104.65,610.82 v3" fill="none" stroke="#222" stroke-width="0.8"/>
<circle cx="104.65" cy="644.28" r="1.2" fill="none" stroke="#222" stroke-width="0.7"/>
<circle cx="104.65" cy="636.42" r="1.2" fill="none" stroke="#222" stroke-width="0.7"/>
<circle cx="103.2" cy="635.24" r="1.2" fill="none" stroke="#222" stroke-width="0.7"/>
<circle cx="106.1" cy="634.24" r="1.2" fill="none" stroke="#222" stroke-width="0.7"/>
<circle cx="104.65" cy="630.13" r="1.2" fill="none" stroke="#222" stroke-width="0.7"/>
<circle cx="104.65" cy="625.99" r="1.2" fill="none" stroke="#222" stroke-width="0.7"/>
<circle cx="103.2" cy="620.86" r="1.2" fill="none" stroke="#222" stroke-width="0.7"/>
<circle cx="106.1" cy="620.52" r="1.2" fill="none" stroke="#222" stroke-width="0.7"/>
<circle cx="104.65" cy="619.65" r="1.2" fill="none" stroke="#222" stroke-width="0.7"/>
<line x1="74.85" y1="594.5" x2="74.85" y2="699.9" stroke="#161616" stroke-width="1.2"/>
<line x1="70.25" y1="699.3" x2="74.85" y2="699.3" stroke="#161616" stroke-width="1.2"/>
<text x="68.65" y="703.13" font-size="11.6" text-anchor="end">0.0</text>
<line x1="70.25" y1="678.34" x2="74.85" y2="678.34" stroke="#161616" stroke-width="1.2"/>
<text x="68.65" y="682.17" font-size="11.6" text-anchor="end">0.2</text>
<line x1="70.25" y1="657.38" x2="74.85" y2="657.38" stroke="#161616" stroke-width="1.2"/>
<text x="68.65" y="661.21" font-size="11.6" text-anchor="end">0.4</text>
<line x1="70.25" y1="636.42" x2="74.85" y2="636.42" stroke="#161616" stroke-width="1.2"/>
<text x="68.65" y="640.25" font-size="11.6" text-anchor="end">0.6</text>
<line x1="70.25" y1="615.46" x2="74.85" y2="615.46" stroke="#161616" stroke-width="1.2"/>
<text x="68.65" y="619.29" font-size="11.6" text-anchor="end">0.8</text>
<line x1="70.25" y1="594.5" x2="74.85" y2="594.5" stroke="#161616" stroke-width="1.2"/>
<text x="68.65" y="598.33" font-size="11.6" text-anchor="end">1.0</text>
<line x1="74.25" y1="699.3" x2="116.45" y2="699.3" stroke="#161616" stroke-width="1.2"/>
<line x1="86.55" y1="699.3" x2="86.55" y2="703.5" stroke="#161616" stroke-width="1.2"/>
<line x1="104.65" y1="699.3" x2="104.65" y2="703.5" stroke="#161616" stroke-width="1.2"/>
<polyline points="85.85,611.79 85.85,594.5 104.85,594.5 104.85,603.41" fill="none" stroke="#111" stroke-width="1.3" stroke-linejoin="round"/>
<text x="104.55" y="613.5" font-size="12.4" text-anchor="middle" stroke="#231f20" stroke-width="0.35">***</text>
<text x="30.85" y="643.4" font-size="12.9" text-anchor="middle" transform="rotate(-90 30.85 643.4)">Aversion ratio</text>
<text x="45.85" y="643.4" font-size="12.9" text-anchor="middle" transform="rotate(-90 45.85 643.4)">(16-20 hrs)</text>
<text x="88.95" y="712.6" font-size="11.4" font-style="italic" text-anchor="end" transform="rotate(-45 88.95 712.6)">WT</text>
<text x="107.45" y="712.7" font-size="11.4" text-anchor="end" transform="rotate(-45 107.45 712.7)">&#916;<tspan font-style="italic">crp</tspan></text>
<line x1="218.7" y1="670.1" x2="218.7" y2="693.16" stroke="#555" stroke-width="0.6"/>
<rect x="212.7" y="674.3" width="12" height="13.62" fill="#8e8e8e" stroke="#333" stroke-width="0.6"/>
<line x1="212.7" y1="685.82" x2="224.7" y2="685.82" stroke="#333" stroke-width="0.6"/>
<path d="M216.5,693.16 h4.4 M218.7,691.66 v3" fill="none" stroke="#222" stroke-width="0.8"/>
<path d="M216.5,670.1 h4.4 M218.7,668.6 v3" fill="none" stroke="#222" stroke-width="0.8"/>
<circle cx="218.7" cy="690.54" r="1.2" fill="none" stroke="#222" stroke-width="0.7"/>
<circle cx="218.7" cy="687.92" r="1.2" fill="none" stroke="#222" stroke-width="0.7"/>
<circle cx="214.35" cy="686.35" r="1.2" fill="none" stroke="#222" stroke-width="0.7"/>
<circle cx="217.25" cy="685.82" r="1.2" fill="none" stroke="#222" stroke-width="0.7"/>
<circle cx="220.15" cy="685.48" r="1.2" fill="none" stroke="#222" stroke-width="0.7"/>
<circle cx="223.05" cy="685.34" r="1.2" fill="none" stroke="#222" stroke-width="0.7"/>
<circle cx="215.8" cy="684.78" r="1.2" fill="none" stroke="#222" stroke-width="0.7"/>
<circle cx="218.7" cy="684.5" r="1.2" fill="none" stroke="#222" stroke-width="0.7"/>
<circle cx="221.6" cy="683.15" r="1.2" fill="none" stroke="#222" stroke-width="0.7"/>
<circle cx="218.7" cy="678.79" r="1.2" fill="none" stroke="#222" stroke-width="0.7"/>
<circle cx="218.7" cy="675.02" r="1.2" fill="none" stroke="#222" stroke-width="0.7"/>
<circle cx="218.7" cy="674.3" r="1.2" fill="none" stroke="#222" stroke-width="0.7"/>
<line x1="236.8" y1="633.42" x2="236.8" y2="661.72" stroke="#555" stroke-width="0.6"/>
<rect x="230.8" y="640.76" width="12" height="13.62" fill="#5ac4df" stroke="#333" stroke-width="0.6"/>
<line x1="230.8" y1="650.19" x2="242.8" y2="650.19" stroke="#333" stroke-width="0.6"/>
<path d="M234.6,661.72 h4.4 M236.8,660.22 v3" fill="none" stroke="#222" stroke-width="0.8"/>
<path d="M234.6,633.42 h4.4 M236.8,631.92 v3" fill="none" stroke="#222" stroke-width="0.8"/>
<circle cx="236.8" cy="658.05" r="1.2" fill="none" stroke="#222" stroke-width="0.7"/>
<circle cx="235.35" cy="654.38" r="1.2" fill="none" stroke="#222" stroke-width="0.7"/>
<circle cx="238.25" cy="654.35" r="1.2" fill="none" stroke="#222" stroke-width="0.7"/>
<circle cx="236.8" cy="652.93" r="1.2" fill="none" stroke="#222" stroke-width="0.7"/>
<circle cx="232.45" cy="650.87" r="1.2" fill="none" stroke="#222" stroke-width="0.7"/>
<circle cx="235.35" cy="650.86" r="1.2" fill="none" stroke="#222" stroke-width="0.7"/>
<circle cx="238.25" cy="650.19" r="1.2" fill="none" stroke="#222" stroke-width="0.7"/>
<circle cx="241.15" cy="648.7" r="1.2" fill="none" stroke="#222" stroke-width="0.7"/>
<circle cx="233.9" cy="648.2" r="1.2" fill="none" stroke="#222" stroke-width="0.7"/>
<circle cx="236.8" cy="648.01" r="1.2" fill="none" stroke="#222" stroke-width="0.7"/>
<circle cx="239.7" cy="647.01" r="1.2" fill="none" stroke="#222" stroke-width="0.7"/>
<circle cx="233.9" cy="642.69" r="1.2" fill="none" stroke="#222" stroke-width="0.7"/>
<circle cx="236.8" cy="642.17" r="1.2" fill="none" stroke="#222" stroke-width="0.7"/>
<circle cx="239.7" cy="641.75" r="1.2" fill="none" stroke="#222" stroke-width="0.7"/>
<circle cx="236.8" cy="640.76" r="1.2" fill="none" stroke="#222" stroke-width="0.7"/>
<line x1="207" y1="593.6" x2="207" y2="699" stroke="#161616" stroke-width="1.2"/>
<line x1="202.4" y1="698.4" x2="207" y2="698.4" stroke="#161616" stroke-width="1.2"/>
<text x="200.8" y="702.23" font-size="11.6" text-anchor="end">0.0</text>
<line x1="202.4" y1="677.44" x2="207" y2="677.44" stroke="#161616" stroke-width="1.2"/>
<text x="200.8" y="681.27" font-size="11.6" text-anchor="end">0.2</text>
<line x1="202.4" y1="656.48" x2="207" y2="656.48" stroke="#161616" stroke-width="1.2"/>
<text x="200.8" y="660.31" font-size="11.6" text-anchor="end">0.4</text>
<line x1="202.4" y1="635.52" x2="207" y2="635.52" stroke="#161616" stroke-width="1.2"/>
<text x="200.8" y="639.35" font-size="11.6" text-anchor="end">0.6</text>
<line x1="202.4" y1="614.56" x2="207" y2="614.56" stroke="#161616" stroke-width="1.2"/>
<text x="200.8" y="618.39" font-size="11.6" text-anchor="end">0.8</text>
<line x1="202.4" y1="593.6" x2="207" y2="593.6" stroke="#161616" stroke-width="1.2"/>
<text x="200.8" y="597.43" font-size="11.6" text-anchor="end">1.0</text>
<line x1="206.4" y1="698.4" x2="248.6" y2="698.4" stroke="#161616" stroke-width="1.2"/>
<line x1="218.7" y1="698.4" x2="218.7" y2="702.6" stroke="#161616" stroke-width="1.2"/>
<line x1="236.8" y1="698.4" x2="236.8" y2="702.6" stroke="#161616" stroke-width="1.2"/>
<polyline points="218,610.89 218,593.6 237,593.6 237,602.51" fill="none" stroke="#111" stroke-width="1.3" stroke-linejoin="round"/>
<text x="236.7" y="612.6" font-size="12.4" text-anchor="middle" stroke="#231f20" stroke-width="0.35">***</text>
<text x="163" y="642.5" font-size="12.9" text-anchor="middle" transform="rotate(-90 163 642.5)">Aversion ratio</text>
<text x="178" y="642.5" font-size="12.9" text-anchor="middle" transform="rotate(-90 178 642.5)">(16-20 hrs)</text>
<text x="221.1" y="711.7" font-size="11.4" font-style="italic" text-anchor="end" transform="rotate(-45 221.1 711.7)">WT</text>
<text x="239.6" y="711.8" font-size="11.4" text-anchor="end" transform="rotate(-45 239.6 711.8)">&#916;<tspan font-style="italic">wzxE</tspan></text>
<line x1="345.3" y1="655.4" x2="345.3" y2="694.02" stroke="#555" stroke-width="0.6"/>
<rect x="339.3" y="668.97" width="12" height="13.57" fill="#8e8e8e" stroke="#333" stroke-width="0.6"/>
<line x1="339.3" y1="676.28" x2="351.3" y2="676.28" stroke="#333" stroke-width="0.6"/>
<path d="M343.1,694.02 h4.4 M345.3,692.52 v3" fill="none" stroke="#222" stroke-width="0.8"/>
<path d="M343.1,655.4 h4.4 M345.3,653.9 v3" fill="none" stroke="#222" stroke-width="0.8"/>
<circle cx="345.3" cy="688.28" r="1.2" fill="none" stroke="#222" stroke-width="0.7"/>
<circle cx="345.3" cy="682.54" r="1.2" fill="none" stroke="#222" stroke-width="0.7"/>
<circle cx="345.3" cy="681.49" r="1.2" fill="none" stroke="#222" stroke-width="0.7"/>
<circle cx="345.3" cy="678.99" r="1.2" fill="none" stroke="#222" stroke-width="0.7"/>
<circle cx="345.3" cy="676.28" r="1.2" fill="none" stroke="#222" stroke-width="0.7"/>
<circle cx="342.4" cy="671.53" r="1.2" fill="none" stroke="#222" stroke-width="0.7"/>
<circle cx="345.3" cy="670.93" r="1.2" fill="none" stroke="#222" stroke-width="0.7"/>
<circle cx="348.2" cy="670.8" r="1.2" fill="none" stroke="#222" stroke-width="0.7"/>
<circle cx="345.3" cy="668.97" r="1.2" fill="none" stroke="#222" stroke-width="0.7"/>
<line x1="363.4" y1="640.78" x2="363.4" y2="658.53" stroke="#555" stroke-width="0.6"/>
<rect x="357.4" y="641.82" width="12" height="10.44" fill="#7c53ae" stroke="#333" stroke-width="0.6"/>
<line x1="357.4" y1="646" x2="369.4" y2="646" stroke="#333" stroke-width="0.6"/>
<path d="M361.2,658.53 h4.4 M363.4,657.03 v3" fill="none" stroke="#222" stroke-width="0.8"/>
<path d="M361.2,640.78 h4.4 M363.4,639.28 v3" fill="none" stroke="#222" stroke-width="0.8"/>
<circle cx="363.4" cy="655.4" r="1.2" fill="none" stroke="#222" stroke-width="0.7"/>
<circle cx="361.95" cy="652.26" r="1.2" fill="none" stroke="#222" stroke-width="0.7"/>
<circle cx="364.85" cy="652.24" r="1.2" fill="none" stroke="#222" stroke-width="0.7"/>
<circle cx="361.95" cy="646" r="1.2" fill="none" stroke="#222" stroke-width="0.7"/>
<circle cx="364.85" cy="645.86" r="1.2" fill="none" stroke="#222" stroke-width="0.7"/>
<circle cx="359.05" cy="642.76" r="1.2" fill="none" stroke="#222" stroke-width="0.7"/>
<circle cx="361.95" cy="642.38" r="1.2" fill="none" stroke="#222" stroke-width="0.7"/>
<circle cx="364.85" cy="641.98" r="1.2" fill="none" stroke="#222" stroke-width="0.7"/>
<circle cx="367.75" cy="641.82" r="1.2" fill="none" stroke="#222" stroke-width="0.7"/>
<line x1="333.6" y1="593.8" x2="333.6" y2="698.8" stroke="#161616" stroke-width="1.2"/>
<line x1="329" y1="698.2" x2="333.6" y2="698.2" stroke="#161616" stroke-width="1.2"/>
<text x="327.4" y="702.03" font-size="11.6" text-anchor="end">0.0</text>
<line x1="329" y1="677.32" x2="333.6" y2="677.32" stroke="#161616" stroke-width="1.2"/>
<text x="327.4" y="681.15" font-size="11.6" text-anchor="end">0.2</text>
<line x1="329" y1="656.44" x2="333.6" y2="656.44" stroke="#161616" stroke-width="1.2"/>
<text x="327.4" y="660.27" font-size="11.6" text-anchor="end">0.4</text>
<line x1="329" y1="635.56" x2="333.6" y2="635.56" stroke="#161616" stroke-width="1.2"/>
<text x="327.4" y="639.39" font-size="11.6" text-anchor="end">0.6</text>
<line x1="329" y1="614.68" x2="333.6" y2="614.68" stroke="#161616" stroke-width="1.2"/>
<text x="327.4" y="618.51" font-size="11.6" text-anchor="end">0.8</text>
<line x1="329" y1="593.8" x2="333.6" y2="593.8" stroke="#161616" stroke-width="1.2"/>
<text x="327.4" y="597.63" font-size="11.6" text-anchor="end">1.0</text>
<line x1="333" y1="698.2" x2="375.2" y2="698.2" stroke="#161616" stroke-width="1.2"/>
<line x1="345.3" y1="698.2" x2="345.3" y2="702.4" stroke="#161616" stroke-width="1.2"/>
<line x1="363.4" y1="698.2" x2="363.4" y2="702.4" stroke="#161616" stroke-width="1.2"/>
<polyline points="344.6,611.03 344.6,593.8 363.6,593.8 363.6,602.67" fill="none" stroke="#111" stroke-width="1.3" stroke-linejoin="round"/>
<text x="363.3" y="612.8" font-size="12.4" text-anchor="middle" stroke="#231f20" stroke-width="0.35">***</text>
<text x="289.6" y="642.5" font-size="12.9" text-anchor="middle" transform="rotate(-90 289.6 642.5)">Aversion ratio</text>
<text x="304.6" y="642.5" font-size="12.9" text-anchor="middle" transform="rotate(-90 304.6 642.5)">(16-20 hrs)</text>
<text x="347.7" y="711.5" font-size="11.4" font-style="italic" text-anchor="end" transform="rotate(-45 347.7 711.5)">WT</text>
<text x="366.2" y="711.6" font-size="11.4" text-anchor="end" transform="rotate(-45 366.2 711.6)">&#916;<tspan font-style="italic">cysE</tspan></text>
<line x1="471.3" y1="659.86" x2="471.3" y2="696.51" stroke="#555" stroke-width="0.6"/>
<rect x="465.3" y="673.47" width="12" height="13.61" fill="#8e8e8e" stroke="#333" stroke-width="0.6"/>
<line x1="465.3" y1="684.99" x2="477.3" y2="684.99" stroke="#333" stroke-width="0.6"/>
<path d="M469.1,696.51 h4.4 M471.3,695.01 v3" fill="none" stroke="#222" stroke-width="0.8"/>
<path d="M469.1,659.86 h4.4 M471.3,658.36 v3" fill="none" stroke="#222" stroke-width="0.8"/>
<circle cx="471.3" cy="691.79" r="1.2" fill="none" stroke="#222" stroke-width="0.7"/>
<circle cx="471.3" cy="687.08" r="1.2" fill="none" stroke="#222" stroke-width="0.7"/>
<circle cx="471.3" cy="684.99" r="1.2" fill="none" stroke="#222" stroke-width="0.7"/>
<circle cx="469.85" cy="682.17" r="1.2" fill="none" stroke="#222" stroke-width="0.7"/>
<circle cx="472.75" cy="680.72" r="1.2" fill="none" stroke="#222" stroke-width="0.7"/>
<circle cx="465.5" cy="679.62" r="1.2" fill="none" stroke="#222" stroke-width="0.7"/>
<circle cx="468.4" cy="679.29" r="1.2" fill="none" stroke="#222" stroke-width="0.7"/>
<circle cx="471.3" cy="678.35" r="1.2" fill="none" stroke="#222" stroke-width="0.7"/>
<circle cx="474.2" cy="677.52" r="1.2" fill="none" stroke="#222" stroke-width="0.7"/>
<circle cx="477.1" cy="677.33" r="1.2" fill="none" stroke="#222" stroke-width="0.7"/>
<circle cx="468.4" cy="676.71" r="1.2" fill="none" stroke="#222" stroke-width="0.7"/>
<circle cx="471.3" cy="675.77" r="1.2" fill="none" stroke="#222" stroke-width="0.7"/>
<circle cx="474.2" cy="675.38" r="1.2" fill="none" stroke="#222" stroke-width="0.7"/>
<circle cx="471.3" cy="673.47" r="1.2" fill="none" stroke="#222" stroke-width="0.7"/>
<line x1="489.4" y1="633.69" x2="489.4" y2="671.38" stroke="#555" stroke-width="0.6"/>
<rect x="483.4" y="645.2" width="12" height="17.8" fill="#f7941d" stroke="#333" stroke-width="0.6"/>
<line x1="483.4" y1="653.58" x2="495.4" y2="653.58" stroke="#333" stroke-width="0.6"/>
<path d="M487.2,671.38 h4.4 M489.4,669.88 v3" fill="none" stroke="#222" stroke-width="0.8"/>
<path d="M487.2,633.69 h4.4 M489.4,632.19 v3" fill="none" stroke="#222" stroke-width="0.8"/>
<circle cx="489.4" cy="667.19" r="1.2" fill="none" stroke="#222" stroke-width="0.7"/>
<circle cx="487.95" cy="663" r="1.2" fill="none" stroke="#222" stroke-width="0.7"/>
<circle cx="490.85" cy="661.87" r="1.2" fill="none" stroke="#222" stroke-width="0.7"/>
<circle cx="489.4" cy="658.93" r="1.2" fill="none" stroke="#222" stroke-width="0.7"/>
<circle cx="487.95" cy="655.9" r="1.2" fill="none" stroke="#222" stroke-width="0.7"/>
<circle cx="490.85" cy="653.97" r="1.2" fill="none" stroke="#222" stroke-width="0.7"/>
<circle cx="486.5" cy="653.58" r="1.2" fill="none" stroke="#222" stroke-width="0.7"/>
<circle cx="489.4" cy="651.49" r="1.2" fill="none" stroke="#222" stroke-width="0.7"/>
<circle cx="492.3" cy="651.43" r="1.2" fill="none" stroke="#222" stroke-width="0.7"/>
<circle cx="487.95" cy="649.9" r="1.2" fill="none" stroke="#222" stroke-width="0.7"/>
<circle cx="490.85" cy="649.72" r="1.2" fill="none" stroke="#222" stroke-width="0.7"/>
<circle cx="489.4" cy="645.2" r="1.2" fill="none" stroke="#222" stroke-width="0.7"/>
<line x1="459.6" y1="593.9" x2="459.6" y2="699.2" stroke="#161616" stroke-width="1.2"/>
<line x1="455" y1="698.6" x2="459.6" y2="698.6" stroke="#161616" stroke-width="1.2"/>
<text x="453.4" y="702.43" font-size="11.6" text-anchor="end">0.0</text>
<line x1="455" y1="677.66" x2="459.6" y2="677.66" stroke="#161616" stroke-width="1.2"/>
<text x="453.4" y="681.49" font-size="11.6" text-anchor="end">0.2</text>
<line x1="455" y1="656.72" x2="459.6" y2="656.72" stroke="#161616" stroke-width="1.2"/>
<text x="453.4" y="660.55" font-size="11.6" text-anchor="end">0.4</text>
<line x1="455" y1="635.78" x2="459.6" y2="635.78" stroke="#161616" stroke-width="1.2"/>
<text x="453.4" y="639.61" font-size="11.6" text-anchor="end">0.6</text>
<line x1="455" y1="614.84" x2="459.6" y2="614.84" stroke="#161616" stroke-width="1.2"/>
<text x="453.4" y="618.67" font-size="11.6" text-anchor="end">0.8</text>
<line x1="455" y1="593.9" x2="459.6" y2="593.9" stroke="#161616" stroke-width="1.2"/>
<text x="453.4" y="597.73" font-size="11.6" text-anchor="end">1.0</text>
<line x1="459" y1="698.6" x2="501.2" y2="698.6" stroke="#161616" stroke-width="1.2"/>
<line x1="471.3" y1="698.6" x2="471.3" y2="702.8" stroke="#161616" stroke-width="1.2"/>
<line x1="489.4" y1="698.6" x2="489.4" y2="702.8" stroke="#161616" stroke-width="1.2"/>
<polyline points="470.6,611.18 470.6,593.9 489.6,593.9 489.6,602.8" fill="none" stroke="#111" stroke-width="1.3" stroke-linejoin="round"/>
<text x="489.3" y="612.9" font-size="12.4" text-anchor="middle" stroke="#231f20" stroke-width="0.35">***</text>
<text x="415.6" y="642.75" font-size="12.9" text-anchor="middle" transform="rotate(-90 415.6 642.75)">Aversion ratio</text>
<text x="430.6" y="642.75" font-size="12.9" text-anchor="middle" transform="rotate(-90 430.6 642.75)">(16-20 hrs)</text>
<text x="473.7" y="711.9" font-size="11.4" font-style="italic" text-anchor="end" transform="rotate(-45 473.7 711.9)">WT</text>
<text x="492.2" y="712" font-size="11.4" text-anchor="end" transform="rotate(-45 492.2 712)">&#916;<tspan font-style="italic">pdxJ</tspan></text>
<line x1="593" y1="663.78" x2="593" y2="698.2" stroke="#555" stroke-width="0.6"/>
<rect x="587" y="675.25" width="12" height="17.73" fill="#8e8e8e" stroke="#333" stroke-width="0.6"/>
<line x1="587" y1="686.73" x2="599" y2="686.73" stroke="#333" stroke-width="0.6"/>
<path d="M590.8,698.2 h4.4 M593,696.7 v3" fill="none" stroke="#222" stroke-width="0.8"/>
<path d="M590.8,663.78 h4.4 M593,662.28 v3" fill="none" stroke="#222" stroke-width="0.8"/>
<circle cx="593" cy="695.59" r="1.2" fill="none" stroke="#222" stroke-width="0.7"/>
<circle cx="593" cy="692.99" r="1.2" fill="none" stroke="#222" stroke-width="0.7"/>
<circle cx="591.55" cy="692.19" r="1.2" fill="none" stroke="#222" stroke-width="0.7"/>
<circle cx="594.45" cy="690.39" r="1.2" fill="none" stroke="#222" stroke-width="0.7"/>
<circle cx="590.1" cy="686.88" r="1.2" fill="none" stroke="#222" stroke-width="0.7"/>
<circle cx="593" cy="686.86" r="1.2" fill="none" stroke="#222" stroke-width="0.7"/>
<circle cx="595.9" cy="686.73" r="1.2" fill="none" stroke="#222" stroke-width="0.7"/>
<circle cx="591.55" cy="684.88" r="1.2" fill="none" stroke="#222" stroke-width="0.7"/>
<circle cx="594.45" cy="682.85" r="1.2" fill="none" stroke="#222" stroke-width="0.7"/>
<circle cx="591.55" cy="680.7" r="1.2" fill="none" stroke="#222" stroke-width="0.7"/>
<circle cx="594.45" cy="680.24" r="1.2" fill="none" stroke="#222" stroke-width="0.7"/>
<circle cx="593" cy="678.52" r="1.2" fill="none" stroke="#222" stroke-width="0.7"/>
<circle cx="593" cy="675.25" r="1.2" fill="none" stroke="#222" stroke-width="0.7"/>
<line x1="611.1" y1="631.45" x2="611.1" y2="664.82" stroke="#555" stroke-width="0.6"/>
<rect x="605.1" y="636.66" width="12" height="20.86" fill="#f4736f" stroke="#333" stroke-width="0.6"/>
<line x1="605.1" y1="648.14" x2="617.1" y2="648.14" stroke="#333" stroke-width="0.6"/>
<path d="M608.9,664.82 h4.4 M611.1,663.32 v3" fill="none" stroke="#222" stroke-width="0.8"/>
<path d="M608.9,631.45 h4.4 M611.1,629.95 v3" fill="none" stroke="#222" stroke-width="0.8"/>
<circle cx="611.1" cy="661.17" r="1.2" fill="none" stroke="#222" stroke-width="0.7"/>
<circle cx="609.65" cy="657.52" r="1.2" fill="none" stroke="#222" stroke-width="0.7"/>
<circle cx="612.55" cy="657.14" r="1.2" fill="none" stroke="#222" stroke-width="0.7"/>
<circle cx="611.1" cy="652.69" r="1.2" fill="none" stroke="#222" stroke-width="0.7"/>
<circle cx="611.1" cy="649.39" r="1.2" fill="none" stroke="#222" stroke-width="0.7"/>
<circle cx="609.65" cy="648.14" r="1.2" fill="none" stroke="#222" stroke-width="0.7"/>
<circle cx="612.55" cy="646.38" r="1.2" fill="none" stroke="#222" stroke-width="0.7"/>
<circle cx="611.1" cy="645.94" r="1.2" fill="none" stroke="#222" stroke-width="0.7"/>
<circle cx="611.1" cy="641.22" r="1.2" fill="none" stroke="#222" stroke-width="0.7"/>
<circle cx="609.65" cy="639.92" r="1.2" fill="none" stroke="#222" stroke-width="0.7"/>
<circle cx="612.55" cy="638.97" r="1.2" fill="none" stroke="#222" stroke-width="0.7"/>
<circle cx="608.2" cy="637.88" r="1.2" fill="none" stroke="#222" stroke-width="0.7"/>
<circle cx="611.1" cy="637.16" r="1.2" fill="none" stroke="#222" stroke-width="0.7"/>
<circle cx="614" cy="636.66" r="1.2" fill="none" stroke="#222" stroke-width="0.7"/>
<line x1="581.3" y1="593.9" x2="581.3" y2="698.8" stroke="#161616" stroke-width="1.2"/>
<line x1="576.7" y1="698.2" x2="581.3" y2="698.2" stroke="#161616" stroke-width="1.2"/>
<text x="575.1" y="702.03" font-size="11.6" text-anchor="end">0.0</text>
<line x1="576.7" y1="677.34" x2="581.3" y2="677.34" stroke="#161616" stroke-width="1.2"/>
<text x="575.1" y="681.17" font-size="11.6" text-anchor="end">0.2</text>
<line x1="576.7" y1="656.48" x2="581.3" y2="656.48" stroke="#161616" stroke-width="1.2"/>
<text x="575.1" y="660.31" font-size="11.6" text-anchor="end">0.4</text>
<line x1="576.7" y1="635.62" x2="581.3" y2="635.62" stroke="#161616" stroke-width="1.2"/>
<text x="575.1" y="639.45" font-size="11.6" text-anchor="end">0.6</text>
<line x1="576.7" y1="614.76" x2="581.3" y2="614.76" stroke="#161616" stroke-width="1.2"/>
<text x="575.1" y="618.59" font-size="11.6" text-anchor="end">0.8</text>
<line x1="576.7" y1="593.9" x2="581.3" y2="593.9" stroke="#161616" stroke-width="1.2"/>
<text x="575.1" y="597.73" font-size="11.6" text-anchor="end">1.0</text>
<line x1="580.7" y1="698.2" x2="622.9" y2="698.2" stroke="#161616" stroke-width="1.2"/>
<line x1="593" y1="698.2" x2="593" y2="702.4" stroke="#161616" stroke-width="1.2"/>
<line x1="611.1" y1="698.2" x2="611.1" y2="702.4" stroke="#161616" stroke-width="1.2"/>
<polyline points="592.3,611.11 592.3,593.9 611.3,593.9 611.3,602.77" fill="none" stroke="#111" stroke-width="1.3" stroke-linejoin="round"/>
<text x="611" y="612.9" font-size="12.4" text-anchor="middle" stroke="#231f20" stroke-width="0.35">***</text>
<text x="537.3" y="642.55" font-size="12.9" text-anchor="middle" transform="rotate(-90 537.3 642.55)">Aversion ratio</text>
<text x="552.3" y="642.55" font-size="12.9" text-anchor="middle" transform="rotate(-90 552.3 642.55)">(16-20 hrs)</text>
<text x="595.4" y="711.5" font-size="11.4" font-style="italic" text-anchor="end" transform="rotate(-45 595.4 711.5)">WT</text>
<text x="613.9" y="711.6" font-size="11.4" text-anchor="end" transform="rotate(-45 613.9 711.6)">&#916;<tspan font-style="italic">fepB</tspan></text>
<line x1="74.9" y1="567.4" x2="74.9" y2="576.5" stroke="#111" stroke-width="1.3"/>
<polygon points="74.9,583 69.7,573.7 74.9,575.65 80.1,573.7" fill="#111" stroke="none" stroke-width="0"/>
<line x1="218.4" y1="567.4" x2="218.4" y2="576.5" stroke="#111" stroke-width="1.3"/>
<polygon points="218.4,583 213.2,573.7 218.4,575.65 223.6,573.7" fill="#111" stroke="none" stroke-width="0"/>
<line x1="343.9" y1="567.4" x2="343.9" y2="576.5" stroke="#111" stroke-width="1.3"/>
<polygon points="343.9,583 338.7,573.7 343.9,575.65 349.1,573.7" fill="#111" stroke="none" stroke-width="0"/>
<line x1="467.7" y1="567.4" x2="467.7" y2="576.5" stroke="#111" stroke-width="1.3"/>
<polygon points="467.7,583 462.5,573.7 467.7,575.65 472.9,573.7" fill="#111" stroke="none" stroke-width="0"/>
<line x1="589.9" y1="567.4" x2="589.9" y2="576.5" stroke="#111" stroke-width="1.3"/>
<polygon points="589.9,583 584.7,573.7 589.9,575.65 595.1,573.7" fill="#111" stroke="none" stroke-width="0"/>
</svg>
</body></html>
